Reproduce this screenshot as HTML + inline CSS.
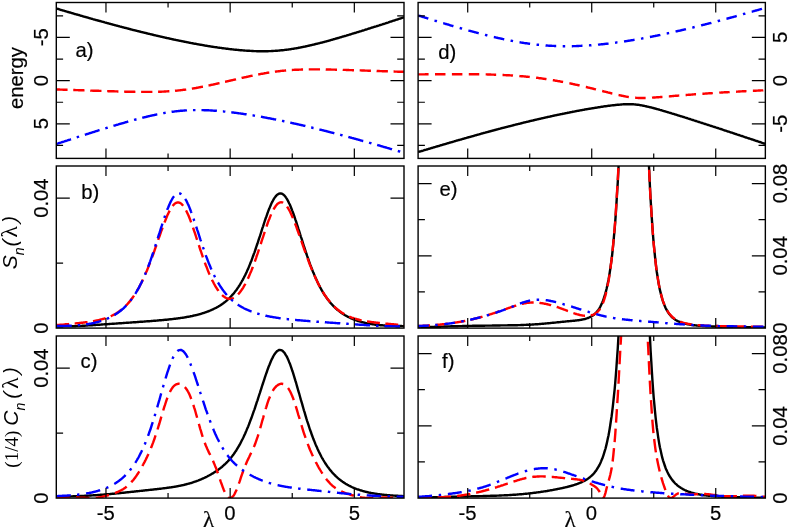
<!DOCTYPE html>
<html><head><meta charset="utf-8"><title>fig</title>
<style>html,body{margin:0;padding:0;background:#fff;}svg{display:block}</style></head>
<body><svg width="789" height="529" viewBox="0 0 789 529">
<rect width="789" height="529" fill="#fff"/>
<clipPath id="cpa"><rect x="56.3" y="2.5" width="347.7" height="155.9"/></clipPath>
<g clip-path="url(#cpa)" fill="none" stroke-width="2.4" stroke-linejoin="round">
<path d="M56.3,144.0 L56.9,143.8 L57.5,143.6 L58.2,143.4 L58.8,143.2 L59.4,143.0 L60.0,142.8 L60.6,142.6 L61.3,142.4 L61.9,142.2 L62.5,142.0 L63.1,141.8 L63.8,141.6 L64.4,141.4 L65.0,141.2 L65.6,141.0 L66.2,140.8 L66.9,140.6 L67.5,140.4 L68.1,140.2 L68.7,140.0 L69.3,139.8 L70.0,139.6 L70.6,139.4 L71.2,139.2 L71.8,138.9 L72.4,138.7 L73.1,138.5 L73.7,138.3 L74.3,138.1 L74.9,137.9 L75.5,137.7 L76.2,137.5 L76.8,137.3 L77.4,137.1 L78.0,136.9 L78.7,136.7 L79.3,136.5 L79.9,136.3 L80.5,136.1 L81.1,135.9 L81.8,135.7 L82.4,135.5 L83.0,135.3 L83.6,135.1 L84.2,134.9 L84.9,134.7 L85.5,134.6 L86.1,134.4 L86.7,134.2 L87.3,134.0 L88.0,133.8 L88.6,133.6 L89.2,133.4 L89.8,133.2 L90.4,133.0 L91.1,132.8 L91.7,132.6 L92.3,132.4 L92.9,132.2 L93.6,132.0 L94.2,131.8 L94.8,131.6 L95.4,131.4 L96.0,131.2 L96.7,131.0 L97.3,130.8 L97.9,130.6 L98.5,130.4 L99.1,130.2 L99.8,130.0 L100.4,129.9 L101.0,129.7 L101.6,129.5 L102.2,129.3 L102.9,129.1 L103.5,128.9 L104.1,128.7 L104.7,128.5 L105.4,128.3 L106.0,128.1 L106.6,127.9 L107.2,127.8 L107.8,127.6 L108.5,127.4 L109.1,127.2 L109.7,127.0 L110.3,126.8 L110.9,126.6 L111.6,126.4 L112.2,126.2 L112.8,126.1 L113.4,125.9 L114.0,125.7 L114.7,125.5 L115.3,125.3 L115.9,125.1 L116.5,124.9 L117.1,124.8 L117.8,124.6 L118.4,124.4 L119.0,124.2 L119.6,124.0 L120.3,123.9 L120.9,123.7 L121.5,123.5 L122.1,123.3 L122.7,123.1 L123.4,123.0 L124.0,122.8 L124.6,122.6 L125.2,122.4 L125.8,122.2 L126.5,122.1 L127.1,121.9 L127.7,121.7 L128.3,121.5 L128.9,121.4 L129.6,121.2 L130.2,121.0 L130.8,120.8 L131.4,120.7 L132.0,120.5 L132.7,120.3 L133.3,120.2 L133.9,120.0 L134.5,119.8 L135.2,119.7 L135.8,119.5 L136.4,119.3 L137.0,119.2 L137.6,119.0 L138.3,118.8 L138.9,118.7 L139.5,118.5 L140.1,118.4 L140.7,118.2 L141.4,118.0 L142.0,117.9 L142.6,117.7 L143.2,117.6 L143.8,117.4 L144.5,117.3 L145.1,117.1 L145.7,117.0 L146.3,116.8 L147.0,116.7 L147.6,116.5 L148.2,116.4 L148.8,116.2 L149.4,116.1 L150.1,115.9 L150.7,115.8 L151.3,115.6 L151.9,115.5 L152.5,115.4 L153.2,115.2 L153.8,115.1 L154.4,115.0 L155.0,114.8 L155.6,114.7 L156.3,114.6 L156.9,114.4 L157.5,114.3 L158.1,114.2 L158.7,114.1 L159.4,113.9 L160.0,113.8 L160.6,113.7 L161.2,113.6 L161.9,113.5 L162.5,113.3 L163.1,113.2 L163.7,113.1 L164.3,113.0 L165.0,112.9 L165.6,112.8 L166.2,112.7 L166.8,112.6 L167.4,112.5 L168.1,112.4 L168.7,112.3 L169.3,112.2 L169.9,112.1 L170.5,112.0 L171.2,111.9 L171.8,111.8 L172.4,111.7 L173.0,111.7 L173.6,111.6 L174.3,111.5 L174.9,111.4 L175.5,111.4 L176.1,111.3 L176.8,111.2 L177.4,111.1 L178.0,111.1 L178.6,111.0 L179.2,111.0 L179.9,110.9 L180.5,110.8 L181.1,110.8 L181.7,110.7 L182.3,110.7 L183.0,110.6 L183.6,110.6 L184.2,110.5 L184.8,110.5 L185.4,110.4 L186.1,110.4 L186.7,110.4 L187.3,110.3 L187.9,110.3 L188.6,110.3 L189.2,110.2 L189.8,110.2 L190.4,110.2 L191.0,110.2 L191.7,110.2 L192.3,110.1 L192.9,110.1 L193.5,110.1 L194.1,110.1 L194.8,110.1 L195.4,110.1 L196.0,110.1 L196.6,110.1 L197.2,110.1 L197.9,110.1 L198.5,110.1 L199.1,110.1 L199.7,110.1 L200.3,110.1 L201.0,110.1 L201.6,110.1 L202.2,110.1 L202.8,110.1 L203.5,110.1 L204.1,110.2 L204.7,110.2 L205.3,110.2 L205.9,110.2 L206.6,110.2 L207.2,110.3 L207.8,110.3 L208.4,110.3 L209.0,110.4 L209.7,110.4 L210.3,110.4 L210.9,110.5 L211.5,110.5 L212.1,110.5 L212.8,110.6 L213.4,110.6 L214.0,110.7 L214.6,110.7 L215.2,110.7 L215.9,110.8 L216.5,110.8 L217.1,110.9 L217.7,110.9 L218.4,111.0 L219.0,111.0 L219.6,111.1 L220.2,111.1 L220.8,111.2 L221.5,111.3 L222.1,111.3 L222.7,111.4 L223.3,111.4 L223.9,111.5 L224.6,111.6 L225.2,111.6 L225.8,111.7 L226.4,111.7 L227.0,111.8 L227.7,111.9 L228.3,111.9 L228.9,112.0 L229.5,112.1 L230.1,112.2 L230.8,112.2 L231.4,112.3 L232.0,112.4 L232.6,112.5 L233.3,112.5 L233.9,112.6 L234.5,112.7 L235.1,112.8 L235.7,112.9 L236.4,112.9 L237.0,113.0 L237.6,113.1 L238.2,113.2 L238.8,113.3 L239.5,113.4 L240.1,113.4 L240.7,113.5 L241.3,113.6 L241.9,113.7 L242.6,113.8 L243.2,113.9 L243.8,114.0 L244.4,114.1 L245.1,114.2 L245.7,114.2 L246.3,114.3 L246.9,114.4 L247.5,114.5 L248.2,114.6 L248.8,114.7 L249.4,114.8 L250.0,114.9 L250.6,115.0 L251.3,115.1 L251.9,115.2 L252.5,115.3 L253.1,115.4 L253.7,115.5 L254.4,115.6 L255.0,115.7 L255.6,115.8 L256.2,115.9 L256.8,116.1 L257.5,116.2 L258.1,116.3 L258.7,116.4 L259.3,116.5 L260.0,116.6 L260.6,116.7 L261.2,116.8 L261.8,116.9 L262.4,117.0 L263.1,117.2 L263.7,117.3 L264.3,117.4 L264.9,117.5 L265.5,117.6 L266.2,117.7 L266.8,117.8 L267.4,118.0 L268.0,118.1 L268.6,118.2 L269.3,118.3 L269.9,118.4 L270.5,118.5 L271.1,118.7 L271.7,118.8 L272.4,118.9 L273.0,119.0 L273.6,119.2 L274.2,119.3 L274.9,119.4 L275.5,119.5 L276.1,119.6 L276.7,119.8 L277.3,119.9 L278.0,120.0 L278.6,120.2 L279.2,120.3 L279.8,120.4 L280.4,120.5 L281.1,120.7 L281.7,120.8 L282.3,120.9 L282.9,121.0 L283.5,121.2 L284.2,121.3 L284.8,121.4 L285.4,121.6 L286.0,121.7 L286.7,121.8 L287.3,122.0 L287.9,122.1 L288.5,122.2 L289.1,122.4 L289.8,122.5 L290.4,122.6 L291.0,122.8 L291.6,122.9 L292.2,123.1 L292.9,123.2 L293.5,123.3 L294.1,123.5 L294.7,123.6 L295.3,123.7 L296.0,123.9 L296.6,124.0 L297.2,124.2 L297.8,124.3 L298.4,124.4 L299.1,124.6 L299.7,124.7 L300.3,124.9 L300.9,125.0 L301.6,125.2 L302.2,125.3 L302.8,125.4 L303.4,125.6 L304.0,125.7 L304.7,125.9 L305.3,126.0 L305.9,126.2 L306.5,126.3 L307.1,126.5 L307.8,126.6 L308.4,126.8 L309.0,126.9 L309.6,127.1 L310.2,127.2 L310.9,127.4 L311.5,127.5 L312.1,127.7 L312.7,127.8 L313.3,128.0 L314.0,128.1 L314.6,128.3 L315.2,128.4 L315.8,128.6 L316.5,128.7 L317.1,128.9 L317.7,129.0 L318.3,129.2 L318.9,129.3 L319.6,129.5 L320.2,129.6 L320.8,129.8 L321.4,129.9 L322.0,130.1 L322.7,130.2 L323.3,130.4 L323.9,130.6 L324.5,130.7 L325.1,130.9 L325.8,131.0 L326.4,131.2 L327.0,131.3 L327.6,131.5 L328.3,131.7 L328.9,131.8 L329.5,132.0 L330.1,132.1 L330.7,132.3 L331.4,132.5 L332.0,132.6 L332.6,132.8 L333.2,132.9 L333.8,133.1 L334.5,133.3 L335.1,133.4 L335.7,133.6 L336.3,133.7 L336.9,133.9 L337.6,134.1 L338.2,134.2 L338.8,134.4 L339.4,134.6 L340.0,134.7 L340.7,134.9 L341.3,135.1 L341.9,135.2 L342.5,135.4 L343.2,135.6 L343.8,135.7 L344.4,135.9 L345.0,136.0 L345.6,136.2 L346.3,136.4 L346.9,136.5 L347.5,136.7 L348.1,136.9 L348.7,137.1 L349.4,137.2 L350.0,137.4 L350.6,137.6 L351.2,137.7 L351.8,137.9 L352.5,138.1 L353.1,138.2 L353.7,138.4 L354.3,138.6 L354.9,138.7 L355.6,138.9 L356.2,139.1 L356.8,139.3 L357.4,139.4 L358.1,139.6 L358.7,139.8 L359.3,139.9 L359.9,140.1 L360.5,140.3 L361.2,140.5 L361.8,140.6 L362.4,140.8 L363.0,141.0 L363.6,141.1 L364.3,141.3 L364.9,141.5 L365.5,141.7 L366.1,141.8 L366.7,142.0 L367.4,142.2 L368.0,142.4 L368.6,142.5 L369.2,142.7 L369.9,142.9 L370.5,143.1 L371.1,143.2 L371.7,143.4 L372.3,143.6 L373.0,143.8 L373.6,143.9 L374.2,144.1 L374.8,144.3 L375.4,144.5 L376.1,144.7 L376.7,144.8 L377.3,145.0 L377.9,145.2 L378.5,145.4 L379.2,145.5 L379.8,145.7 L380.4,145.9 L381.0,146.1 L381.6,146.3 L382.3,146.4 L382.9,146.6 L383.5,146.8 L384.1,147.0 L384.8,147.2 L385.4,147.3 L386.0,147.5 L386.6,147.7 L387.2,147.9 L387.9,148.1 L388.5,148.2 L389.1,148.4 L389.7,148.6 L390.3,148.8 L391.0,149.0 L391.6,149.1 L392.2,149.3 L392.8,149.5 L393.4,149.7 L394.1,149.9 L394.7,150.1 L395.3,150.2 L395.9,150.4 L396.5,150.6 L397.2,150.8 L397.8,151.0 L398.4,151.2 L399.0,151.3 L399.7,151.5 L400.3,151.7 L400.9,151.9 L401.5,152.1 L402.1,152.3 L402.8,152.4 L403.4,152.6 L404.0,152.8" stroke="#0000ff" stroke-dasharray="15.5 6 2.5 6"/>
<path d="M56.3,89.4 L56.9,89.5 L57.5,89.5 L58.2,89.5 L58.8,89.5 L59.4,89.5 L60.0,89.6 L60.6,89.6 L61.3,89.6 L61.9,89.6 L62.5,89.6 L63.1,89.7 L63.8,89.7 L64.4,89.7 L65.0,89.7 L65.6,89.7 L66.2,89.8 L66.9,89.8 L67.5,89.8 L68.1,89.8 L68.7,89.8 L69.3,89.9 L70.0,89.9 L70.6,89.9 L71.2,89.9 L71.8,89.9 L72.4,90.0 L73.1,90.0 L73.7,90.0 L74.3,90.0 L74.9,90.0 L75.5,90.1 L76.2,90.1 L76.8,90.1 L77.4,90.1 L78.0,90.1 L78.7,90.2 L79.3,90.2 L79.9,90.2 L80.5,90.2 L81.1,90.3 L81.8,90.3 L82.4,90.3 L83.0,90.3 L83.6,90.3 L84.2,90.4 L84.9,90.4 L85.5,90.4 L86.1,90.4 L86.7,90.4 L87.3,90.5 L88.0,90.5 L88.6,90.5 L89.2,90.5 L89.8,90.5 L90.4,90.6 L91.1,90.6 L91.7,90.6 L92.3,90.6 L92.9,90.7 L93.6,90.7 L94.2,90.7 L94.8,90.7 L95.4,90.7 L96.0,90.8 L96.7,90.8 L97.3,90.8 L97.9,90.8 L98.5,90.8 L99.1,90.9 L99.8,90.9 L100.4,90.9 L101.0,90.9 L101.6,90.9 L102.2,91.0 L102.9,91.0 L103.5,91.0 L104.1,91.0 L104.7,91.0 L105.4,91.1 L106.0,91.1 L106.6,91.1 L107.2,91.1 L107.8,91.1 L108.5,91.2 L109.1,91.2 L109.7,91.2 L110.3,91.2 L110.9,91.2 L111.6,91.3 L112.2,91.3 L112.8,91.3 L113.4,91.3 L114.0,91.3 L114.7,91.4 L115.3,91.4 L115.9,91.4 L116.5,91.4 L117.1,91.4 L117.8,91.5 L118.4,91.5 L119.0,91.5 L119.6,91.5 L120.3,91.5 L120.9,91.5 L121.5,91.6 L122.1,91.6 L122.7,91.6 L123.4,91.6 L124.0,91.6 L124.6,91.6 L125.2,91.7 L125.8,91.7 L126.5,91.7 L127.1,91.7 L127.7,91.7 L128.3,91.7 L128.9,91.7 L129.6,91.8 L130.2,91.8 L130.8,91.8 L131.4,91.8 L132.0,91.8 L132.7,91.8 L133.3,91.8 L133.9,91.8 L134.5,91.8 L135.2,91.9 L135.8,91.9 L136.4,91.9 L137.0,91.9 L137.6,91.9 L138.3,91.9 L138.9,91.9 L139.5,91.9 L140.1,91.9 L140.7,91.9 L141.4,91.9 L142.0,91.9 L142.6,91.9 L143.2,91.9 L143.8,91.9 L144.5,91.9 L145.1,91.9 L145.7,91.9 L146.3,91.9 L147.0,91.9 L147.6,91.9 L148.2,91.9 L148.8,91.9 L149.4,91.9 L150.1,91.9 L150.7,91.9 L151.3,91.9 L151.9,91.9 L152.5,91.9 L153.2,91.9 L153.8,91.9 L154.4,91.9 L155.0,91.9 L155.6,91.8 L156.3,91.8 L156.9,91.8 L157.5,91.8 L158.1,91.8 L158.7,91.8 L159.4,91.7 L160.0,91.7 L160.6,91.7 L161.2,91.7 L161.9,91.6 L162.5,91.6 L163.1,91.6 L163.7,91.6 L164.3,91.5 L165.0,91.5 L165.6,91.5 L166.2,91.4 L166.8,91.4 L167.4,91.4 L168.1,91.3 L168.7,91.3 L169.3,91.2 L169.9,91.2 L170.5,91.1 L171.2,91.1 L171.8,91.1 L172.4,91.0 L173.0,91.0 L173.6,90.9 L174.3,90.8 L174.9,90.8 L175.5,90.7 L176.1,90.7 L176.8,90.6 L177.4,90.6 L178.0,90.5 L178.6,90.4 L179.2,90.4 L179.9,90.3 L180.5,90.2 L181.1,90.1 L181.7,90.1 L182.3,90.0 L183.0,89.9 L183.6,89.8 L184.2,89.8 L184.8,89.7 L185.4,89.6 L186.1,89.5 L186.7,89.4 L187.3,89.3 L187.9,89.3 L188.6,89.2 L189.2,89.1 L189.8,89.0 L190.4,88.9 L191.0,88.8 L191.7,88.7 L192.3,88.6 L192.9,88.5 L193.5,88.4 L194.1,88.3 L194.8,88.2 L195.4,88.1 L196.0,88.0 L196.6,87.8 L197.2,87.7 L197.9,87.6 L198.5,87.5 L199.1,87.4 L199.7,87.3 L200.3,87.2 L201.0,87.0 L201.6,86.9 L202.2,86.8 L202.8,86.7 L203.5,86.6 L204.1,86.4 L204.7,86.3 L205.3,86.2 L205.9,86.1 L206.6,85.9 L207.2,85.8 L207.8,85.7 L208.4,85.5 L209.0,85.4 L209.7,85.3 L210.3,85.2 L210.9,85.0 L211.5,84.9 L212.1,84.7 L212.8,84.6 L213.4,84.5 L214.0,84.3 L214.6,84.2 L215.2,84.1 L215.9,83.9 L216.5,83.8 L217.1,83.7 L217.7,83.5 L218.4,83.4 L219.0,83.2 L219.6,83.1 L220.2,82.9 L220.8,82.8 L221.5,82.7 L222.1,82.5 L222.7,82.4 L223.3,82.2 L223.9,82.1 L224.6,81.9 L225.2,81.8 L225.8,81.7 L226.4,81.5 L227.0,81.4 L227.7,81.2 L228.3,81.1 L228.9,80.9 L229.5,80.8 L230.1,80.7 L230.8,80.5 L231.4,80.4 L232.0,80.2 L232.6,80.1 L233.3,79.9 L233.9,79.8 L234.5,79.6 L235.1,79.5 L235.7,79.4 L236.4,79.2 L237.0,79.1 L237.6,78.9 L238.2,78.8 L238.8,78.6 L239.5,78.5 L240.1,78.4 L240.7,78.2 L241.3,78.1 L241.9,77.9 L242.6,77.8 L243.2,77.6 L243.8,77.5 L244.4,77.4 L245.1,77.2 L245.7,77.1 L246.3,77.0 L246.9,76.8 L247.5,76.7 L248.2,76.6 L248.8,76.4 L249.4,76.3 L250.0,76.1 L250.6,76.0 L251.3,75.9 L251.9,75.8 L252.5,75.6 L253.1,75.5 L253.7,75.4 L254.4,75.2 L255.0,75.1 L255.6,75.0 L256.2,74.9 L256.8,74.7 L257.5,74.6 L258.1,74.5 L258.7,74.4 L259.3,74.3 L260.0,74.1 L260.6,74.0 L261.2,73.9 L261.8,73.8 L262.4,73.7 L263.1,73.6 L263.7,73.5 L264.3,73.3 L264.9,73.2 L265.5,73.1 L266.2,73.0 L266.8,72.9 L267.4,72.8 L268.0,72.7 L268.6,72.6 L269.3,72.5 L269.9,72.4 L270.5,72.3 L271.1,72.2 L271.7,72.1 L272.4,72.0 L273.0,72.0 L273.6,71.9 L274.2,71.8 L274.9,71.7 L275.5,71.6 L276.1,71.5 L276.7,71.5 L277.3,71.4 L278.0,71.3 L278.6,71.2 L279.2,71.2 L279.8,71.1 L280.4,71.0 L281.1,70.9 L281.7,70.9 L282.3,70.8 L282.9,70.7 L283.5,70.7 L284.2,70.6 L284.8,70.6 L285.4,70.5 L286.0,70.5 L286.7,70.4 L287.3,70.3 L287.9,70.3 L288.5,70.2 L289.1,70.2 L289.8,70.2 L290.4,70.1 L291.0,70.1 L291.6,70.0 L292.2,70.0 L292.9,69.9 L293.5,69.9 L294.1,69.9 L294.7,69.8 L295.3,69.8 L296.0,69.8 L296.6,69.7 L297.2,69.7 L297.8,69.7 L298.4,69.7 L299.1,69.6 L299.7,69.6 L300.3,69.6 L300.9,69.6 L301.6,69.5 L302.2,69.5 L302.8,69.5 L303.4,69.5 L304.0,69.5 L304.7,69.5 L305.3,69.4 L305.9,69.4 L306.5,69.4 L307.1,69.4 L307.8,69.4 L308.4,69.4 L309.0,69.4 L309.6,69.4 L310.2,69.4 L310.9,69.4 L311.5,69.4 L312.1,69.4 L312.7,69.4 L313.3,69.4 L314.0,69.4 L314.6,69.4 L315.2,69.4 L315.8,69.4 L316.5,69.4 L317.1,69.4 L317.7,69.4 L318.3,69.4 L318.9,69.4 L319.6,69.4 L320.2,69.4 L320.8,69.4 L321.4,69.4 L322.0,69.4 L322.7,69.4 L323.3,69.4 L323.9,69.4 L324.5,69.4 L325.1,69.4 L325.8,69.5 L326.4,69.5 L327.0,69.5 L327.6,69.5 L328.3,69.5 L328.9,69.5 L329.5,69.5 L330.1,69.5 L330.7,69.5 L331.4,69.6 L332.0,69.6 L332.6,69.6 L333.2,69.6 L333.8,69.6 L334.5,69.6 L335.1,69.6 L335.7,69.7 L336.3,69.7 L336.9,69.7 L337.6,69.7 L338.2,69.7 L338.8,69.7 L339.4,69.8 L340.0,69.8 L340.7,69.8 L341.3,69.8 L341.9,69.8 L342.5,69.8 L343.2,69.9 L343.8,69.9 L344.4,69.9 L345.0,69.9 L345.6,69.9 L346.3,70.0 L346.9,70.0 L347.5,70.0 L348.1,70.0 L348.7,70.0 L349.4,70.1 L350.0,70.1 L350.6,70.1 L351.2,70.1 L351.8,70.1 L352.5,70.2 L353.1,70.2 L353.7,70.2 L354.3,70.2 L354.9,70.2 L355.6,70.3 L356.2,70.3 L356.8,70.3 L357.4,70.3 L358.1,70.3 L358.7,70.4 L359.3,70.4 L359.9,70.4 L360.5,70.4 L361.2,70.4 L361.8,70.5 L362.4,70.5 L363.0,70.5 L363.6,70.5 L364.3,70.5 L364.9,70.6 L365.5,70.6 L366.1,70.6 L366.7,70.6 L367.4,70.6 L368.0,70.7 L368.6,70.7 L369.2,70.7 L369.9,70.7 L370.5,70.8 L371.1,70.8 L371.7,70.8 L372.3,70.8 L373.0,70.8 L373.6,70.9 L374.2,70.9 L374.8,70.9 L375.4,70.9 L376.1,70.9 L376.7,71.0 L377.3,71.0 L377.9,71.0 L378.5,71.0 L379.2,71.0 L379.8,71.1 L380.4,71.1 L381.0,71.1 L381.6,71.1 L382.3,71.2 L382.9,71.2 L383.5,71.2 L384.1,71.2 L384.8,71.2 L385.4,71.3 L386.0,71.3 L386.6,71.3 L387.2,71.3 L387.9,71.3 L388.5,71.4 L389.1,71.4 L389.7,71.4 L390.3,71.4 L391.0,71.4 L391.6,71.5 L392.2,71.5 L392.8,71.5 L393.4,71.5 L394.1,71.5 L394.7,71.6 L395.3,71.6 L395.9,71.6 L396.5,71.6 L397.2,71.6 L397.8,71.7 L398.4,71.7 L399.0,71.7 L399.7,71.7 L400.3,71.7 L400.9,71.8 L401.5,71.8 L402.1,71.8 L402.8,71.8 L403.4,71.8 L404.0,71.9" stroke="#ff0000" stroke-dasharray="11.3 5.7"/>
<path d="M56.3,8.5 L56.9,8.7 L57.5,8.9 L58.2,9.0 L58.8,9.2 L59.4,9.4 L60.0,9.6 L60.6,9.8 L61.3,10.0 L61.9,10.1 L62.5,10.3 L63.1,10.5 L63.8,10.7 L64.4,10.9 L65.0,11.1 L65.6,11.2 L66.2,11.4 L66.9,11.6 L67.5,11.8 L68.1,12.0 L68.7,12.2 L69.3,12.3 L70.0,12.5 L70.6,12.7 L71.2,12.9 L71.8,13.1 L72.4,13.2 L73.1,13.4 L73.7,13.6 L74.3,13.8 L74.9,14.0 L75.5,14.1 L76.2,14.3 L76.8,14.5 L77.4,14.7 L78.0,14.9 L78.7,15.0 L79.3,15.2 L79.9,15.4 L80.5,15.6 L81.1,15.8 L81.8,15.9 L82.4,16.1 L83.0,16.3 L83.6,16.5 L84.2,16.6 L84.9,16.8 L85.5,17.0 L86.1,17.2 L86.7,17.4 L87.3,17.5 L88.0,17.7 L88.6,17.9 L89.2,18.1 L89.8,18.2 L90.4,18.4 L91.1,18.6 L91.7,18.8 L92.3,18.9 L92.9,19.1 L93.6,19.3 L94.2,19.5 L94.8,19.6 L95.4,19.8 L96.0,20.0 L96.7,20.2 L97.3,20.3 L97.9,20.5 L98.5,20.7 L99.1,20.8 L99.8,21.0 L100.4,21.2 L101.0,21.4 L101.6,21.5 L102.2,21.7 L102.9,21.9 L103.5,22.0 L104.1,22.2 L104.7,22.4 L105.4,22.6 L106.0,22.7 L106.6,22.9 L107.2,23.1 L107.8,23.2 L108.5,23.4 L109.1,23.6 L109.7,23.7 L110.3,23.9 L110.9,24.1 L111.6,24.2 L112.2,24.4 L112.8,24.6 L113.4,24.8 L114.0,24.9 L114.7,25.1 L115.3,25.3 L115.9,25.4 L116.5,25.6 L117.1,25.7 L117.8,25.9 L118.4,26.1 L119.0,26.2 L119.6,26.4 L120.3,26.6 L120.9,26.7 L121.5,26.9 L122.1,27.1 L122.7,27.2 L123.4,27.4 L124.0,27.6 L124.6,27.7 L125.2,27.9 L125.8,28.0 L126.5,28.2 L127.1,28.4 L127.7,28.5 L128.3,28.7 L128.9,28.8 L129.6,29.0 L130.2,29.2 L130.8,29.3 L131.4,29.5 L132.0,29.6 L132.7,29.8 L133.3,30.0 L133.9,30.1 L134.5,30.3 L135.2,30.4 L135.8,30.6 L136.4,30.7 L137.0,30.9 L137.6,31.1 L138.3,31.2 L138.9,31.4 L139.5,31.5 L140.1,31.7 L140.7,31.8 L141.4,32.0 L142.0,32.1 L142.6,32.3 L143.2,32.4 L143.8,32.6 L144.5,32.7 L145.1,32.9 L145.7,33.0 L146.3,33.2 L147.0,33.3 L147.6,33.5 L148.2,33.6 L148.8,33.8 L149.4,33.9 L150.1,34.1 L150.7,34.2 L151.3,34.4 L151.9,34.5 L152.5,34.7 L153.2,34.8 L153.8,35.0 L154.4,35.1 L155.0,35.3 L155.6,35.4 L156.3,35.6 L156.9,35.7 L157.5,35.9 L158.1,36.0 L158.7,36.1 L159.4,36.3 L160.0,36.4 L160.6,36.6 L161.2,36.7 L161.9,36.9 L162.5,37.0 L163.1,37.1 L163.7,37.3 L164.3,37.4 L165.0,37.6 L165.6,37.7 L166.2,37.8 L166.8,38.0 L167.4,38.1 L168.1,38.2 L168.7,38.4 L169.3,38.5 L169.9,38.7 L170.5,38.8 L171.2,38.9 L171.8,39.1 L172.4,39.2 L173.0,39.3 L173.6,39.5 L174.3,39.6 L174.9,39.7 L175.5,39.9 L176.1,40.0 L176.8,40.1 L177.4,40.3 L178.0,40.4 L178.6,40.5 L179.2,40.6 L179.9,40.8 L180.5,40.9 L181.1,41.0 L181.7,41.1 L182.3,41.3 L183.0,41.4 L183.6,41.5 L184.2,41.7 L184.8,41.8 L185.4,41.9 L186.1,42.0 L186.7,42.1 L187.3,42.3 L187.9,42.4 L188.6,42.5 L189.2,42.6 L189.8,42.8 L190.4,42.9 L191.0,43.0 L191.7,43.1 L192.3,43.2 L192.9,43.3 L193.5,43.5 L194.1,43.6 L194.8,43.7 L195.4,43.8 L196.0,43.9 L196.6,44.0 L197.2,44.1 L197.9,44.3 L198.5,44.4 L199.1,44.5 L199.7,44.6 L200.3,44.7 L201.0,44.8 L201.6,44.9 L202.2,45.0 L202.8,45.1 L203.5,45.2 L204.1,45.4 L204.7,45.5 L205.3,45.6 L205.9,45.7 L206.6,45.8 L207.2,45.9 L207.8,46.0 L208.4,46.1 L209.0,46.2 L209.7,46.3 L210.3,46.4 L210.9,46.5 L211.5,46.6 L212.1,46.7 L212.8,46.8 L213.4,46.9 L214.0,47.0 L214.6,47.1 L215.2,47.1 L215.9,47.2 L216.5,47.3 L217.1,47.4 L217.7,47.5 L218.4,47.6 L219.0,47.7 L219.6,47.8 L220.2,47.9 L220.8,47.9 L221.5,48.0 L222.1,48.1 L222.7,48.2 L223.3,48.3 L223.9,48.4 L224.6,48.4 L225.2,48.5 L225.8,48.6 L226.4,48.7 L227.0,48.8 L227.7,48.8 L228.3,48.9 L228.9,49.0 L229.5,49.1 L230.1,49.1 L230.8,49.2 L231.4,49.3 L232.0,49.4 L232.6,49.4 L233.3,49.5 L233.9,49.6 L234.5,49.6 L235.1,49.7 L235.7,49.7 L236.4,49.8 L237.0,49.9 L237.6,49.9 L238.2,50.0 L238.8,50.0 L239.5,50.1 L240.1,50.2 L240.7,50.2 L241.3,50.3 L241.9,50.3 L242.6,50.4 L243.2,50.4 L243.8,50.5 L244.4,50.5 L245.1,50.6 L245.7,50.6 L246.3,50.6 L246.9,50.7 L247.5,50.7 L248.2,50.8 L248.8,50.8 L249.4,50.8 L250.0,50.9 L250.6,50.9 L251.3,50.9 L251.9,51.0 L252.5,51.0 L253.1,51.0 L253.7,51.1 L254.4,51.1 L255.0,51.1 L255.6,51.1 L256.2,51.1 L256.8,51.2 L257.5,51.2 L258.1,51.2 L258.7,51.2 L259.3,51.2 L260.0,51.2 L260.6,51.2 L261.2,51.2 L261.8,51.2 L262.4,51.2 L263.1,51.2 L263.7,51.2 L264.3,51.2 L264.9,51.2 L265.5,51.2 L266.2,51.2 L266.8,51.2 L267.4,51.2 L268.0,51.2 L268.6,51.1 L269.3,51.1 L269.9,51.1 L270.5,51.1 L271.1,51.1 L271.7,51.0 L272.4,51.0 L273.0,51.0 L273.6,50.9 L274.2,50.9 L274.9,50.9 L275.5,50.8 L276.1,50.8 L276.7,50.7 L277.3,50.7 L278.0,50.6 L278.6,50.6 L279.2,50.5 L279.8,50.5 L280.4,50.4 L281.1,50.3 L281.7,50.3 L282.3,50.2 L282.9,50.2 L283.5,50.1 L284.2,50.0 L284.8,49.9 L285.4,49.9 L286.0,49.8 L286.7,49.7 L287.3,49.6 L287.9,49.6 L288.5,49.5 L289.1,49.4 L289.8,49.3 L290.4,49.2 L291.0,49.1 L291.6,49.0 L292.2,48.9 L292.9,48.8 L293.5,48.7 L294.1,48.6 L294.7,48.5 L295.3,48.4 L296.0,48.3 L296.6,48.2 L297.2,48.1 L297.8,48.0 L298.4,47.8 L299.1,47.7 L299.7,47.6 L300.3,47.5 L300.9,47.4 L301.6,47.2 L302.2,47.1 L302.8,47.0 L303.4,46.9 L304.0,46.7 L304.7,46.6 L305.3,46.5 L305.9,46.3 L306.5,46.2 L307.1,46.1 L307.8,45.9 L308.4,45.8 L309.0,45.7 L309.6,45.5 L310.2,45.4 L310.9,45.2 L311.5,45.1 L312.1,44.9 L312.7,44.8 L313.3,44.6 L314.0,44.5 L314.6,44.3 L315.2,44.2 L315.8,44.0 L316.5,43.9 L317.1,43.7 L317.7,43.6 L318.3,43.4 L318.9,43.3 L319.6,43.1 L320.2,42.9 L320.8,42.8 L321.4,42.6 L322.0,42.5 L322.7,42.3 L323.3,42.1 L323.9,42.0 L324.5,41.8 L325.1,41.6 L325.8,41.5 L326.4,41.3 L327.0,41.1 L327.6,41.0 L328.3,40.8 L328.9,40.6 L329.5,40.5 L330.1,40.3 L330.7,40.1 L331.4,39.9 L332.0,39.8 L332.6,39.6 L333.2,39.4 L333.8,39.2 L334.5,39.1 L335.1,38.9 L335.7,38.7 L336.3,38.5 L336.9,38.3 L337.6,38.2 L338.2,38.0 L338.8,37.8 L339.4,37.6 L340.0,37.4 L340.7,37.3 L341.3,37.1 L341.9,36.9 L342.5,36.7 L343.2,36.5 L343.8,36.4 L344.4,36.2 L345.0,36.0 L345.6,35.8 L346.3,35.6 L346.9,35.4 L347.5,35.2 L348.1,35.1 L348.7,34.9 L349.4,34.7 L350.0,34.5 L350.6,34.3 L351.2,34.1 L351.8,33.9 L352.5,33.7 L353.1,33.5 L353.7,33.4 L354.3,33.2 L354.9,33.0 L355.6,32.8 L356.2,32.6 L356.8,32.4 L357.4,32.2 L358.1,32.0 L358.7,31.8 L359.3,31.6 L359.9,31.4 L360.5,31.3 L361.2,31.1 L361.8,30.9 L362.4,30.7 L363.0,30.5 L363.6,30.3 L364.3,30.1 L364.9,29.9 L365.5,29.7 L366.1,29.5 L366.7,29.3 L367.4,29.1 L368.0,28.9 L368.6,28.7 L369.2,28.5 L369.9,28.3 L370.5,28.1 L371.1,27.9 L371.7,27.7 L372.3,27.5 L373.0,27.3 L373.6,27.1 L374.2,26.9 L374.8,26.7 L375.4,26.6 L376.1,26.4 L376.7,26.2 L377.3,26.0 L377.9,25.8 L378.5,25.6 L379.2,25.4 L379.8,25.2 L380.4,25.0 L381.0,24.8 L381.6,24.6 L382.3,24.4 L382.9,24.2 L383.5,24.0 L384.1,23.8 L384.8,23.6 L385.4,23.4 L386.0,23.2 L386.6,23.0 L387.2,22.8 L387.9,22.6 L388.5,22.4 L389.1,22.1 L389.7,21.9 L390.3,21.7 L391.0,21.5 L391.6,21.3 L392.2,21.1 L392.8,20.9 L393.4,20.7 L394.1,20.5 L394.7,20.3 L395.3,20.1 L395.9,19.9 L396.5,19.7 L397.2,19.5 L397.8,19.3 L398.4,19.1 L399.0,18.9 L399.7,18.7 L400.3,18.5 L400.9,18.3 L401.5,18.1 L402.1,17.9 L402.8,17.7 L403.4,17.5 L404.0,17.3" stroke="#000000"/>
</g>
<path d="M105.97,2.5v10 M105.97,158.4v-10 M230.15,2.5v10 M230.15,158.4v-10 M354.33,2.5v10 M354.33,158.4v-10 M168.06,2.5v5 M168.06,158.4v-5 M292.24,2.5v5 M292.24,158.4v-5 M56.3,37.45h13.5 M404.0,37.45h-13.5 M56.3,80.65h13.5 M404.0,80.65h-13.5 M56.3,123.85h13.5 M404.0,123.85h-13.5 M56.3,15.85h6.8 M404.0,15.85h-6.8 M56.3,59.05h6.8 M404.0,59.05h-6.8 M56.3,102.25h6.8 M404.0,102.25h-6.8 M56.3,145.45h6.8 M404.0,145.45h-6.8" stroke="#000" stroke-width="1.2" fill="none"/>
<rect x="56.3" y="2.5" width="347.7" height="155.9" fill="none" stroke="#000" stroke-width="1.4"/>
<clipPath id="cpd"><rect x="418.1" y="2.5" width="347.25" height="155.9"/></clipPath>
<g clip-path="url(#cpd)" fill="none" stroke-width="2.4" stroke-linejoin="round">
<path d="M418.1,15.4 L418.7,15.6 L419.3,15.8 L420.0,16.0 L420.6,16.2 L421.2,16.4 L421.8,16.6 L422.4,16.8 L423.1,17.0 L423.7,17.2 L424.3,17.4 L424.9,17.6 L425.5,17.7 L426.2,17.9 L426.8,18.1 L427.4,18.3 L428.0,18.5 L428.6,18.7 L429.3,18.9 L429.9,19.1 L430.5,19.3 L431.1,19.5 L431.7,19.7 L432.4,19.9 L433.0,20.0 L433.6,20.2 L434.2,20.4 L434.8,20.6 L435.5,20.8 L436.1,21.0 L436.7,21.2 L437.3,21.4 L437.9,21.6 L438.6,21.8 L439.2,21.9 L439.8,22.1 L440.4,22.3 L441.0,22.5 L441.7,22.7 L442.3,22.9 L442.9,23.1 L443.5,23.2 L444.1,23.4 L444.8,23.6 L445.4,23.8 L446.0,24.0 L446.6,24.2 L447.2,24.4 L447.9,24.5 L448.5,24.7 L449.1,24.9 L449.7,25.1 L450.3,25.3 L451.0,25.5 L451.6,25.6 L452.2,25.8 L452.8,26.0 L453.4,26.2 L454.1,26.4 L454.7,26.5 L455.3,26.7 L455.9,26.9 L456.5,27.1 L457.2,27.3 L457.8,27.4 L458.4,27.6 L459.0,27.8 L459.6,28.0 L460.3,28.2 L460.9,28.3 L461.5,28.5 L462.1,28.7 L462.7,28.9 L463.4,29.0 L464.0,29.2 L464.6,29.4 L465.2,29.6 L465.8,29.7 L466.5,29.9 L467.1,30.1 L467.7,30.3 L468.3,30.4 L468.9,30.6 L469.6,30.8 L470.2,30.9 L470.8,31.1 L471.4,31.3 L472.0,31.4 L472.7,31.6 L473.3,31.8 L473.9,31.9 L474.5,32.1 L475.1,32.3 L475.8,32.4 L476.4,32.6 L477.0,32.8 L477.6,32.9 L478.2,33.1 L478.9,33.3 L479.5,33.4 L480.1,33.6 L480.7,33.7 L481.3,33.9 L482.0,34.1 L482.6,34.2 L483.2,34.4 L483.8,34.5 L484.4,34.7 L485.1,34.9 L485.7,35.0 L486.3,35.2 L486.9,35.3 L487.6,35.5 L488.2,35.6 L488.8,35.8 L489.4,35.9 L490.0,36.1 L490.7,36.2 L491.3,36.4 L491.9,36.5 L492.5,36.7 L493.1,36.8 L493.8,37.0 L494.4,37.1 L495.0,37.3 L495.6,37.4 L496.2,37.6 L496.9,37.7 L497.5,37.8 L498.1,38.0 L498.7,38.1 L499.3,38.3 L500.0,38.4 L500.6,38.5 L501.2,38.7 L501.8,38.8 L502.4,38.9 L503.1,39.1 L503.7,39.2 L504.3,39.3 L504.9,39.5 L505.5,39.6 L506.2,39.7 L506.8,39.8 L507.4,40.0 L508.0,40.1 L508.6,40.2 L509.3,40.3 L509.9,40.5 L510.5,40.6 L511.1,40.7 L511.7,40.8 L512.4,40.9 L513.0,41.1 L513.6,41.2 L514.2,41.3 L514.8,41.4 L515.5,41.5 L516.1,41.6 L516.7,41.7 L517.3,41.9 L517.9,42.0 L518.6,42.1 L519.2,42.2 L519.8,42.3 L520.4,42.4 L521.0,42.5 L521.7,42.6 L522.3,42.7 L522.9,42.8 L523.5,42.9 L524.1,43.0 L524.8,43.1 L525.4,43.2 L526.0,43.3 L526.6,43.3 L527.2,43.4 L527.9,43.5 L528.5,43.6 L529.1,43.7 L529.7,43.8 L530.3,43.9 L531.0,43.9 L531.6,44.0 L532.2,44.1 L532.8,44.2 L533.4,44.2 L534.1,44.3 L534.7,44.4 L535.3,44.5 L535.9,44.5 L536.5,44.6 L537.2,44.7 L537.8,44.7 L538.4,44.8 L539.0,44.9 L539.6,44.9 L540.3,45.0 L540.9,45.0 L541.5,45.1 L542.1,45.2 L542.7,45.2 L543.4,45.3 L544.0,45.3 L544.6,45.4 L545.2,45.4 L545.8,45.5 L546.5,45.5 L547.1,45.5 L547.7,45.6 L548.3,45.6 L548.9,45.7 L549.6,45.7 L550.2,45.7 L550.8,45.8 L551.4,45.8 L552.0,45.9 L552.7,45.9 L553.3,45.9 L553.9,45.9 L554.5,46.0 L555.1,46.0 L555.8,46.0 L556.4,46.0 L557.0,46.1 L557.6,46.1 L558.2,46.1 L558.9,46.1 L559.5,46.1 L560.1,46.2 L560.7,46.2 L561.3,46.2 L562.0,46.2 L562.6,46.2 L563.2,46.2 L563.8,46.2 L564.4,46.2 L565.1,46.2 L565.7,46.2 L566.3,46.2 L566.9,46.2 L567.5,46.2 L568.2,46.2 L568.8,46.2 L569.4,46.2 L570.0,46.2 L570.6,46.2 L571.3,46.2 L571.9,46.2 L572.5,46.2 L573.1,46.1 L573.7,46.1 L574.4,46.1 L575.0,46.1 L575.6,46.1 L576.2,46.1 L576.8,46.0 L577.5,46.0 L578.1,46.0 L578.7,46.0 L579.3,45.9 L579.9,45.9 L580.6,45.9 L581.2,45.9 L581.8,45.8 L582.4,45.8 L583.0,45.8 L583.7,45.7 L584.3,45.7 L584.9,45.7 L585.5,45.6 L586.1,45.6 L586.8,45.6 L587.4,45.5 L588.0,45.5 L588.6,45.4 L589.2,45.4 L589.9,45.3 L590.5,45.3 L591.1,45.3 L591.7,45.2 L592.3,45.2 L593.0,45.1 L593.6,45.1 L594.2,45.0 L594.8,45.0 L595.4,44.9 L596.1,44.8 L596.7,44.8 L597.3,44.7 L597.9,44.7 L598.5,44.6 L599.2,44.6 L599.8,44.5 L600.4,44.4 L601.0,44.4 L601.6,44.3 L602.3,44.2 L602.9,44.2 L603.5,44.1 L604.1,44.0 L604.7,44.0 L605.4,43.9 L606.0,43.8 L606.6,43.8 L607.2,43.7 L607.8,43.6 L608.5,43.6 L609.1,43.5 L609.7,43.4 L610.3,43.3 L610.9,43.3 L611.6,43.2 L612.2,43.1 L612.8,43.0 L613.4,42.9 L614.0,42.9 L614.7,42.8 L615.3,42.7 L615.9,42.6 L616.5,42.5 L617.1,42.4 L617.8,42.4 L618.4,42.3 L619.0,42.2 L619.6,42.1 L620.2,42.0 L620.9,41.9 L621.5,41.8 L622.1,41.7 L622.7,41.6 L623.3,41.6 L624.0,41.5 L624.6,41.4 L625.2,41.3 L625.8,41.2 L626.5,41.1 L627.1,41.0 L627.7,40.9 L628.3,40.8 L628.9,40.7 L629.6,40.6 L630.2,40.5 L630.8,40.4 L631.4,40.3 L632.0,40.2 L632.7,40.1 L633.3,40.0 L633.9,39.9 L634.5,39.8 L635.1,39.7 L635.8,39.6 L636.4,39.5 L637.0,39.4 L637.6,39.2 L638.2,39.1 L638.9,39.0 L639.5,38.9 L640.1,38.8 L640.7,38.7 L641.3,38.6 L642.0,38.5 L642.6,38.4 L643.2,38.2 L643.8,38.1 L644.4,38.0 L645.1,37.9 L645.7,37.8 L646.3,37.7 L646.9,37.5 L647.5,37.4 L648.2,37.3 L648.8,37.2 L649.4,37.1 L650.0,37.0 L650.6,36.8 L651.3,36.7 L651.9,36.6 L652.5,36.5 L653.1,36.3 L653.7,36.2 L654.4,36.1 L655.0,36.0 L655.6,35.8 L656.2,35.7 L656.8,35.6 L657.5,35.5 L658.1,35.3 L658.7,35.2 L659.3,35.1 L659.9,35.0 L660.6,34.8 L661.2,34.7 L661.8,34.6 L662.4,34.4 L663.0,34.3 L663.7,34.2 L664.3,34.0 L664.9,33.9 L665.5,33.8 L666.1,33.6 L666.8,33.5 L667.4,33.4 L668.0,33.2 L668.6,33.1 L669.2,33.0 L669.9,32.8 L670.5,32.7 L671.1,32.6 L671.7,32.4 L672.3,32.3 L673.0,32.1 L673.6,32.0 L674.2,31.9 L674.8,31.7 L675.4,31.6 L676.1,31.4 L676.7,31.3 L677.3,31.2 L677.9,31.0 L678.5,30.9 L679.2,30.7 L679.8,30.6 L680.4,30.5 L681.0,30.3 L681.6,30.2 L682.3,30.0 L682.9,29.9 L683.5,29.7 L684.1,29.6 L684.7,29.4 L685.4,29.3 L686.0,29.1 L686.6,29.0 L687.2,28.8 L687.8,28.7 L688.5,28.5 L689.1,28.4 L689.7,28.2 L690.3,28.1 L690.9,27.9 L691.6,27.8 L692.2,27.6 L692.8,27.5 L693.4,27.3 L694.0,27.2 L694.7,27.0 L695.3,26.9 L695.9,26.7 L696.5,26.6 L697.1,26.4 L697.8,26.3 L698.4,26.1 L699.0,26.0 L699.6,25.8 L700.2,25.7 L700.9,25.5 L701.5,25.3 L702.1,25.2 L702.7,25.0 L703.3,24.9 L704.0,24.7 L704.6,24.6 L705.2,24.4 L705.8,24.2 L706.4,24.1 L707.1,23.9 L707.7,23.8 L708.3,23.6 L708.9,23.4 L709.5,23.3 L710.2,23.1 L710.8,23.0 L711.4,22.8 L712.0,22.6 L712.6,22.5 L713.3,22.3 L713.9,22.1 L714.5,22.0 L715.1,21.8 L715.7,21.7 L716.4,21.5 L717.0,21.3 L717.6,21.2 L718.2,21.0 L718.8,20.8 L719.5,20.7 L720.1,20.5 L720.7,20.3 L721.3,20.2 L721.9,20.0 L722.6,19.8 L723.2,19.7 L723.8,19.5 L724.4,19.3 L725.0,19.2 L725.7,19.0 L726.3,18.8 L726.9,18.7 L727.5,18.5 L728.1,18.3 L728.8,18.2 L729.4,18.0 L730.0,17.8 L730.6,17.7 L731.2,17.5 L731.9,17.3 L732.5,17.1 L733.1,17.0 L733.7,16.8 L734.3,16.6 L735.0,16.5 L735.6,16.3 L736.2,16.1 L736.8,15.9 L737.4,15.8 L738.1,15.6 L738.7,15.4 L739.3,15.3 L739.9,15.1 L740.5,14.9 L741.2,14.7 L741.8,14.6 L742.4,14.4 L743.0,14.2 L743.6,14.0 L744.3,13.9 L744.9,13.7 L745.5,13.5 L746.1,13.3 L746.7,13.2 L747.4,13.0 L748.0,12.8 L748.6,12.6 L749.2,12.5 L749.8,12.3 L750.5,12.1 L751.1,11.9 L751.7,11.7 L752.3,11.6 L752.9,11.4 L753.6,11.2 L754.2,11.0 L754.8,10.9 L755.4,10.7 L756.0,10.5 L756.7,10.3 L757.3,10.1 L757.9,10.0 L758.5,9.8 L759.1,9.6 L759.8,9.4 L760.4,9.2 L761.0,9.1 L761.6,8.9 L762.2,8.7 L762.9,8.5 L763.5,8.3 L764.1,8.2 L764.7,8.0 L765.4,7.8" stroke="#0000ff" stroke-dasharray="10.7 6.5 2.5 6.6"/>
<path d="M418.1,74.4 L418.7,74.4 L419.3,74.4 L420.0,74.4 L420.6,74.4 L421.2,74.4 L421.8,74.4 L422.4,74.4 L423.1,74.4 L423.7,74.4 L424.3,74.4 L424.9,74.4 L425.5,74.3 L426.2,74.3 L426.8,74.3 L427.4,74.3 L428.0,74.3 L428.6,74.3 L429.3,74.3 L429.9,74.3 L430.5,74.3 L431.1,74.3 L431.7,74.3 L432.4,74.3 L433.0,74.3 L433.6,74.3 L434.2,74.3 L434.8,74.3 L435.5,74.3 L436.1,74.2 L436.7,74.2 L437.3,74.2 L437.9,74.2 L438.6,74.2 L439.2,74.2 L439.8,74.2 L440.4,74.2 L441.0,74.2 L441.7,74.2 L442.3,74.2 L442.9,74.2 L443.5,74.2 L444.1,74.2 L444.8,74.2 L445.4,74.2 L446.0,74.2 L446.6,74.2 L447.2,74.2 L447.9,74.2 L448.5,74.2 L449.1,74.2 L449.7,74.2 L450.3,74.2 L451.0,74.2 L451.6,74.2 L452.2,74.2 L452.8,74.2 L453.4,74.2 L454.1,74.2 L454.7,74.2 L455.3,74.2 L455.9,74.2 L456.5,74.2 L457.2,74.2 L457.8,74.2 L458.4,74.2 L459.0,74.2 L459.6,74.2 L460.3,74.2 L460.9,74.2 L461.5,74.2 L462.1,74.2 L462.7,74.2 L463.4,74.2 L464.0,74.2 L464.6,74.2 L465.2,74.2 L465.8,74.2 L466.5,74.2 L467.1,74.2 L467.7,74.2 L468.3,74.2 L468.9,74.2 L469.6,74.2 L470.2,74.2 L470.8,74.2 L471.4,74.2 L472.0,74.2 L472.7,74.2 L473.3,74.2 L473.9,74.2 L474.5,74.2 L475.1,74.2 L475.8,74.2 L476.4,74.3 L477.0,74.3 L477.6,74.3 L478.2,74.3 L478.9,74.3 L479.5,74.3 L480.1,74.3 L480.7,74.3 L481.3,74.3 L482.0,74.3 L482.6,74.4 L483.2,74.4 L483.8,74.4 L484.4,74.4 L485.1,74.4 L485.7,74.4 L486.3,74.4 L486.9,74.4 L487.6,74.5 L488.2,74.5 L488.8,74.5 L489.4,74.5 L490.0,74.5 L490.7,74.5 L491.3,74.6 L491.9,74.6 L492.5,74.6 L493.1,74.6 L493.8,74.6 L494.4,74.7 L495.0,74.7 L495.6,74.7 L496.2,74.7 L496.9,74.7 L497.5,74.8 L498.1,74.8 L498.7,74.8 L499.3,74.8 L500.0,74.9 L500.6,74.9 L501.2,74.9 L501.8,74.9 L502.4,75.0 L503.1,75.0 L503.7,75.0 L504.3,75.1 L504.9,75.1 L505.5,75.1 L506.2,75.2 L506.8,75.2 L507.4,75.2 L508.0,75.3 L508.6,75.3 L509.3,75.3 L509.9,75.4 L510.5,75.4 L511.1,75.4 L511.7,75.5 L512.4,75.5 L513.0,75.6 L513.6,75.6 L514.2,75.6 L514.8,75.7 L515.5,75.7 L516.1,75.8 L516.7,75.8 L517.3,75.9 L517.9,75.9 L518.6,76.0 L519.2,76.0 L519.8,76.1 L520.4,76.1 L521.0,76.2 L521.7,76.2 L522.3,76.3 L522.9,76.3 L523.5,76.4 L524.1,76.4 L524.8,76.5 L525.4,76.5 L526.0,76.6 L526.6,76.7 L527.2,76.7 L527.9,76.8 L528.5,76.9 L529.1,76.9 L529.7,77.0 L530.3,77.1 L531.0,77.1 L531.6,77.2 L532.2,77.3 L532.8,77.3 L533.4,77.4 L534.1,77.5 L534.7,77.5 L535.3,77.6 L535.9,77.7 L536.5,77.8 L537.2,77.8 L537.8,77.9 L538.4,78.0 L539.0,78.1 L539.6,78.2 L540.3,78.3 L540.9,78.3 L541.5,78.4 L542.1,78.5 L542.7,78.6 L543.4,78.7 L544.0,78.8 L544.6,78.9 L545.2,79.0 L545.8,79.0 L546.5,79.1 L547.1,79.2 L547.7,79.3 L548.3,79.4 L548.9,79.5 L549.6,79.6 L550.2,79.7 L550.8,79.8 L551.4,79.9 L552.0,80.0 L552.7,80.1 L553.3,80.2 L553.9,80.3 L554.5,80.4 L555.1,80.6 L555.8,80.7 L556.4,80.8 L557.0,80.9 L557.6,81.0 L558.2,81.1 L558.9,81.2 L559.5,81.3 L560.1,81.4 L560.7,81.6 L561.3,81.7 L562.0,81.8 L562.6,81.9 L563.2,82.0 L563.8,82.2 L564.4,82.3 L565.1,82.4 L565.7,82.5 L566.3,82.7 L566.9,82.8 L567.5,82.9 L568.2,83.0 L568.8,83.2 L569.4,83.3 L570.0,83.4 L570.6,83.5 L571.3,83.7 L571.9,83.8 L572.5,83.9 L573.1,84.1 L573.7,84.2 L574.4,84.3 L575.0,84.5 L575.6,84.6 L576.2,84.8 L576.8,84.9 L577.5,85.0 L578.1,85.2 L578.7,85.3 L579.3,85.4 L579.9,85.6 L580.6,85.7 L581.2,85.9 L581.8,86.0 L582.4,86.2 L583.0,86.3 L583.7,86.4 L584.3,86.6 L584.9,86.7 L585.5,86.9 L586.1,87.0 L586.8,87.2 L587.4,87.3 L588.0,87.5 L588.6,87.6 L589.2,87.8 L589.9,87.9 L590.5,88.1 L591.1,88.2 L591.7,88.4 L592.3,88.5 L593.0,88.7 L593.6,88.8 L594.2,89.0 L594.8,89.1 L595.4,89.3 L596.1,89.5 L596.7,89.6 L597.3,89.8 L597.9,89.9 L598.5,90.1 L599.2,90.2 L599.8,90.4 L600.4,90.5 L601.0,90.7 L601.6,90.8 L602.3,91.0 L602.9,91.2 L603.5,91.3 L604.1,91.5 L604.7,91.6 L605.4,91.8 L606.0,91.9 L606.6,92.1 L607.2,92.2 L607.8,92.4 L608.5,92.6 L609.1,92.7 L609.7,92.9 L610.3,93.0 L610.9,93.2 L611.6,93.3 L612.2,93.5 L612.8,93.6 L613.4,93.8 L614.0,93.9 L614.7,94.1 L615.3,94.2 L615.9,94.4 L616.5,94.5 L617.1,94.7 L617.8,94.8 L618.4,95.0 L619.0,95.1 L619.6,95.2 L620.2,95.4 L620.9,95.5 L621.5,95.7 L622.1,95.8 L622.7,95.9 L623.3,96.0 L624.0,96.2 L624.6,96.3 L625.2,96.4 L625.8,96.5 L626.5,96.6 L627.1,96.8 L627.7,96.9 L628.3,97.0 L628.9,97.1 L629.6,97.2 L630.2,97.2 L630.8,97.3 L631.4,97.4 L632.0,97.5 L632.7,97.6 L633.3,97.6 L633.9,97.7 L634.5,97.7 L635.1,97.8 L635.8,97.8 L636.4,97.9 L637.0,97.9 L637.6,97.9 L638.2,98.0 L638.9,98.0 L639.5,98.0 L640.1,98.0 L640.7,98.0 L641.3,98.0 L642.0,98.0 L642.6,98.0 L643.2,98.0 L643.8,98.0 L644.4,98.0 L645.1,98.0 L645.7,98.0 L646.3,97.9 L646.9,97.9 L647.5,97.9 L648.2,97.9 L648.8,97.8 L649.4,97.8 L650.0,97.8 L650.6,97.7 L651.3,97.7 L651.9,97.7 L652.5,97.6 L653.1,97.6 L653.7,97.5 L654.4,97.5 L655.0,97.5 L655.6,97.4 L656.2,97.4 L656.8,97.3 L657.5,97.3 L658.1,97.2 L658.7,97.2 L659.3,97.1 L659.9,97.1 L660.6,97.0 L661.2,97.0 L661.8,97.0 L662.4,96.9 L663.0,96.9 L663.7,96.8 L664.3,96.8 L664.9,96.7 L665.5,96.7 L666.1,96.6 L666.8,96.6 L667.4,96.5 L668.0,96.5 L668.6,96.4 L669.2,96.4 L669.9,96.3 L670.5,96.2 L671.1,96.2 L671.7,96.1 L672.3,96.1 L673.0,96.0 L673.6,96.0 L674.2,95.9 L674.8,95.9 L675.4,95.8 L676.1,95.8 L676.7,95.7 L677.3,95.7 L677.9,95.6 L678.5,95.6 L679.2,95.5 L679.8,95.5 L680.4,95.4 L681.0,95.4 L681.6,95.3 L682.3,95.3 L682.9,95.2 L683.5,95.2 L684.1,95.1 L684.7,95.1 L685.4,95.0 L686.0,95.0 L686.6,95.0 L687.2,94.9 L687.8,94.9 L688.5,94.8 L689.1,94.8 L689.7,94.7 L690.3,94.7 L690.9,94.6 L691.6,94.6 L692.2,94.5 L692.8,94.5 L693.4,94.4 L694.0,94.4 L694.7,94.3 L695.3,94.3 L695.9,94.2 L696.5,94.2 L697.1,94.2 L697.8,94.1 L698.4,94.1 L699.0,94.0 L699.6,94.0 L700.2,93.9 L700.9,93.9 L701.5,93.8 L702.1,93.8 L702.7,93.8 L703.3,93.7 L704.0,93.7 L704.6,93.6 L705.2,93.6 L705.8,93.5 L706.4,93.5 L707.1,93.5 L707.7,93.4 L708.3,93.4 L708.9,93.3 L709.5,93.3 L710.2,93.2 L710.8,93.2 L711.4,93.2 L712.0,93.1 L712.6,93.1 L713.3,93.0 L713.9,93.0 L714.5,93.0 L715.1,92.9 L715.7,92.9 L716.4,92.8 L717.0,92.8 L717.6,92.8 L718.2,92.7 L718.8,92.7 L719.5,92.6 L720.1,92.6 L720.7,92.6 L721.3,92.5 L721.9,92.5 L722.6,92.5 L723.2,92.4 L723.8,92.4 L724.4,92.3 L725.0,92.3 L725.7,92.3 L726.3,92.2 L726.9,92.2 L727.5,92.2 L728.1,92.1 L728.8,92.1 L729.4,92.1 L730.0,92.0 L730.6,92.0 L731.2,91.9 L731.9,91.9 L732.5,91.9 L733.1,91.8 L733.7,91.8 L734.3,91.8 L735.0,91.7 L735.6,91.7 L736.2,91.7 L736.8,91.6 L737.4,91.6 L738.1,91.6 L738.7,91.5 L739.3,91.5 L739.9,91.5 L740.5,91.4 L741.2,91.4 L741.8,91.4 L742.4,91.3 L743.0,91.3 L743.6,91.3 L744.3,91.2 L744.9,91.2 L745.5,91.2 L746.1,91.1 L746.7,91.1 L747.4,91.1 L748.0,91.1 L748.6,91.0 L749.2,91.0 L749.8,91.0 L750.5,90.9 L751.1,90.9 L751.7,90.9 L752.3,90.8 L752.9,90.8 L753.6,90.8 L754.2,90.8 L754.8,90.7 L755.4,90.7 L756.0,90.7 L756.7,90.6 L757.3,90.6 L757.9,90.6 L758.5,90.5 L759.1,90.5 L759.8,90.5 L760.4,90.5 L761.0,90.4 L761.6,90.4 L762.2,90.4 L762.9,90.4 L763.5,90.3 L764.1,90.3 L764.7,90.3 L765.4,90.2" stroke="#ff0000" stroke-dasharray="10.5 6.4"/>
<path d="M418.1,152.1 L418.7,151.9 L419.3,151.7 L420.0,151.5 L420.6,151.4 L421.2,151.2 L421.8,151.0 L422.4,150.8 L423.1,150.6 L423.7,150.4 L424.3,150.2 L424.9,150.0 L425.5,149.9 L426.2,149.7 L426.8,149.5 L427.4,149.3 L428.0,149.1 L428.6,148.9 L429.3,148.7 L429.9,148.6 L430.5,148.4 L431.1,148.2 L431.7,148.0 L432.4,147.8 L433.0,147.6 L433.6,147.4 L434.2,147.3 L434.8,147.1 L435.5,146.9 L436.1,146.7 L436.7,146.5 L437.3,146.3 L437.9,146.2 L438.6,146.0 L439.2,145.8 L439.8,145.6 L440.4,145.4 L441.0,145.2 L441.7,145.1 L442.3,144.9 L442.9,144.7 L443.5,144.5 L444.1,144.3 L444.8,144.1 L445.4,144.0 L446.0,143.8 L446.6,143.6 L447.2,143.4 L447.9,143.2 L448.5,143.1 L449.1,142.9 L449.7,142.7 L450.3,142.5 L451.0,142.3 L451.6,142.1 L452.2,142.0 L452.8,141.8 L453.4,141.6 L454.1,141.4 L454.7,141.2 L455.3,141.1 L455.9,140.9 L456.5,140.7 L457.2,140.5 L457.8,140.4 L458.4,140.2 L459.0,140.0 L459.6,139.8 L460.3,139.6 L460.9,139.5 L461.5,139.3 L462.1,139.1 L462.7,138.9 L463.4,138.8 L464.0,138.6 L464.6,138.4 L465.2,138.2 L465.8,138.1 L466.5,137.9 L467.1,137.7 L467.7,137.5 L468.3,137.3 L468.9,137.2 L469.6,137.0 L470.2,136.8 L470.8,136.6 L471.4,136.5 L472.0,136.3 L472.7,136.1 L473.3,136.0 L473.9,135.8 L474.5,135.6 L475.1,135.4 L475.8,135.3 L476.4,135.1 L477.0,134.9 L477.6,134.7 L478.2,134.6 L478.9,134.4 L479.5,134.2 L480.1,134.1 L480.7,133.9 L481.3,133.7 L482.0,133.5 L482.6,133.4 L483.2,133.2 L483.8,133.0 L484.4,132.9 L485.1,132.7 L485.7,132.5 L486.3,132.4 L486.9,132.2 L487.6,132.0 L488.2,131.8 L488.8,131.7 L489.4,131.5 L490.0,131.3 L490.7,131.2 L491.3,131.0 L491.9,130.8 L492.5,130.7 L493.1,130.5 L493.8,130.3 L494.4,130.2 L495.0,130.0 L495.6,129.8 L496.2,129.7 L496.9,129.5 L497.5,129.4 L498.1,129.2 L498.7,129.0 L499.3,128.9 L500.0,128.7 L500.6,128.5 L501.2,128.4 L501.8,128.2 L502.4,128.0 L503.1,127.9 L503.7,127.7 L504.3,127.6 L504.9,127.4 L505.5,127.2 L506.2,127.1 L506.8,126.9 L507.4,126.8 L508.0,126.6 L508.6,126.4 L509.3,126.3 L509.9,126.1 L510.5,126.0 L511.1,125.8 L511.7,125.6 L512.4,125.5 L513.0,125.3 L513.6,125.2 L514.2,125.0 L514.8,124.9 L515.5,124.7 L516.1,124.5 L516.7,124.4 L517.3,124.2 L517.9,124.1 L518.6,123.9 L519.2,123.8 L519.8,123.6 L520.4,123.5 L521.0,123.3 L521.7,123.2 L522.3,123.0 L522.9,122.9 L523.5,122.7 L524.1,122.5 L524.8,122.4 L525.4,122.2 L526.0,122.1 L526.6,121.9 L527.2,121.8 L527.9,121.6 L528.5,121.5 L529.1,121.3 L529.7,121.2 L530.3,121.0 L531.0,120.9 L531.6,120.7 L532.2,120.6 L532.8,120.5 L533.4,120.3 L534.1,120.2 L534.7,120.0 L535.3,119.9 L535.9,119.7 L536.5,119.6 L537.2,119.4 L537.8,119.3 L538.4,119.1 L539.0,119.0 L539.6,118.9 L540.3,118.7 L540.9,118.6 L541.5,118.4 L542.1,118.3 L542.7,118.1 L543.4,118.0 L544.0,117.9 L544.6,117.7 L545.2,117.6 L545.8,117.4 L546.5,117.3 L547.1,117.2 L547.7,117.0 L548.3,116.9 L548.9,116.8 L549.6,116.6 L550.2,116.5 L550.8,116.3 L551.4,116.2 L552.0,116.1 L552.7,115.9 L553.3,115.8 L553.9,115.7 L554.5,115.5 L555.1,115.4 L555.8,115.3 L556.4,115.1 L557.0,115.0 L557.6,114.9 L558.2,114.7 L558.9,114.6 L559.5,114.5 L560.1,114.4 L560.7,114.2 L561.3,114.1 L562.0,114.0 L562.6,113.8 L563.2,113.7 L563.8,113.6 L564.4,113.5 L565.1,113.3 L565.7,113.2 L566.3,113.1 L566.9,113.0 L567.5,112.8 L568.2,112.7 L568.8,112.6 L569.4,112.5 L570.0,112.3 L570.6,112.2 L571.3,112.1 L571.9,112.0 L572.5,111.8 L573.1,111.7 L573.7,111.6 L574.4,111.5 L575.0,111.4 L575.6,111.3 L576.2,111.1 L576.8,111.0 L577.5,110.9 L578.1,110.8 L578.7,110.7 L579.3,110.6 L579.9,110.4 L580.6,110.3 L581.2,110.2 L581.8,110.1 L582.4,110.0 L583.0,109.9 L583.7,109.8 L584.3,109.7 L584.9,109.5 L585.5,109.4 L586.1,109.3 L586.8,109.2 L587.4,109.1 L588.0,109.0 L588.6,108.9 L589.2,108.8 L589.9,108.7 L590.5,108.6 L591.1,108.5 L591.7,108.4 L592.3,108.3 L593.0,108.2 L593.6,108.1 L594.2,108.0 L594.8,107.9 L595.4,107.8 L596.1,107.7 L596.7,107.6 L597.3,107.5 L597.9,107.4 L598.5,107.3 L599.2,107.2 L599.8,107.1 L600.4,107.0 L601.0,106.9 L601.6,106.8 L602.3,106.7 L602.9,106.6 L603.5,106.5 L604.1,106.4 L604.7,106.3 L605.4,106.3 L606.0,106.2 L606.6,106.1 L607.2,106.0 L607.8,105.9 L608.5,105.8 L609.1,105.8 L609.7,105.7 L610.3,105.6 L610.9,105.5 L611.6,105.4 L612.2,105.4 L612.8,105.3 L613.4,105.2 L614.0,105.2 L614.7,105.1 L615.3,105.0 L615.9,105.0 L616.5,104.9 L617.1,104.8 L617.8,104.8 L618.4,104.7 L619.0,104.7 L619.6,104.6 L620.2,104.6 L620.9,104.5 L621.5,104.5 L622.1,104.4 L622.7,104.4 L623.3,104.3 L624.0,104.3 L624.6,104.3 L625.2,104.3 L625.8,104.2 L626.5,104.2 L627.1,104.2 L627.7,104.2 L628.3,104.2 L628.9,104.2 L629.6,104.2 L630.2,104.2 L630.8,104.2 L631.4,104.2 L632.0,104.3 L632.7,104.3 L633.3,104.3 L633.9,104.4 L634.5,104.4 L635.1,104.5 L635.8,104.5 L636.4,104.6 L637.0,104.7 L637.6,104.8 L638.2,104.8 L638.9,104.9 L639.5,105.0 L640.1,105.1 L640.7,105.2 L641.3,105.3 L642.0,105.4 L642.6,105.6 L643.2,105.7 L643.8,105.8 L644.4,105.9 L645.1,106.1 L645.7,106.2 L646.3,106.3 L646.9,106.5 L647.5,106.6 L648.2,106.8 L648.8,106.9 L649.4,107.1 L650.0,107.2 L650.6,107.4 L651.3,107.5 L651.9,107.7 L652.5,107.9 L653.1,108.0 L653.7,108.2 L654.4,108.3 L655.0,108.5 L655.6,108.7 L656.2,108.8 L656.8,109.0 L657.5,109.2 L658.1,109.4 L658.7,109.5 L659.3,109.7 L659.9,109.9 L660.6,110.1 L661.2,110.2 L661.8,110.4 L662.4,110.6 L663.0,110.8 L663.7,111.0 L664.3,111.1 L664.9,111.3 L665.5,111.5 L666.1,111.7 L666.8,111.9 L667.4,112.1 L668.0,112.3 L668.6,112.4 L669.2,112.6 L669.9,112.8 L670.5,113.0 L671.1,113.2 L671.7,113.4 L672.3,113.6 L673.0,113.8 L673.6,113.9 L674.2,114.1 L674.8,114.3 L675.4,114.5 L676.1,114.7 L676.7,114.9 L677.3,115.1 L677.9,115.3 L678.5,115.5 L679.2,115.7 L679.8,115.9 L680.4,116.1 L681.0,116.3 L681.6,116.4 L682.3,116.6 L682.9,116.8 L683.5,117.0 L684.1,117.2 L684.7,117.4 L685.4,117.6 L686.0,117.8 L686.6,118.0 L687.2,118.2 L687.8,118.4 L688.5,118.6 L689.1,118.8 L689.7,119.0 L690.3,119.2 L690.9,119.4 L691.6,119.6 L692.2,119.8 L692.8,120.0 L693.4,120.2 L694.0,120.4 L694.7,120.6 L695.3,120.8 L695.9,121.0 L696.5,121.2 L697.1,121.4 L697.8,121.6 L698.4,121.8 L699.0,122.0 L699.6,122.2 L700.2,122.4 L700.9,122.6 L701.5,122.8 L702.1,123.0 L702.7,123.2 L703.3,123.4 L704.0,123.6 L704.6,123.8 L705.2,124.0 L705.8,124.2 L706.4,124.4 L707.1,124.6 L707.7,124.8 L708.3,125.0 L708.9,125.2 L709.5,125.4 L710.2,125.6 L710.8,125.8 L711.4,126.0 L712.0,126.2 L712.6,126.4 L713.3,126.6 L713.9,126.8 L714.5,127.0 L715.1,127.2 L715.7,127.4 L716.4,127.6 L717.0,127.8 L717.6,128.0 L718.2,128.2 L718.8,128.4 L719.5,128.6 L720.1,128.8 L720.7,129.0 L721.3,129.2 L721.9,129.4 L722.6,129.7 L723.2,129.9 L723.8,130.1 L724.4,130.3 L725.0,130.5 L725.7,130.7 L726.3,130.9 L726.9,131.1 L727.5,131.3 L728.1,131.5 L728.8,131.7 L729.4,131.9 L730.0,132.1 L730.6,132.3 L731.2,132.5 L731.9,132.7 L732.5,132.9 L733.1,133.1 L733.7,133.3 L734.3,133.5 L735.0,133.8 L735.6,134.0 L736.2,134.2 L736.8,134.4 L737.4,134.6 L738.1,134.8 L738.7,135.0 L739.3,135.2 L739.9,135.4 L740.5,135.6 L741.2,135.8 L741.8,136.0 L742.4,136.2 L743.0,136.4 L743.6,136.6 L744.3,136.8 L744.9,137.1 L745.5,137.3 L746.1,137.5 L746.7,137.7 L747.4,137.9 L748.0,138.1 L748.6,138.3 L749.2,138.5 L749.8,138.7 L750.5,138.9 L751.1,139.1 L751.7,139.3 L752.3,139.5 L752.9,139.7 L753.6,140.0 L754.2,140.2 L754.8,140.4 L755.4,140.6 L756.0,140.8 L756.7,141.0 L757.3,141.2 L757.9,141.4 L758.5,141.6 L759.1,141.8 L759.8,142.0 L760.4,142.2 L761.0,142.4 L761.6,142.7 L762.2,142.9 L762.9,143.1 L763.5,143.3 L764.1,143.5 L764.7,143.7 L765.4,143.9" stroke="#000000"/>
</g>
<path d="M467.71,2.5v10 M467.71,158.4v-10 M591.73,2.5v10 M591.73,158.4v-10 M715.74,2.5v10 M715.74,158.4v-10 M529.72,2.5v5 M529.72,158.4v-5 M653.73,2.5v5 M653.73,158.4v-5 M418.1,123.85h13.5 M765.35,123.85h-13.5 M418.1,80.65h13.5 M765.35,80.65h-13.5 M418.1,37.45h13.5 M765.35,37.45h-13.5 M418.1,145.45h6.8 M765.35,145.45h-6.8 M418.1,102.25h6.8 M765.35,102.25h-6.8 M418.1,59.05h6.8 M765.35,59.05h-6.8 M418.1,15.85h6.8 M765.35,15.85h-6.8" stroke="#000" stroke-width="1.2" fill="none"/>
<rect x="418.1" y="2.5" width="347.25" height="155.9" fill="none" stroke="#000" stroke-width="1.4"/>
<clipPath id="cpb"><rect x="56.3" y="166.0" width="347.7" height="162.10000000000002"/></clipPath>
<g clip-path="url(#cpb)" fill="none" stroke-width="2.4" stroke-linejoin="round">
<path d="M56.3,326.6 L56.9,326.6 L57.5,326.6 L58.2,326.5 L58.8,326.5 L59.4,326.5 L60.0,326.5 L60.6,326.5 L61.3,326.5 L61.9,326.5 L62.5,326.5 L63.1,326.4 L63.8,326.4 L64.4,326.4 L65.0,326.4 L65.6,326.4 L66.2,326.4 L66.9,326.4 L67.5,326.4 L68.1,326.3 L68.7,326.3 L69.3,326.3 L70.0,326.3 L70.6,326.3 L71.2,326.3 L71.8,326.2 L72.4,326.2 L73.1,326.2 L73.7,326.2 L74.3,326.2 L74.9,326.2 L75.5,326.2 L76.2,326.1 L76.8,326.1 L77.4,326.1 L78.0,326.1 L78.7,326.1 L79.3,326.0 L79.9,326.0 L80.5,325.9 L81.1,325.9 L81.8,325.9 L82.4,325.8 L83.0,325.8 L83.6,325.7 L84.2,325.7 L84.9,325.7 L85.5,325.6 L86.1,325.6 L86.7,325.5 L87.3,325.5 L88.0,325.4 L88.6,325.4 L89.2,325.4 L89.8,325.3 L90.4,325.3 L91.1,325.2 L91.7,325.2 L92.3,325.2 L92.9,325.1 L93.6,325.1 L94.2,325.0 L94.8,325.0 L95.4,325.0 L96.0,324.9 L96.7,324.9 L97.3,324.8 L97.9,324.8 L98.5,324.7 L99.1,324.7 L99.8,324.7 L100.4,324.6 L101.0,324.6 L101.6,324.5 L102.2,324.5 L102.9,324.4 L103.5,324.4 L104.1,324.4 L104.7,324.3 L105.4,324.3 L106.0,324.2 L106.6,324.2 L107.2,324.2 L107.8,324.1 L108.5,324.1 L109.1,324.0 L109.7,324.0 L110.3,323.9 L110.9,323.9 L111.6,323.9 L112.2,323.8 L112.8,323.8 L113.4,323.7 L114.0,323.7 L114.7,323.6 L115.3,323.6 L115.9,323.6 L116.5,323.5 L117.1,323.5 L117.8,323.4 L118.4,323.4 L119.0,323.3 L119.6,323.3 L120.3,323.3 L120.9,323.2 L121.5,323.2 L122.1,323.1 L122.7,323.1 L123.4,323.0 L124.0,323.0 L124.6,322.9 L125.2,322.9 L125.8,322.9 L126.5,322.8 L127.1,322.8 L127.7,322.7 L128.3,322.7 L128.9,322.6 L129.6,322.6 L130.2,322.6 L130.8,322.5 L131.4,322.5 L132.0,322.4 L132.7,322.4 L133.3,322.3 L133.9,322.3 L134.5,322.3 L135.2,322.2 L135.8,322.2 L136.4,322.1 L137.0,322.1 L137.6,322.0 L138.3,322.0 L138.9,321.9 L139.5,321.9 L140.1,321.8 L140.7,321.8 L141.4,321.8 L142.0,321.7 L142.6,321.7 L143.2,321.6 L143.8,321.6 L144.5,321.5 L145.1,321.5 L145.7,321.4 L146.3,321.4 L147.0,321.3 L147.6,321.3 L148.2,321.3 L148.8,321.2 L149.4,321.2 L150.1,321.1 L150.7,321.1 L151.3,321.0 L151.9,321.0 L152.5,320.9 L153.2,320.9 L153.8,320.8 L154.4,320.8 L155.0,320.7 L155.6,320.7 L156.3,320.6 L156.9,320.6 L157.5,320.5 L158.1,320.5 L158.7,320.4 L159.4,320.3 L160.0,320.3 L160.6,320.2 L161.2,320.2 L161.9,320.1 L162.5,320.1 L163.1,320.0 L163.7,320.0 L164.3,319.9 L165.0,319.8 L165.6,319.8 L166.2,319.7 L166.8,319.7 L167.4,319.6 L168.1,319.5 L168.7,319.5 L169.3,319.4 L169.9,319.3 L170.5,319.3 L171.2,319.2 L171.8,319.1 L172.4,319.1 L173.0,319.0 L173.6,318.9 L174.3,318.8 L174.9,318.8 L175.5,318.7 L176.1,318.6 L176.8,318.5 L177.4,318.5 L178.0,318.4 L178.6,318.3 L179.2,318.2 L179.9,318.1 L180.5,318.0 L181.1,317.9 L181.7,317.9 L182.3,317.8 L183.0,317.7 L183.6,317.6 L184.2,317.5 L184.8,317.4 L185.4,317.3 L186.1,317.2 L186.7,317.0 L187.3,316.9 L187.9,316.8 L188.6,316.7 L189.2,316.6 L189.8,316.5 L190.4,316.3 L191.0,316.2 L191.7,316.1 L192.3,316.0 L192.9,315.8 L193.5,315.7 L194.1,315.5 L194.8,315.4 L195.4,315.3 L196.0,315.1 L196.6,315.0 L197.2,314.8 L197.9,314.6 L198.5,314.5 L199.1,314.3 L199.7,314.1 L200.3,314.0 L201.0,313.8 L201.6,313.6 L202.2,313.4 L202.8,313.2 L203.5,313.0 L204.1,312.8 L204.7,312.6 L205.3,312.4 L205.9,312.2 L206.6,312.0 L207.2,311.7 L207.8,311.5 L208.4,311.3 L209.0,311.0 L209.7,310.8 L210.3,310.5 L210.9,310.2 L211.5,310.0 L212.1,309.7 L212.8,309.4 L213.4,309.1 L214.0,308.8 L214.6,308.5 L215.2,308.2 L215.9,307.9 L216.5,307.6 L217.1,307.2 L217.7,306.9 L218.4,306.5 L219.0,306.1 L219.6,305.8 L220.2,305.4 L220.8,305.0 L221.5,304.6 L222.1,304.1 L222.7,303.7 L223.3,303.3 L223.9,302.8 L224.6,302.3 L225.2,301.8 L225.8,301.3 L226.4,300.8 L227.0,300.3 L227.7,299.7 L228.3,299.1 L228.9,298.6 L229.5,298.0 L230.1,297.3 L230.8,296.7 L231.4,296.0 L232.0,295.3 L232.6,294.6 L233.3,293.9 L233.9,293.2 L234.5,292.4 L235.1,291.6 L235.7,290.8 L236.4,290.0 L237.0,289.1 L237.6,288.2 L238.2,287.3 L238.8,286.3 L239.5,285.4 L240.1,284.4 L240.7,283.3 L241.3,282.3 L241.9,281.2 L242.6,280.1 L243.2,278.9 L243.8,277.8 L244.4,276.5 L245.1,275.3 L245.7,274.0 L246.3,272.7 L246.9,271.4 L247.5,270.0 L248.2,268.6 L248.8,267.1 L249.4,265.6 L250.0,264.1 L250.6,262.5 L251.3,261.0 L251.9,259.3 L252.5,257.7 L253.1,256.0 L253.7,254.3 L254.4,252.6 L255.0,250.8 L255.6,249.0 L256.2,247.2 L256.8,245.3 L257.5,243.5 L258.1,241.6 L258.7,239.7 L259.3,237.8 L260.0,235.9 L260.6,234.0 L261.2,232.1 L261.8,230.1 L262.4,228.2 L263.1,226.3 L263.7,224.4 L264.3,222.5 L264.9,220.7 L265.5,218.8 L266.2,217.0 L266.8,215.3 L267.4,213.5 L268.0,211.9 L268.6,210.2 L269.3,208.6 L269.9,207.1 L270.5,205.7 L271.1,204.3 L271.7,202.9 L272.4,201.7 L273.0,200.5 L273.6,199.4 L274.2,198.4 L274.9,197.4 L275.5,196.6 L276.1,195.9 L276.7,195.2 L277.3,194.7 L278.0,194.2 L278.6,193.9 L279.2,193.6 L279.8,193.5 L280.4,193.4 L281.1,193.5 L281.7,193.6 L282.3,193.9 L282.9,194.3 L283.5,194.7 L284.2,195.3 L284.8,196.0 L285.4,196.7 L286.0,197.6 L286.7,198.6 L287.3,199.6 L287.9,200.7 L288.5,201.9 L289.1,203.2 L289.8,204.5 L290.4,206.0 L291.0,207.5 L291.6,209.0 L292.2,210.6 L292.9,212.3 L293.5,214.0 L294.1,215.7 L294.7,217.5 L295.3,219.4 L296.0,221.2 L296.6,223.1 L297.2,225.0 L297.8,226.9 L298.4,228.9 L299.1,230.8 L299.7,232.8 L300.3,234.8 L300.9,236.8 L301.6,238.7 L302.2,240.7 L302.8,242.6 L303.4,244.6 L304.0,246.5 L304.7,248.4 L305.3,250.3 L305.9,252.2 L306.5,254.0 L307.1,255.9 L307.8,257.7 L308.4,259.5 L309.0,261.2 L309.6,262.9 L310.2,264.6 L310.9,266.3 L311.5,267.9 L312.1,269.5 L312.7,271.1 L313.3,272.6 L314.0,274.1 L314.6,275.6 L315.2,277.0 L315.8,278.4 L316.5,279.8 L317.1,281.1 L317.7,282.5 L318.3,283.7 L318.9,285.0 L319.6,286.2 L320.2,287.4 L320.8,288.5 L321.4,289.6 L322.0,290.7 L322.7,291.8 L323.3,292.8 L323.9,293.8 L324.5,294.8 L325.1,295.7 L325.8,296.6 L326.4,297.5 L327.0,298.4 L327.6,299.2 L328.3,300.1 L328.9,300.9 L329.5,301.6 L330.1,302.4 L330.7,303.1 L331.4,303.8 L332.0,304.5 L332.6,305.2 L333.2,305.8 L333.8,306.5 L334.5,307.1 L335.1,307.7 L335.7,308.3 L336.3,308.8 L336.9,309.4 L337.6,309.9 L338.2,310.4 L338.8,310.9 L339.4,311.4 L340.0,311.9 L340.7,312.3 L341.3,312.8 L341.9,313.2 L342.5,313.6 L343.2,314.0 L343.8,314.4 L344.4,314.8 L345.0,315.2 L345.6,315.5 L346.3,315.9 L346.9,316.2 L347.5,316.6 L348.1,316.9 L348.7,317.2 L349.4,317.5 L350.0,317.8 L350.6,318.1 L351.2,318.4 L351.8,318.6 L352.5,318.9 L353.1,319.2 L353.7,319.4 L354.3,319.6 L354.9,319.9 L355.6,320.1 L356.2,320.3 L356.8,320.5 L357.4,320.8 L358.1,321.0 L358.7,321.2 L359.3,321.4 L359.9,321.5 L360.5,321.7 L361.2,321.9 L361.8,322.1 L362.4,322.2 L363.0,322.4 L363.6,322.5 L364.3,322.7 L364.9,322.8 L365.5,323.0 L366.1,323.1 L366.7,323.2 L367.4,323.4 L368.0,323.5 L368.6,323.6 L369.2,323.7 L369.9,323.8 L370.5,323.9 L371.1,324.0 L371.7,324.1 L372.3,324.2 L373.0,324.3 L373.6,324.4 L374.2,324.5 L374.8,324.6 L375.4,324.7 L376.1,324.7 L376.7,324.8 L377.3,324.9 L377.9,324.9 L378.5,325.0 L379.2,325.1 L379.8,325.1 L380.4,325.2 L381.0,325.2 L381.6,325.3 L382.3,325.3 L382.9,325.4 L383.5,325.4 L384.1,325.5 L384.8,325.5 L385.4,325.6 L386.0,325.6 L386.6,325.6 L387.2,325.7 L387.9,325.7 L388.5,325.7 L389.1,325.7 L389.7,325.8 L390.3,325.8 L391.0,325.8 L391.6,325.8 L392.2,325.9 L392.8,325.9 L393.4,325.9 L394.1,325.9 L394.7,325.9 L395.3,326.0 L395.9,326.0 L396.5,326.0 L397.2,326.0 L397.8,326.0 L398.4,326.0 L399.0,326.0 L399.7,326.0 L400.3,326.0 L400.9,326.0 L401.5,326.0 L402.1,326.1 L402.8,326.1 L403.4,326.1 L404.0,326.2" stroke="#000000"/>
<path d="M56.3,325.1 L56.9,325.1 L57.5,325.0 L58.2,325.0 L58.8,324.9 L59.4,324.9 L60.0,324.8 L60.6,324.8 L61.3,324.7 L61.9,324.7 L62.5,324.6 L63.1,324.6 L63.8,324.5 L64.4,324.4 L65.0,324.4 L65.6,324.3 L66.2,324.3 L66.9,324.2 L67.5,324.2 L68.1,324.1 L68.7,324.1 L69.3,324.0 L70.0,323.9 L70.6,323.9 L71.2,323.8 L71.8,323.8 L72.4,323.7 L73.1,323.7 L73.7,323.6 L74.3,323.5 L74.9,323.5 L75.5,323.4 L76.2,323.4 L76.8,323.3 L77.4,323.2 L78.0,323.2 L78.7,323.1 L79.3,323.0 L79.9,323.0 L80.5,322.9 L81.1,322.8 L81.8,322.8 L82.4,322.7 L83.0,322.6 L83.6,322.5 L84.2,322.5 L84.9,322.4 L85.5,322.3 L86.1,322.2 L86.7,322.2 L87.3,322.1 L88.0,322.0 L88.6,321.9 L89.2,321.8 L89.8,321.7 L90.4,321.6 L91.1,321.5 L91.7,321.4 L92.3,321.3 L92.9,321.2 L93.6,321.1 L94.2,321.0 L94.8,320.9 L95.4,320.8 L96.0,320.7 L96.7,320.5 L97.3,320.4 L97.9,320.3 L98.5,320.1 L99.1,320.0 L99.8,319.8 L100.4,319.7 L101.0,319.5 L101.6,319.4 L102.2,319.2 L102.9,319.0 L103.5,318.9 L104.1,318.7 L104.7,318.5 L105.4,318.3 L106.0,318.1 L106.6,317.9 L107.2,317.6 L107.8,317.4 L108.5,317.2 L109.1,316.9 L109.7,316.7 L110.3,316.4 L110.9,316.1 L111.6,315.8 L112.2,315.5 L112.8,315.2 L113.4,314.9 L114.0,314.6 L114.7,314.3 L115.3,313.9 L115.9,313.5 L116.5,313.2 L117.1,312.8 L117.8,312.4 L118.4,312.0 L119.0,311.5 L119.6,311.1 L120.3,310.6 L120.9,310.1 L121.5,309.6 L122.1,309.1 L122.7,308.6 L123.4,308.1 L124.0,307.5 L124.6,306.9 L125.2,306.3 L125.8,305.7 L126.5,305.1 L127.1,304.4 L127.7,303.8 L128.3,303.1 L128.9,302.4 L129.6,301.6 L130.2,300.9 L130.8,300.1 L131.4,299.3 L132.0,298.4 L132.7,297.6 L133.3,296.7 L133.9,295.8 L134.5,294.9 L135.2,293.9 L135.8,292.9 L136.4,291.9 L137.0,290.9 L137.6,289.8 L138.3,288.7 L138.9,287.6 L139.5,286.5 L140.1,285.3 L140.7,284.1 L141.4,282.8 L142.0,281.6 L142.6,280.3 L143.2,279.0 L143.8,277.6 L144.5,276.2 L145.1,274.8 L145.7,273.4 L146.3,271.9 L147.0,270.5 L147.6,268.9 L148.2,267.4 L148.8,265.8 L149.4,264.3 L150.1,262.6 L150.7,261.0 L151.3,259.4 L151.9,257.7 L152.5,256.0 L153.2,254.3 L153.8,252.5 L154.4,250.8 L155.0,249.0 L155.6,247.3 L156.3,245.5 L156.9,243.7 L157.5,241.9 L158.1,240.1 L158.7,238.3 L159.4,236.5 L160.0,234.8 L160.6,233.0 L161.2,231.2 L161.9,229.5 L162.5,227.8 L163.1,226.1 L163.7,224.4 L164.3,222.8 L165.0,221.2 L165.6,219.7 L166.2,218.2 L166.8,216.7 L167.4,215.3 L168.1,213.9 L168.7,212.6 L169.3,211.4 L169.9,210.2 L170.5,209.1 L171.2,208.1 L171.8,207.1 L172.4,206.3 L173.0,205.5 L173.6,204.8 L174.3,204.1 L174.9,203.6 L175.5,203.2 L176.1,202.9 L176.8,202.6 L177.4,202.5 L178.0,202.4 L178.6,202.5 L179.2,202.6 L179.9,202.9 L180.5,203.2 L181.1,203.7 L181.7,204.2 L182.3,204.8 L183.0,205.5 L183.6,206.4 L184.2,207.3 L184.8,208.2 L185.4,209.3 L186.1,210.5 L186.7,211.7 L187.3,213.0 L187.9,214.3 L188.6,215.8 L189.2,217.3 L189.8,218.8 L190.4,220.4 L191.0,222.0 L191.7,223.7 L192.3,225.5 L192.9,227.2 L193.5,229.0 L194.1,230.9 L194.8,232.7 L195.4,234.6 L196.0,236.5 L196.6,238.3 L197.2,240.2 L197.9,242.1 L198.5,244.0 L199.1,245.9 L199.7,247.8 L200.3,249.7 L201.0,251.5 L201.6,253.4 L202.2,255.2 L202.8,257.0 L203.5,258.7 L204.1,260.5 L204.7,262.2 L205.3,263.9 L205.9,265.5 L206.6,267.1 L207.2,268.7 L207.8,270.3 L208.4,271.8 L209.0,273.3 L209.7,274.7 L210.3,276.1 L210.9,277.5 L211.5,278.8 L212.1,280.1 L212.8,281.3 L213.4,282.5 L214.0,283.7 L214.6,284.8 L215.2,285.9 L215.9,287.0 L216.5,288.0 L217.1,288.9 L217.7,289.9 L218.4,290.7 L219.0,291.6 L219.6,292.4 L220.2,293.1 L220.8,293.8 L221.5,294.5 L222.1,295.1 L222.7,295.6 L223.3,296.2 L223.9,296.6 L224.6,297.1 L225.2,297.4 L225.8,297.8 L226.4,298.1 L227.0,298.3 L227.7,298.5 L228.3,298.7 L228.9,298.8 L229.5,298.8 L230.1,298.8 L230.8,298.7 L231.4,298.6 L232.0,298.5 L232.6,298.3 L233.3,298.0 L233.9,297.7 L234.5,297.3 L235.1,296.9 L235.7,296.5 L236.4,296.0 L237.0,295.5 L237.6,294.9 L238.2,294.2 L238.8,293.6 L239.5,292.8 L240.1,292.1 L240.7,291.3 L241.3,290.4 L241.9,289.5 L242.6,288.5 L243.2,287.6 L243.8,286.5 L244.4,285.4 L245.1,284.3 L245.7,283.2 L246.3,282.0 L246.9,280.7 L247.5,279.4 L248.2,278.1 L248.8,276.7 L249.4,275.3 L250.0,273.9 L250.6,272.4 L251.3,270.9 L251.9,269.3 L252.5,267.8 L253.1,266.1 L253.7,264.5 L254.4,262.8 L255.0,261.1 L255.6,259.3 L256.2,257.6 L256.8,255.7 L257.5,253.9 L258.1,252.1 L258.7,250.2 L259.3,248.3 L260.0,246.4 L260.6,244.5 L261.2,242.6 L261.8,240.7 L262.4,238.8 L263.1,236.9 L263.7,235.0 L264.3,233.1 L264.9,231.2 L265.5,229.3 L266.2,227.5 L266.8,225.7 L267.4,224.0 L268.0,222.2 L268.6,220.6 L269.3,219.0 L269.9,217.4 L270.5,215.9 L271.1,214.4 L271.7,213.1 L272.4,211.7 L273.0,210.5 L273.6,209.3 L274.2,208.3 L274.9,207.3 L275.5,206.3 L276.1,205.5 L276.7,204.8 L277.3,204.1 L278.0,203.6 L278.6,203.2 L279.2,202.8 L279.8,202.5 L280.4,202.4 L281.1,202.3 L281.7,202.4 L282.3,202.5 L282.9,202.7 L283.5,203.1 L284.2,203.5 L284.8,204.0 L285.4,204.6 L286.0,205.3 L286.7,206.1 L287.3,207.0 L287.9,207.9 L288.5,208.9 L289.1,210.0 L289.8,211.2 L290.4,212.4 L291.0,213.7 L291.6,215.1 L292.2,216.5 L292.9,218.0 L293.5,219.5 L294.1,221.0 L294.7,222.6 L295.3,224.2 L296.0,225.9 L296.6,227.5 L297.2,229.3 L297.8,231.0 L298.4,232.7 L299.1,234.5 L299.7,236.3 L300.3,238.0 L300.9,239.8 L301.6,241.6 L302.2,243.4 L302.8,245.2 L303.4,246.9 L304.0,248.7 L304.7,250.5 L305.3,252.2 L305.9,253.9 L306.5,255.6 L307.1,257.3 L307.8,259.0 L308.4,260.7 L309.0,262.3 L309.6,263.9 L310.2,265.5 L310.9,267.1 L311.5,268.6 L312.1,270.1 L312.7,271.6 L313.3,273.1 L314.0,274.5 L314.6,275.9 L315.2,277.3 L315.8,278.7 L316.5,280.0 L317.1,281.3 L317.7,282.5 L318.3,283.8 L318.9,285.0 L319.6,286.2 L320.2,287.3 L320.8,288.5 L321.4,289.6 L322.0,290.6 L322.7,291.7 L323.3,292.7 L323.9,293.7 L324.5,294.6 L325.1,295.6 L325.8,296.5 L326.4,297.4 L327.0,298.2 L327.6,299.1 L328.3,299.9 L328.9,300.7 L329.5,301.4 L330.1,302.2 L330.7,302.9 L331.4,303.6 L332.0,304.3 L332.6,304.9 L333.2,305.6 L333.8,306.2 L334.5,306.8 L335.1,307.4 L335.7,307.9 L336.3,308.5 L336.9,309.0 L337.6,309.5 L338.2,310.0 L338.8,310.5 L339.4,311.0 L340.0,311.4 L340.7,311.8 L341.3,312.3 L341.9,312.7 L342.5,313.1 L343.2,313.4 L343.8,313.8 L344.4,314.2 L345.0,314.5 L345.6,314.8 L346.3,315.2 L346.9,315.5 L347.5,315.8 L348.1,316.1 L348.7,316.3 L349.4,316.6 L350.0,316.9 L350.6,317.1 L351.2,317.4 L351.8,317.6 L352.5,317.8 L353.1,318.0 L353.7,318.3 L354.3,318.5 L354.9,318.6 L355.6,318.8 L356.2,319.0 L356.8,319.2 L357.4,319.4 L358.1,319.5 L358.7,319.7 L359.3,319.8 L359.9,320.0 L360.5,320.1 L361.2,320.3 L361.8,320.4 L362.4,320.5 L363.0,320.6 L363.6,320.8 L364.3,320.9 L364.9,321.0 L365.5,321.1 L366.1,321.2 L366.7,321.3 L367.4,321.4 L368.0,321.5 L368.6,321.6 L369.2,321.7 L369.9,321.8 L370.5,321.9 L371.1,322.0 L371.7,322.1 L372.3,322.1 L373.0,322.2 L373.6,322.3 L374.2,322.4 L374.8,322.5 L375.4,322.5 L376.1,322.6 L376.7,322.7 L377.3,322.8 L377.9,322.8 L378.5,322.9 L379.2,323.0 L379.8,323.0 L380.4,323.1 L381.0,323.2 L381.6,323.2 L382.3,323.3 L382.9,323.3 L383.5,323.4 L384.1,323.5 L384.8,323.5 L385.4,323.6 L386.0,323.6 L386.6,323.7 L387.2,323.8 L387.9,323.8 L388.5,323.9 L389.1,323.9 L389.7,324.0 L390.3,324.0 L391.0,324.1 L391.6,324.2 L392.2,324.2 L392.8,324.3 L393.4,324.3 L394.1,324.4 L394.7,324.4 L395.3,324.5 L395.9,324.5 L396.5,324.6 L397.2,324.6 L397.8,324.7 L398.4,324.7 L399.0,324.8 L399.7,324.9 L400.3,324.9 L400.9,325.0 L401.5,325.0 L402.1,325.0 L402.8,325.1 L403.4,325.1 L404.0,325.2" stroke="#ff0000" stroke-dasharray="13 5.5"/>
<path d="M56.3,326.1 L56.9,326.1 L57.5,326.0 L58.2,326.0 L58.8,326.0 L59.4,326.0 L60.0,326.0 L60.6,326.0 L61.3,326.0 L61.9,326.0 L62.5,326.0 L63.1,326.0 L63.8,326.0 L64.4,325.9 L65.0,325.9 L65.6,325.9 L66.2,325.9 L66.9,325.9 L67.5,325.8 L68.1,325.8 L68.7,325.8 L69.3,325.8 L70.0,325.8 L70.6,325.7 L71.2,325.7 L71.8,325.7 L72.4,325.6 L73.1,325.6 L73.7,325.6 L74.3,325.5 L74.9,325.5 L75.5,325.4 L76.2,325.4 L76.8,325.3 L77.4,325.3 L78.0,325.2 L78.7,325.2 L79.3,325.1 L79.9,325.1 L80.5,325.0 L81.1,325.0 L81.8,324.9 L82.4,324.8 L83.0,324.7 L83.6,324.7 L84.2,324.6 L84.9,324.5 L85.5,324.4 L86.1,324.3 L86.7,324.2 L87.3,324.2 L88.0,324.1 L88.6,324.0 L89.2,323.9 L89.8,323.7 L90.4,323.6 L91.1,323.5 L91.7,323.4 L92.3,323.3 L92.9,323.1 L93.6,323.0 L94.2,322.9 L94.8,322.7 L95.4,322.6 L96.0,322.4 L96.7,322.3 L97.3,322.1 L97.9,321.9 L98.5,321.8 L99.1,321.6 L99.8,321.4 L100.4,321.2 L101.0,321.0 L101.6,320.8 L102.2,320.6 L102.9,320.4 L103.5,320.2 L104.1,319.9 L104.7,319.7 L105.4,319.5 L106.0,319.2 L106.6,319.0 L107.2,318.7 L107.8,318.4 L108.5,318.1 L109.1,317.9 L109.7,317.6 L110.3,317.3 L110.9,317.0 L111.6,316.6 L112.2,316.3 L112.8,316.0 L113.4,315.6 L114.0,315.2 L114.7,314.9 L115.3,314.5 L115.9,314.1 L116.5,313.7 L117.1,313.3 L117.8,312.8 L118.4,312.4 L119.0,311.9 L119.6,311.5 L120.3,311.0 L120.9,310.5 L121.5,310.0 L122.1,309.5 L122.7,308.9 L123.4,308.4 L124.0,307.8 L124.6,307.2 L125.2,306.6 L125.8,305.9 L126.5,305.3 L127.1,304.6 L127.7,303.9 L128.3,303.2 L128.9,302.5 L129.6,301.8 L130.2,301.0 L130.8,300.2 L131.4,299.4 L132.0,298.5 L132.7,297.7 L133.3,296.8 L133.9,295.9 L134.5,294.9 L135.2,294.0 L135.8,293.0 L136.4,291.9 L137.0,290.9 L137.6,289.8 L138.3,288.7 L138.9,287.6 L139.5,286.4 L140.1,285.2 L140.7,284.0 L141.4,282.7 L142.0,281.4 L142.6,280.1 L143.2,278.7 L143.8,277.3 L144.5,275.9 L145.1,274.4 L145.7,272.9 L146.3,271.4 L147.0,269.9 L147.6,268.3 L148.2,266.7 L148.8,265.0 L149.4,263.3 L150.1,261.6 L150.7,259.9 L151.3,258.1 L151.9,256.3 L152.5,254.5 L153.2,252.6 L153.8,250.7 L154.4,248.8 L155.0,246.9 L155.6,245.0 L156.3,243.1 L156.9,241.1 L157.5,239.2 L158.1,237.2 L158.7,235.2 L159.4,233.2 L160.0,231.3 L160.6,229.3 L161.2,227.3 L161.9,225.4 L162.5,223.5 L163.1,221.6 L163.7,219.7 L164.3,217.9 L165.0,216.0 L165.6,214.3 L166.2,212.6 L166.8,210.9 L167.4,209.2 L168.1,207.7 L168.7,206.2 L169.3,204.7 L169.9,203.4 L170.5,202.1 L171.2,200.8 L171.8,199.7 L172.4,198.6 L173.0,197.7 L173.6,196.8 L174.3,196.0 L174.9,195.3 L175.5,194.8 L176.1,194.3 L176.8,193.9 L177.4,193.6 L178.0,193.4 L178.6,193.3 L179.2,193.4 L179.9,193.5 L180.5,193.7 L181.1,194.1 L181.7,194.5 L182.3,195.1 L183.0,195.7 L183.6,196.4 L184.2,197.3 L184.8,198.2 L185.4,199.2 L186.1,200.3 L186.7,201.4 L187.3,202.7 L187.9,204.0 L188.6,205.4 L189.2,206.9 L189.8,208.4 L190.4,210.0 L191.0,211.6 L191.7,213.3 L192.3,215.0 L192.9,216.7 L193.5,218.5 L194.1,220.3 L194.8,222.2 L195.4,224.1 L196.0,226.0 L196.6,227.9 L197.2,229.8 L197.9,231.7 L198.5,233.6 L199.1,235.5 L199.7,237.4 L200.3,239.3 L201.0,241.2 L201.6,243.1 L202.2,245.0 L202.8,246.8 L203.5,248.6 L204.1,250.4 L204.7,252.2 L205.3,253.9 L205.9,255.7 L206.6,257.4 L207.2,259.0 L207.8,260.6 L208.4,262.2 L209.0,263.8 L209.7,265.3 L210.3,266.8 L210.9,268.3 L211.5,269.7 L212.1,271.1 L212.8,272.4 L213.4,273.8 L214.0,275.0 L214.6,276.3 L215.2,277.5 L215.9,278.7 L216.5,279.9 L217.1,281.0 L217.7,282.1 L218.4,283.1 L219.0,284.2 L219.6,285.2 L220.2,286.1 L220.8,287.1 L221.5,288.0 L222.1,288.9 L222.7,289.8 L223.3,290.6 L223.9,291.4 L224.6,292.2 L225.2,293.0 L225.8,293.7 L226.4,294.5 L227.0,295.2 L227.7,295.9 L228.3,296.5 L228.9,297.2 L229.5,297.8 L230.1,298.4 L230.8,299.0 L231.4,299.6 L232.0,300.1 L232.6,300.7 L233.3,301.2 L233.9,301.7 L234.5,302.2 L235.1,302.7 L235.7,303.2 L236.4,303.6 L237.0,304.0 L237.6,304.5 L238.2,304.9 L238.8,305.3 L239.5,305.7 L240.1,306.1 L240.7,306.4 L241.3,306.8 L241.9,307.2 L242.6,307.5 L243.2,307.8 L243.8,308.2 L244.4,308.5 L245.1,308.8 L245.7,309.1 L246.3,309.4 L246.9,309.7 L247.5,309.9 L248.2,310.2 L248.8,310.5 L249.4,310.7 L250.0,311.0 L250.6,311.2 L251.3,311.5 L251.9,311.7 L252.5,311.9 L253.1,312.2 L253.7,312.4 L254.4,312.6 L255.0,312.8 L255.6,313.0 L256.2,313.2 L256.8,313.4 L257.5,313.6 L258.1,313.8 L258.7,313.9 L259.3,314.1 L260.0,314.3 L260.6,314.4 L261.2,314.6 L261.8,314.8 L262.4,314.9 L263.1,315.1 L263.7,315.2 L264.3,315.4 L264.9,315.5 L265.5,315.7 L266.2,315.8 L266.8,315.9 L267.4,316.1 L268.0,316.2 L268.6,316.3 L269.3,316.4 L269.9,316.6 L270.5,316.7 L271.1,316.8 L271.7,316.9 L272.4,317.0 L273.0,317.1 L273.6,317.2 L274.2,317.3 L274.9,317.4 L275.5,317.5 L276.1,317.6 L276.7,317.7 L277.3,317.8 L278.0,317.9 L278.6,318.0 L279.2,318.1 L279.8,318.2 L280.4,318.3 L281.1,318.4 L281.7,318.4 L282.3,318.5 L282.9,318.6 L283.5,318.7 L284.2,318.8 L284.8,318.8 L285.4,318.9 L286.0,319.0 L286.7,319.0 L287.3,319.1 L287.9,319.2 L288.5,319.3 L289.1,319.3 L289.8,319.4 L290.4,319.5 L291.0,319.5 L291.6,319.6 L292.2,319.6 L292.9,319.7 L293.5,319.8 L294.1,319.8 L294.7,319.9 L295.3,319.9 L296.0,320.0 L296.6,320.1 L297.2,320.1 L297.8,320.2 L298.4,320.2 L299.1,320.3 L299.7,320.3 L300.3,320.4 L300.9,320.4 L301.6,320.5 L302.2,320.5 L302.8,320.6 L303.4,320.6 L304.0,320.7 L304.7,320.8 L305.3,320.8 L305.9,320.9 L306.5,320.9 L307.1,320.9 L307.8,321.0 L308.4,321.0 L309.0,321.1 L309.6,321.1 L310.2,321.2 L310.9,321.2 L311.5,321.3 L312.1,321.3 L312.7,321.4 L313.3,321.4 L314.0,321.5 L314.6,321.5 L315.2,321.6 L315.8,321.6 L316.5,321.7 L317.1,321.7 L317.7,321.8 L318.3,321.8 L318.9,321.8 L319.6,321.9 L320.2,321.9 L320.8,322.0 L321.4,322.0 L322.0,322.1 L322.7,322.1 L323.3,322.2 L323.9,322.2 L324.5,322.2 L325.1,322.3 L325.8,322.3 L326.4,322.4 L327.0,322.4 L327.6,322.5 L328.3,322.5 L328.9,322.6 L329.5,322.6 L330.1,322.6 L330.7,322.7 L331.4,322.7 L332.0,322.8 L332.6,322.8 L333.2,322.9 L333.8,322.9 L334.5,322.9 L335.1,323.0 L335.7,323.0 L336.3,323.1 L336.9,323.1 L337.6,323.2 L338.2,323.2 L338.8,323.2 L339.4,323.3 L340.0,323.3 L340.7,323.4 L341.3,323.4 L341.9,323.5 L342.5,323.5 L343.2,323.5 L343.8,323.6 L344.4,323.6 L345.0,323.7 L345.6,323.7 L346.3,323.8 L346.9,323.8 L347.5,323.8 L348.1,323.9 L348.7,323.9 L349.4,324.0 L350.0,324.0 L350.6,324.1 L351.2,324.1 L351.8,324.1 L352.5,324.2 L353.1,324.2 L353.7,324.3 L354.3,324.3 L354.9,324.4 L355.6,324.4 L356.2,324.4 L356.8,324.5 L357.4,324.5 L358.1,324.6 L358.7,324.6 L359.3,324.7 L359.9,324.7 L360.5,324.7 L361.2,324.8 L361.8,324.8 L362.4,324.9 L363.0,324.9 L363.6,324.9 L364.3,325.0 L364.9,325.0 L365.5,325.1 L366.1,325.1 L366.7,325.2 L367.4,325.2 L368.0,325.2 L368.6,325.3 L369.2,325.3 L369.9,325.4 L370.5,325.4 L371.1,325.4 L371.7,325.5 L372.3,325.5 L373.0,325.6 L373.6,325.6 L374.2,325.6 L374.8,325.7 L375.4,325.7 L376.1,325.8 L376.7,325.8 L377.3,325.8 L377.9,325.9 L378.5,325.9 L379.2,326.0 L379.8,326.0 L380.4,326.0 L381.0,326.1 L381.6,326.1 L382.3,326.1 L382.9,326.1 L383.5,326.2 L384.1,326.2 L384.8,326.2 L385.4,326.2 L386.0,326.2 L386.6,326.2 L387.2,326.2 L387.9,326.3 L388.5,326.3 L389.1,326.3 L389.7,326.3 L390.3,326.3 L391.0,326.3 L391.6,326.3 L392.2,326.4 L392.8,326.4 L393.4,326.4 L394.1,326.4 L394.7,326.4 L395.3,326.4 L395.9,326.4 L396.5,326.5 L397.2,326.5 L397.8,326.5 L398.4,326.5 L399.0,326.5 L399.7,326.5 L400.3,326.5 L400.9,326.5 L401.5,326.6 L402.1,326.6 L402.8,326.6 L403.4,326.6 L404.0,326.6" stroke="#0000ff" stroke-dasharray="15.5 6 2.5 6"/>
</g>
<path d="M105.97,166.0v10 M105.97,328.1v-10 M230.15,166.0v10 M230.15,328.1v-10 M354.33,166.0v10 M354.33,328.1v-10 M168.06,166.0v5 M168.06,328.1v-5 M292.24,166.0v5 M292.24,328.1v-5 M56.3,198.15h13.5 M404.0,198.15h-13.5 M56.3,263.10h6.8 M404.0,263.10h-6.8" stroke="#000" stroke-width="1.2" fill="none"/>
<rect x="56.3" y="166.0" width="347.7" height="162.10000000000002" fill="none" stroke="#000" stroke-width="1.4"/>
<clipPath id="cpc"><rect x="56.3" y="336.0" width="347.7" height="162.10000000000002"/></clipPath>
<g clip-path="url(#cpc)" fill="none" stroke-width="2.4" stroke-linejoin="round">
<path d="M56.3,496.8 L56.9,496.8 L57.5,496.8 L58.2,496.8 L58.8,496.8 L59.4,496.8 L60.0,496.7 L60.6,496.7 L61.3,496.7 L61.9,496.7 L62.5,496.7 L63.1,496.7 L63.8,496.7 L64.4,496.6 L65.0,496.6 L65.6,496.6 L66.2,496.6 L66.9,496.6 L67.5,496.5 L68.1,496.5 L68.7,496.5 L69.3,496.5 L70.0,496.5 L70.6,496.4 L71.2,496.4 L71.8,496.4 L72.4,496.4 L73.1,496.3 L73.7,496.3 L74.3,496.3 L74.9,496.3 L75.5,496.3 L76.2,496.2 L76.8,496.2 L77.4,496.2 L78.0,496.1 L78.7,496.1 L79.3,496.1 L79.9,496.1 L80.5,496.0 L81.1,496.0 L81.8,496.0 L82.4,495.9 L83.0,495.9 L83.6,495.9 L84.2,495.9 L84.9,495.8 L85.5,495.8 L86.1,495.8 L86.7,495.7 L87.3,495.7 L88.0,495.7 L88.6,495.6 L89.2,495.6 L89.8,495.5 L90.4,495.5 L91.1,495.5 L91.7,495.4 L92.3,495.4 L92.9,495.4 L93.6,495.3 L94.2,495.3 L94.8,495.2 L95.4,495.2 L96.0,495.1 L96.7,495.1 L97.3,495.1 L97.9,495.0 L98.5,495.0 L99.1,494.9 L99.8,494.9 L100.4,494.8 L101.0,494.8 L101.6,494.7 L102.2,494.7 L102.9,494.6 L103.5,494.6 L104.1,494.5 L104.7,494.5 L105.4,494.4 L106.0,494.4 L106.6,494.3 L107.2,494.3 L107.8,494.2 L108.5,494.2 L109.1,494.1 L109.7,494.1 L110.3,494.0 L110.9,494.0 L111.6,493.9 L112.2,493.8 L112.8,493.8 L113.4,493.7 L114.0,493.7 L114.7,493.6 L115.3,493.5 L115.9,493.5 L116.5,493.4 L117.1,493.4 L117.8,493.3 L118.4,493.2 L119.0,493.2 L119.6,493.1 L120.3,493.0 L120.9,493.0 L121.5,492.9 L122.1,492.9 L122.7,492.8 L123.4,492.7 L124.0,492.7 L124.6,492.6 L125.2,492.5 L125.8,492.5 L126.5,492.4 L127.1,492.3 L127.7,492.3 L128.3,492.2 L128.9,492.1 L129.6,492.1 L130.2,492.0 L130.8,491.9 L131.4,491.9 L132.0,491.8 L132.7,491.7 L133.3,491.7 L133.9,491.6 L134.5,491.5 L135.2,491.5 L135.8,491.4 L136.4,491.3 L137.0,491.3 L137.6,491.2 L138.3,491.1 L138.9,491.1 L139.5,491.0 L140.1,490.9 L140.7,490.9 L141.4,490.8 L142.0,490.7 L142.6,490.7 L143.2,490.6 L143.8,490.5 L144.5,490.5 L145.1,490.4 L145.7,490.3 L146.3,490.3 L147.0,490.2 L147.6,490.1 L148.2,490.1 L148.8,490.0 L149.4,489.9 L150.1,489.9 L150.7,489.8 L151.3,489.7 L151.9,489.7 L152.5,489.6 L153.2,489.5 L153.8,489.5 L154.4,489.4 L155.0,489.3 L155.6,489.3 L156.3,489.2 L156.9,489.1 L157.5,489.0 L158.1,489.0 L158.7,488.9 L159.4,488.8 L160.0,488.7 L160.6,488.7 L161.2,488.6 L161.9,488.5 L162.5,488.4 L163.1,488.4 L163.7,488.3 L164.3,488.2 L165.0,488.1 L165.6,488.1 L166.2,488.0 L166.8,487.9 L167.4,487.8 L168.1,487.7 L168.7,487.6 L169.3,487.5 L169.9,487.5 L170.5,487.4 L171.2,487.3 L171.8,487.2 L172.4,487.1 L173.0,487.0 L173.6,486.9 L174.3,486.8 L174.9,486.7 L175.5,486.6 L176.1,486.5 L176.8,486.4 L177.4,486.2 L178.0,486.1 L178.6,486.0 L179.2,485.9 L179.9,485.8 L180.5,485.6 L181.1,485.5 L181.7,485.4 L182.3,485.2 L183.0,485.1 L183.6,485.0 L184.2,484.8 L184.8,484.7 L185.4,484.5 L186.1,484.3 L186.7,484.2 L187.3,484.0 L187.9,483.9 L188.6,483.7 L189.2,483.5 L189.8,483.3 L190.4,483.1 L191.0,483.0 L191.7,482.8 L192.3,482.6 L192.9,482.4 L193.5,482.2 L194.1,481.9 L194.8,481.7 L195.4,481.5 L196.0,481.3 L196.6,481.1 L197.2,480.8 L197.9,480.6 L198.5,480.4 L199.1,480.1 L199.7,479.9 L200.3,479.6 L201.0,479.4 L201.6,479.1 L202.2,478.8 L202.8,478.5 L203.5,478.3 L204.1,478.0 L204.7,477.7 L205.3,477.4 L205.9,477.1 L206.6,476.8 L207.2,476.5 L207.8,476.1 L208.4,475.8 L209.0,475.5 L209.7,475.1 L210.3,474.8 L210.9,474.4 L211.5,474.1 L212.1,473.7 L212.8,473.4 L213.4,473.0 L214.0,472.6 L214.6,472.2 L215.2,471.8 L215.9,471.4 L216.5,471.0 L217.1,470.5 L217.7,470.1 L218.4,469.7 L219.0,469.2 L219.6,468.7 L220.2,468.3 L220.8,467.8 L221.5,467.3 L222.1,466.8 L222.7,466.2 L223.3,465.7 L223.9,465.1 L224.6,464.6 L225.2,464.0 L225.8,463.4 L226.4,462.8 L227.0,462.2 L227.7,461.5 L228.3,460.8 L228.9,460.2 L229.5,459.5 L230.1,458.7 L230.8,458.0 L231.4,457.2 L232.0,456.4 L232.6,455.6 L233.3,454.8 L233.9,453.9 L234.5,453.0 L235.1,452.1 L235.7,451.2 L236.4,450.2 L237.0,449.2 L237.6,448.2 L238.2,447.2 L238.8,446.1 L239.5,445.0 L240.1,443.9 L240.7,442.7 L241.3,441.5 L241.9,440.3 L242.6,439.0 L243.2,437.8 L243.8,436.5 L244.4,435.1 L245.1,433.7 L245.7,432.3 L246.3,430.9 L246.9,429.4 L247.5,427.9 L248.2,426.4 L248.8,424.8 L249.4,423.3 L250.0,421.6 L250.6,420.0 L251.3,418.3 L251.9,416.6 L252.5,414.9 L253.1,413.2 L253.7,411.4 L254.4,409.6 L255.0,407.8 L255.6,405.9 L256.2,404.1 L256.8,402.2 L257.5,400.3 L258.1,398.4 L258.7,396.5 L259.3,394.6 L260.0,392.7 L260.6,390.7 L261.2,388.8 L261.8,386.9 L262.4,385.0 L263.1,383.0 L263.7,381.1 L264.3,379.3 L264.9,377.4 L265.5,375.6 L266.2,373.7 L266.8,372.0 L267.4,370.2 L268.0,368.5 L268.6,366.8 L269.3,365.2 L269.9,363.7 L270.5,362.2 L271.1,360.7 L271.7,359.4 L272.4,358.1 L273.0,356.9 L273.6,355.8 L274.2,354.7 L274.9,353.8 L275.5,352.9 L276.1,352.2 L276.7,351.5 L277.3,351.0 L278.0,350.6 L278.6,350.2 L279.2,350.0 L279.8,349.9 L280.4,350.0 L281.1,350.1 L281.7,350.3 L282.3,350.7 L282.9,351.2 L283.5,351.8 L284.2,352.5 L284.8,353.3 L285.4,354.3 L286.0,355.3 L286.7,356.4 L287.3,357.6 L287.9,359.0 L288.5,360.4 L289.1,361.9 L289.8,363.4 L290.4,365.1 L291.0,366.8 L291.6,368.6 L292.2,370.5 L292.9,372.4 L293.5,374.3 L294.1,376.3 L294.7,378.4 L295.3,380.4 L296.0,382.5 L296.6,384.7 L297.2,386.8 L297.8,389.0 L298.4,391.2 L299.1,393.3 L299.7,395.5 L300.3,397.7 L300.9,399.9 L301.6,402.1 L302.2,404.2 L302.8,406.4 L303.4,408.5 L304.0,410.6 L304.7,412.7 L305.3,414.8 L305.9,416.8 L306.5,418.9 L307.1,420.8 L307.8,422.8 L308.4,424.7 L309.0,426.6 L309.6,428.5 L310.2,430.3 L310.9,432.0 L311.5,433.8 L312.1,435.5 L312.7,437.2 L313.3,438.8 L314.0,440.4 L314.6,441.9 L315.2,443.5 L315.8,444.9 L316.5,446.4 L317.1,447.8 L317.7,449.2 L318.3,450.5 L318.9,451.8 L319.6,453.1 L320.2,454.3 L320.8,455.5 L321.4,456.7 L322.0,457.8 L322.7,458.9 L323.3,460.0 L323.9,461.0 L324.5,462.0 L325.1,463.0 L325.8,464.0 L326.4,464.9 L327.0,465.8 L327.6,466.7 L328.3,467.5 L328.9,468.3 L329.5,469.2 L330.1,469.9 L330.7,470.7 L331.4,471.4 L332.0,472.2 L332.6,472.9 L333.2,473.5 L333.8,474.2 L334.5,474.8 L335.1,475.4 L335.7,476.1 L336.3,476.6 L336.9,477.2 L337.6,477.8 L338.2,478.3 L338.8,478.8 L339.4,479.3 L340.0,479.8 L340.7,480.3 L341.3,480.8 L341.9,481.2 L342.5,481.7 L343.2,482.1 L343.8,482.5 L344.4,482.9 L345.0,483.3 L345.6,483.7 L346.3,484.1 L346.9,484.4 L347.5,484.8 L348.1,485.1 L348.7,485.5 L349.4,485.8 L350.0,486.1 L350.6,486.4 L351.2,486.7 L351.8,487.0 L352.5,487.3 L353.1,487.6 L353.7,487.8 L354.3,488.1 L354.9,488.3 L355.6,488.6 L356.2,488.8 L356.8,489.1 L357.4,489.3 L358.1,489.5 L358.7,489.7 L359.3,489.9 L359.9,490.1 L360.5,490.3 L361.2,490.5 L361.8,490.7 L362.4,490.9 L363.0,491.1 L363.6,491.2 L364.3,491.4 L364.9,491.6 L365.5,491.7 L366.1,491.9 L366.7,492.0 L367.4,492.2 L368.0,492.3 L368.6,492.5 L369.2,492.6 L369.9,492.7 L370.5,492.8 L371.1,493.0 L371.7,493.1 L372.3,493.2 L373.0,493.3 L373.6,493.4 L374.2,493.5 L374.8,493.6 L375.4,493.7 L376.1,493.8 L376.7,493.9 L377.3,494.0 L377.9,494.1 L378.5,494.2 L379.2,494.2 L379.8,494.3 L380.4,494.4 L381.0,494.5 L381.6,494.5 L382.3,494.6 L382.9,494.7 L383.5,494.7 L384.1,494.8 L384.8,494.9 L385.4,494.9 L386.0,495.0 L386.6,495.0 L387.2,495.1 L387.9,495.2 L388.5,495.2 L389.1,495.3 L389.7,495.3 L390.3,495.4 L391.0,495.4 L391.6,495.4 L392.2,495.5 L392.8,495.5 L393.4,495.6 L394.1,495.6 L394.7,495.6 L395.3,495.7 L395.9,495.7 L396.5,495.8 L397.2,495.8 L397.8,495.8 L398.4,495.9 L399.0,495.9 L399.7,495.9 L400.3,495.9 L400.9,496.0 L401.5,496.0 L402.1,496.0 L402.8,496.1 L403.4,496.1 L404.0,496.2" stroke="#000000"/>
<path d="M56.3,497.1 L56.9,497.1 L57.5,497.1 L58.2,497.2 L58.8,497.2 L59.4,497.3 L60.0,497.3 L60.6,497.4 L61.3,497.4 L61.9,497.5 L62.5,497.5 L63.1,497.5 L63.8,497.5 L64.4,497.5 L65.0,497.6 L65.6,497.6 L66.2,497.6 L66.9,497.6 L67.5,497.6 L68.1,497.6 L68.7,497.6 L69.3,497.6 L70.0,497.6 L70.6,497.6 L71.2,497.6 L71.8,497.6 L72.4,497.5 L73.1,497.5 L73.7,497.5 L74.3,497.5 L74.9,497.5 L75.5,497.5 L76.2,497.5 L76.8,497.5 L77.4,497.5 L78.0,497.5 L78.7,497.6 L79.3,497.6 L79.9,497.6 L80.5,497.6 L81.1,497.6 L81.8,497.7 L82.4,497.7 L83.0,497.7 L83.6,497.8 L84.2,497.8 L84.9,497.8 L85.5,497.9 L86.1,497.9 L86.7,497.9 L87.3,498.0 L88.0,498.0 L88.6,498.0 L89.2,498.0 L89.8,498.0 L90.4,498.0 L91.1,498.0 L91.7,498.0 L92.3,498.0 L92.9,498.0 L93.6,498.0 L94.2,498.0 L94.8,497.9 L95.4,497.9 L96.0,497.8 L96.7,497.8 L97.3,497.7 L97.9,497.6 L98.5,497.5 L99.1,497.4 L99.8,497.3 L100.4,497.2 L101.0,497.1 L101.6,497.0 L102.2,496.8 L102.9,496.7 L103.5,496.5 L104.1,496.4 L104.7,496.2 L105.4,496.0 L106.0,495.9 L106.6,495.7 L107.2,495.5 L107.8,495.3 L108.5,495.2 L109.1,495.0 L109.7,494.8 L110.3,494.6 L110.9,494.4 L111.6,494.2 L112.2,494.0 L112.8,493.8 L113.4,493.6 L114.0,493.3 L114.7,493.1 L115.3,492.9 L115.9,492.6 L116.5,492.4 L117.1,492.1 L117.8,491.9 L118.4,491.6 L119.0,491.3 L119.6,491.0 L120.3,490.7 L120.9,490.4 L121.5,490.1 L122.1,489.7 L122.7,489.4 L123.4,489.0 L124.0,488.6 L124.6,488.2 L125.2,487.8 L125.8,487.3 L126.5,486.8 L127.1,486.3 L127.7,485.8 L128.3,485.3 L128.9,484.7 L129.6,484.1 L130.2,483.5 L130.8,482.8 L131.4,482.1 L132.0,481.4 L132.7,480.7 L133.3,480.0 L133.9,479.2 L134.5,478.4 L135.2,477.6 L135.8,476.7 L136.4,475.8 L137.0,474.9 L137.6,474.0 L138.3,473.0 L138.9,472.0 L139.5,471.0 L140.1,470.0 L140.7,469.0 L141.4,467.9 L142.0,466.8 L142.6,465.6 L143.2,464.5 L143.8,463.3 L144.5,462.1 L145.1,460.9 L145.7,459.7 L146.3,458.4 L147.0,457.1 L147.6,455.8 L148.2,454.5 L148.8,453.1 L149.4,451.7 L150.1,450.2 L150.7,448.7 L151.3,447.2 L151.9,445.7 L152.5,444.1 L153.2,442.4 L153.8,440.7 L154.4,439.0 L155.0,437.2 L155.6,435.4 L156.3,433.5 L156.9,431.6 L157.5,429.6 L158.1,427.6 L158.7,425.5 L159.4,423.5 L160.0,421.4 L160.6,419.3 L161.2,417.2 L161.9,415.1 L162.5,413.0 L163.1,410.9 L163.7,408.9 L164.3,406.9 L165.0,404.9 L165.6,403.0 L166.2,401.2 L166.8,399.4 L167.4,397.7 L168.1,396.1 L168.7,394.6 L169.3,393.2 L169.9,392.0 L170.5,390.8 L171.2,389.7 L171.8,388.7 L172.4,387.8 L173.0,387.0 L173.6,386.3 L174.3,385.7 L174.9,385.2 L175.5,384.8 L176.1,384.4 L176.8,384.1 L177.4,384.0 L178.0,383.8 L178.6,383.8 L179.2,383.8 L179.9,383.9 L180.5,384.1 L181.1,384.3 L181.7,384.6 L182.3,384.9 L183.0,385.4 L183.6,385.8 L184.2,386.4 L184.8,387.1 L185.4,387.8 L186.1,388.6 L186.7,389.5 L187.3,390.4 L187.9,391.5 L188.6,392.7 L189.2,393.9 L189.8,395.3 L190.4,396.7 L191.0,398.2 L191.7,399.8 L192.3,401.6 L192.9,403.4 L193.5,405.3 L194.1,407.3 L194.8,409.4 L195.4,411.5 L196.0,413.7 L196.6,415.8 L197.2,418.1 L197.9,420.3 L198.5,422.5 L199.1,424.7 L199.7,426.9 L200.3,429.1 L201.0,431.2 L201.6,433.3 L202.2,435.3 L202.8,437.2 L203.5,439.1 L204.1,440.9 L204.7,442.6 L205.3,444.3 L205.9,445.8 L206.6,447.3 L207.2,448.7 L207.8,450.0 L208.4,451.4 L209.0,452.6 L209.7,453.9 L210.3,455.2 L210.9,456.5 L211.5,457.7 L212.1,459.1 L212.8,460.4 L213.4,461.8 L214.0,463.2 L214.6,464.6 L215.2,466.2 L215.9,467.7 L216.5,469.4 L217.1,471.0 L217.7,472.8 L218.4,474.6 L219.0,476.4 L219.6,478.2 L220.2,480.1 L220.8,481.9 L221.5,483.7 L222.1,485.4 L222.7,487.1 L223.3,488.7 L223.9,490.2 L224.6,491.6 L225.2,492.9 L225.8,494.1 L226.4,495.1 L227.0,496.0 L227.7,496.7 L228.3,497.3 L228.9,497.7 L229.5,498.0 L230.1,498.1 L230.8,498.0 L231.4,497.7 L232.0,497.3 L232.6,496.7 L233.3,496.0 L233.9,495.1 L234.5,494.1 L235.1,492.9 L235.7,491.6 L236.4,490.2 L237.0,488.7 L237.6,487.1 L238.2,485.4 L238.8,483.7 L239.5,481.9 L240.1,480.1 L240.7,478.2 L241.3,476.4 L241.9,474.6 L242.6,472.8 L243.2,471.0 L243.8,469.4 L244.4,467.7 L245.1,466.2 L245.7,464.6 L246.3,463.2 L246.9,461.8 L247.5,460.4 L248.2,459.1 L248.8,457.7 L249.4,456.5 L250.0,455.2 L250.6,453.9 L251.3,452.6 L251.9,451.4 L252.5,450.0 L253.1,448.7 L253.7,447.3 L254.4,445.8 L255.0,444.3 L255.6,442.6 L256.2,440.9 L256.8,439.1 L257.5,437.2 L258.1,435.3 L258.7,433.3 L259.3,431.2 L260.0,429.1 L260.6,426.9 L261.2,424.7 L261.8,422.5 L262.4,420.3 L263.1,418.1 L263.7,415.8 L264.3,413.7 L264.9,411.5 L265.5,409.4 L266.2,407.3 L266.8,405.3 L267.4,403.4 L268.0,401.6 L268.6,399.8 L269.3,398.2 L269.9,396.7 L270.5,395.3 L271.1,393.9 L271.7,392.7 L272.4,391.5 L273.0,390.4 L273.6,389.5 L274.2,388.6 L274.9,387.8 L275.5,387.1 L276.1,386.4 L276.7,385.8 L277.3,385.4 L278.0,384.9 L278.6,384.6 L279.2,384.3 L279.8,384.1 L280.4,383.9 L281.1,383.8 L281.7,383.8 L282.3,383.8 L282.9,384.0 L283.5,384.1 L284.2,384.4 L284.8,384.8 L285.4,385.2 L286.0,385.7 L286.7,386.3 L287.3,387.0 L287.9,387.8 L288.5,388.7 L289.1,389.7 L289.8,390.8 L290.4,392.0 L291.0,393.2 L291.6,394.6 L292.2,396.1 L292.9,397.7 L293.5,399.4 L294.1,401.2 L294.7,403.0 L295.3,404.9 L296.0,406.9 L296.6,408.9 L297.2,410.9 L297.8,413.0 L298.4,415.1 L299.1,417.2 L299.7,419.3 L300.3,421.4 L300.9,423.5 L301.6,425.5 L302.2,427.6 L302.8,429.6 L303.4,431.6 L304.0,433.5 L304.7,435.4 L305.3,437.2 L305.9,439.0 L306.5,440.7 L307.1,442.4 L307.8,444.1 L308.4,445.7 L309.0,447.2 L309.6,448.7 L310.2,450.2 L310.9,451.7 L311.5,453.1 L312.1,454.5 L312.7,455.8 L313.3,457.1 L314.0,458.4 L314.6,459.7 L315.2,460.9 L315.8,462.1 L316.5,463.3 L317.1,464.5 L317.7,465.6 L318.3,466.8 L318.9,467.9 L319.6,469.0 L320.2,470.0 L320.8,471.0 L321.4,472.0 L322.0,473.0 L322.7,474.0 L323.3,474.9 L323.9,475.8 L324.5,476.7 L325.1,477.6 L325.8,478.4 L326.4,479.2 L327.0,480.0 L327.6,480.7 L328.3,481.4 L328.9,482.1 L329.5,482.8 L330.1,483.5 L330.7,484.1 L331.4,484.7 L332.0,485.3 L332.6,485.8 L333.2,486.3 L333.8,486.8 L334.5,487.3 L335.1,487.8 L335.7,488.2 L336.3,488.6 L336.9,489.0 L337.6,489.4 L338.2,489.7 L338.8,490.1 L339.4,490.4 L340.0,490.7 L340.7,491.0 L341.3,491.3 L341.9,491.6 L342.5,491.9 L343.2,492.1 L343.8,492.4 L344.4,492.6 L345.0,492.9 L345.6,493.1 L346.3,493.3 L346.9,493.6 L347.5,493.8 L348.1,494.0 L348.7,494.2 L349.4,494.4 L350.0,494.6 L350.6,494.8 L351.2,495.0 L351.8,495.2 L352.5,495.3 L353.1,495.5 L353.7,495.7 L354.3,495.9 L354.9,496.0 L355.6,496.2 L356.2,496.4 L356.8,496.5 L357.4,496.7 L358.1,496.8 L358.7,497.0 L359.3,497.1 L359.9,497.2 L360.5,497.3 L361.2,497.4 L361.8,497.5 L362.4,497.6 L363.0,497.7 L363.6,497.8 L364.3,497.8 L364.9,497.9 L365.5,497.9 L366.1,498.0 L366.7,498.0 L367.4,498.0 L368.0,498.0 L368.6,498.0 L369.2,498.0 L369.9,498.0 L370.5,498.0 L371.1,498.0 L371.7,498.0 L372.3,498.0 L373.0,498.0 L373.6,497.9 L374.2,497.9 L374.8,497.9 L375.4,497.8 L376.1,497.8 L376.7,497.8 L377.3,497.7 L377.9,497.7 L378.5,497.7 L379.2,497.6 L379.8,497.6 L380.4,497.6 L381.0,497.6 L381.6,497.6 L382.3,497.5 L382.9,497.5 L383.5,497.5 L384.1,497.5 L384.8,497.5 L385.4,497.5 L386.0,497.5 L386.6,497.5 L387.2,497.5 L387.9,497.5 L388.5,497.6 L389.1,497.6 L389.7,497.6 L390.3,497.6 L391.0,497.6 L391.6,497.6 L392.2,497.6 L392.8,497.6 L393.4,497.6 L394.1,497.6 L394.7,497.6 L395.3,497.6 L395.9,497.5 L396.5,497.5 L397.2,497.5 L397.8,497.5 L398.4,497.5 L399.0,497.4 L399.7,497.4 L400.3,497.3 L400.9,497.3 L401.5,497.2 L402.1,497.2 L402.8,497.1 L403.4,497.1 L404.0,497.1" stroke="#ff0000" stroke-dasharray="13.5 6.3"/>
<path d="M56.3,496.2 L56.9,496.1 L57.5,496.1 L58.2,496.0 L58.8,496.0 L59.4,496.0 L60.0,495.9 L60.6,495.9 L61.3,495.9 L61.9,495.9 L62.5,495.8 L63.1,495.8 L63.8,495.8 L64.4,495.7 L65.0,495.7 L65.6,495.6 L66.2,495.6 L66.9,495.6 L67.5,495.5 L68.1,495.5 L68.7,495.4 L69.3,495.4 L70.0,495.4 L70.6,495.3 L71.2,495.3 L71.8,495.2 L72.4,495.2 L73.1,495.1 L73.7,495.0 L74.3,495.0 L74.9,494.9 L75.5,494.9 L76.2,494.8 L76.8,494.7 L77.4,494.7 L78.0,494.6 L78.7,494.5 L79.3,494.5 L79.9,494.4 L80.5,494.3 L81.1,494.2 L81.8,494.2 L82.4,494.1 L83.0,494.0 L83.6,493.9 L84.2,493.8 L84.9,493.7 L85.5,493.6 L86.1,493.5 L86.7,493.4 L87.3,493.3 L88.0,493.2 L88.6,493.1 L89.2,493.0 L89.8,492.8 L90.4,492.7 L91.1,492.6 L91.7,492.5 L92.3,492.3 L92.9,492.2 L93.6,492.0 L94.2,491.9 L94.8,491.7 L95.4,491.6 L96.0,491.4 L96.7,491.2 L97.3,491.1 L97.9,490.9 L98.5,490.7 L99.1,490.5 L99.8,490.3 L100.4,490.1 L101.0,489.9 L101.6,489.7 L102.2,489.5 L102.9,489.3 L103.5,489.1 L104.1,488.8 L104.7,488.6 L105.4,488.3 L106.0,488.1 L106.6,487.8 L107.2,487.6 L107.8,487.3 L108.5,487.0 L109.1,486.7 L109.7,486.4 L110.3,486.1 L110.9,485.8 L111.6,485.5 L112.2,485.1 L112.8,484.8 L113.4,484.4 L114.0,484.1 L114.7,483.7 L115.3,483.3 L115.9,482.9 L116.5,482.5 L117.1,482.1 L117.8,481.7 L118.4,481.2 L119.0,480.8 L119.6,480.3 L120.3,479.8 L120.9,479.3 L121.5,478.8 L122.1,478.3 L122.7,477.8 L123.4,477.2 L124.0,476.6 L124.6,476.1 L125.2,475.4 L125.8,474.8 L126.5,474.2 L127.1,473.5 L127.7,472.9 L128.3,472.2 L128.9,471.4 L129.6,470.7 L130.2,469.9 L130.8,469.2 L131.4,468.3 L132.0,467.5 L132.7,466.7 L133.3,465.8 L133.9,464.9 L134.5,464.0 L135.2,463.0 L135.8,462.0 L136.4,461.0 L137.0,460.0 L137.6,458.9 L138.3,457.8 L138.9,456.7 L139.5,455.5 L140.1,454.3 L140.7,453.1 L141.4,451.8 L142.0,450.5 L142.6,449.2 L143.2,447.8 L143.8,446.4 L144.5,444.9 L145.1,443.5 L145.7,441.9 L146.3,440.4 L147.0,438.8 L147.6,437.2 L148.2,435.5 L148.8,433.8 L149.4,432.0 L150.1,430.3 L150.7,428.5 L151.3,426.6 L151.9,424.7 L152.5,422.8 L153.2,420.8 L153.8,418.9 L154.4,416.8 L155.0,414.8 L155.6,412.7 L156.3,410.6 L156.9,408.5 L157.5,406.4 L158.1,404.2 L158.7,402.1 L159.4,399.9 L160.0,397.7 L160.6,395.5 L161.2,393.3 L161.9,391.2 L162.5,389.0 L163.1,386.8 L163.7,384.7 L164.3,382.5 L165.0,380.4 L165.6,378.4 L166.2,376.3 L166.8,374.3 L167.4,372.4 L168.1,370.5 L168.7,368.6 L169.3,366.8 L169.9,365.1 L170.5,363.4 L171.2,361.9 L171.8,360.4 L172.4,359.0 L173.0,357.6 L173.6,356.4 L174.3,355.3 L174.9,354.3 L175.5,353.3 L176.1,352.5 L176.8,351.8 L177.4,351.2 L178.0,350.7 L178.6,350.3 L179.2,350.1 L179.9,350.0 L180.5,349.9 L181.1,350.0 L181.7,350.2 L182.3,350.6 L183.0,351.0 L183.6,351.5 L184.2,352.2 L184.8,352.9 L185.4,353.8 L186.1,354.7 L186.7,355.8 L187.3,356.9 L187.9,358.1 L188.6,359.4 L189.2,360.7 L189.8,362.2 L190.4,363.7 L191.0,365.2 L191.7,366.8 L192.3,368.5 L192.9,370.2 L193.5,372.0 L194.1,373.7 L194.8,375.6 L195.4,377.4 L196.0,379.3 L196.6,381.1 L197.2,383.0 L197.9,385.0 L198.5,386.9 L199.1,388.8 L199.7,390.7 L200.3,392.7 L201.0,394.6 L201.6,396.5 L202.2,398.4 L202.8,400.3 L203.5,402.2 L204.1,404.1 L204.7,405.9 L205.3,407.8 L205.9,409.6 L206.6,411.4 L207.2,413.2 L207.8,414.9 L208.4,416.6 L209.0,418.3 L209.7,420.0 L210.3,421.6 L210.9,423.3 L211.5,424.8 L212.1,426.4 L212.8,427.9 L213.4,429.4 L214.0,430.9 L214.6,432.3 L215.2,433.7 L215.9,435.1 L216.5,436.5 L217.1,437.8 L217.7,439.0 L218.4,440.3 L219.0,441.5 L219.6,442.7 L220.2,443.9 L220.8,445.0 L221.5,446.1 L222.1,447.2 L222.7,448.2 L223.3,449.2 L223.9,450.2 L224.6,451.2 L225.2,452.1 L225.8,453.0 L226.4,453.9 L227.0,454.8 L227.7,455.6 L228.3,456.4 L228.9,457.2 L229.5,458.0 L230.1,458.7 L230.8,459.5 L231.4,460.2 L232.0,460.8 L232.6,461.5 L233.3,462.2 L233.9,462.8 L234.5,463.4 L235.1,464.0 L235.7,464.6 L236.4,465.1 L237.0,465.7 L237.6,466.2 L238.2,466.8 L238.8,467.3 L239.5,467.8 L240.1,468.3 L240.7,468.7 L241.3,469.2 L241.9,469.7 L242.6,470.1 L243.2,470.5 L243.8,471.0 L244.4,471.4 L245.1,471.8 L245.7,472.2 L246.3,472.6 L246.9,473.0 L247.5,473.4 L248.2,473.7 L248.8,474.1 L249.4,474.4 L250.0,474.8 L250.6,475.1 L251.3,475.5 L251.9,475.8 L252.5,476.1 L253.1,476.5 L253.7,476.8 L254.4,477.1 L255.0,477.4 L255.6,477.7 L256.2,478.0 L256.8,478.3 L257.5,478.5 L258.1,478.8 L258.7,479.1 L259.3,479.4 L260.0,479.6 L260.6,479.9 L261.2,480.1 L261.8,480.4 L262.4,480.6 L263.1,480.8 L263.7,481.1 L264.3,481.3 L264.9,481.5 L265.5,481.7 L266.2,481.9 L266.8,482.2 L267.4,482.4 L268.0,482.6 L268.6,482.8 L269.3,483.0 L269.9,483.1 L270.5,483.3 L271.1,483.5 L271.7,483.7 L272.4,483.9 L273.0,484.0 L273.6,484.2 L274.2,484.3 L274.9,484.5 L275.5,484.7 L276.1,484.8 L276.7,485.0 L277.3,485.1 L278.0,485.2 L278.6,485.4 L279.2,485.5 L279.8,485.6 L280.4,485.8 L281.1,485.9 L281.7,486.0 L282.3,486.1 L282.9,486.2 L283.5,486.4 L284.2,486.5 L284.8,486.6 L285.4,486.7 L286.0,486.8 L286.7,486.9 L287.3,487.0 L287.9,487.1 L288.5,487.2 L289.1,487.3 L289.8,487.4 L290.4,487.5 L291.0,487.5 L291.6,487.6 L292.2,487.7 L292.9,487.8 L293.5,487.9 L294.1,488.0 L294.7,488.1 L295.3,488.1 L296.0,488.2 L296.6,488.3 L297.2,488.4 L297.8,488.4 L298.4,488.5 L299.1,488.6 L299.7,488.7 L300.3,488.7 L300.9,488.8 L301.6,488.9 L302.2,489.0 L302.8,489.0 L303.4,489.1 L304.0,489.2 L304.7,489.3 L305.3,489.3 L305.9,489.4 L306.5,489.5 L307.1,489.5 L307.8,489.6 L308.4,489.7 L309.0,489.7 L309.6,489.8 L310.2,489.9 L310.9,489.9 L311.5,490.0 L312.1,490.1 L312.7,490.1 L313.3,490.2 L314.0,490.3 L314.6,490.3 L315.2,490.4 L315.8,490.5 L316.5,490.5 L317.1,490.6 L317.7,490.7 L318.3,490.7 L318.9,490.8 L319.6,490.9 L320.2,490.9 L320.8,491.0 L321.4,491.1 L322.0,491.1 L322.7,491.2 L323.3,491.3 L323.9,491.3 L324.5,491.4 L325.1,491.5 L325.8,491.5 L326.4,491.6 L327.0,491.7 L327.6,491.7 L328.3,491.8 L328.9,491.9 L329.5,491.9 L330.1,492.0 L330.7,492.1 L331.4,492.1 L332.0,492.2 L332.6,492.3 L333.2,492.3 L333.8,492.4 L334.5,492.5 L335.1,492.5 L335.7,492.6 L336.3,492.7 L336.9,492.7 L337.6,492.8 L338.2,492.9 L338.8,492.9 L339.4,493.0 L340.0,493.0 L340.7,493.1 L341.3,493.2 L341.9,493.2 L342.5,493.3 L343.2,493.4 L343.8,493.4 L344.4,493.5 L345.0,493.5 L345.6,493.6 L346.3,493.7 L346.9,493.7 L347.5,493.8 L348.1,493.8 L348.7,493.9 L349.4,494.0 L350.0,494.0 L350.6,494.1 L351.2,494.1 L351.8,494.2 L352.5,494.2 L353.1,494.3 L353.7,494.3 L354.3,494.4 L354.9,494.4 L355.6,494.5 L356.2,494.5 L356.8,494.6 L357.4,494.6 L358.1,494.7 L358.7,494.7 L359.3,494.8 L359.9,494.8 L360.5,494.9 L361.2,494.9 L361.8,495.0 L362.4,495.0 L363.0,495.1 L363.6,495.1 L364.3,495.1 L364.9,495.2 L365.5,495.2 L366.1,495.3 L366.7,495.3 L367.4,495.4 L368.0,495.4 L368.6,495.4 L369.2,495.5 L369.9,495.5 L370.5,495.5 L371.1,495.6 L371.7,495.6 L372.3,495.7 L373.0,495.7 L373.6,495.7 L374.2,495.8 L374.8,495.8 L375.4,495.8 L376.1,495.9 L376.7,495.9 L377.3,495.9 L377.9,495.9 L378.5,496.0 L379.2,496.0 L379.8,496.0 L380.4,496.1 L381.0,496.1 L381.6,496.1 L382.3,496.1 L382.9,496.2 L383.5,496.2 L384.1,496.2 L384.8,496.3 L385.4,496.3 L386.0,496.3 L386.6,496.3 L387.2,496.3 L387.9,496.4 L388.5,496.4 L389.1,496.4 L389.7,496.4 L390.3,496.5 L391.0,496.5 L391.6,496.5 L392.2,496.5 L392.8,496.5 L393.4,496.6 L394.1,496.6 L394.7,496.6 L395.3,496.6 L395.9,496.6 L396.5,496.7 L397.2,496.7 L397.8,496.7 L398.4,496.7 L399.0,496.7 L399.7,496.7 L400.3,496.7 L400.9,496.8 L401.5,496.8 L402.1,496.8 L402.8,496.8 L403.4,496.8 L404.0,496.8" stroke="#0000ff" stroke-dasharray="14.5 6.3 2.5 6.7"/>
</g>
<path d="M105.97,336.0v10 M105.97,498.1v-10 M230.15,336.0v10 M230.15,498.1v-10 M354.33,336.0v10 M354.33,498.1v-10 M168.06,336.0v5 M168.06,498.1v-5 M292.24,336.0v5 M292.24,498.1v-5 M56.3,368.15h13.5 M404.0,368.15h-13.5 M56.3,433.10h6.8 M404.0,433.10h-6.8" stroke="#000" stroke-width="1.2" fill="none"/>
<rect x="56.3" y="336.0" width="347.7" height="162.10000000000002" fill="none" stroke="#000" stroke-width="1.4"/>
<clipPath id="cpe"><rect x="418.1" y="166.0" width="347.25" height="162.10000000000002"/></clipPath>
<g clip-path="url(#cpe)" fill="none" stroke-width="2.4" stroke-linejoin="round">
<path d="M418.1,327.4 L418.7,327.4 L419.3,327.4 L420.0,327.4 L420.6,327.3 L421.2,327.3 L421.8,327.3 L422.4,327.3 L423.1,327.3 L423.7,327.2 L424.3,327.2 L424.9,327.2 L425.5,327.2 L426.2,327.1 L426.8,327.1 L427.4,327.1 L428.0,327.1 L428.6,327.1 L429.3,327.0 L429.9,327.0 L430.5,327.0 L431.1,327.0 L431.7,326.9 L432.4,326.9 L433.0,326.9 L433.6,326.9 L434.2,326.9 L434.8,326.8 L435.5,326.8 L436.1,326.8 L436.7,326.8 L437.3,326.8 L437.9,326.7 L438.6,326.7 L439.2,326.7 L439.8,326.7 L440.4,326.7 L441.0,326.6 L441.7,326.6 L442.3,326.6 L442.9,326.6 L443.5,326.6 L444.1,326.5 L444.8,326.5 L445.4,326.5 L446.0,326.5 L446.6,326.5 L447.2,326.5 L447.9,326.4 L448.5,326.4 L449.1,326.4 L449.7,326.4 L450.3,326.4 L451.0,326.3 L451.6,326.3 L452.2,326.3 L452.8,326.3 L453.4,326.3 L454.1,326.3 L454.7,326.2 L455.3,326.2 L455.9,326.2 L456.5,326.2 L457.2,326.2 L457.8,326.2 L458.4,326.1 L459.0,326.1 L459.6,326.1 L460.3,326.1 L460.9,326.1 L461.5,326.1 L462.1,326.1 L462.7,326.0 L463.4,326.0 L464.0,326.0 L464.6,326.0 L465.2,326.0 L465.8,326.0 L466.5,326.0 L467.1,326.0 L467.7,325.9 L468.3,325.9 L468.9,325.9 L469.6,325.9 L470.2,325.9 L470.8,325.9 L471.4,325.9 L472.0,325.9 L472.7,325.8 L473.3,325.8 L473.9,325.8 L474.5,325.8 L475.1,325.8 L475.8,325.8 L476.4,325.8 L477.0,325.8 L477.6,325.8 L478.2,325.7 L478.9,325.7 L479.5,325.7 L480.1,325.7 L480.7,325.7 L481.3,325.7 L482.0,325.7 L482.6,325.7 L483.2,325.7 L483.8,325.7 L484.4,325.7 L485.1,325.6 L485.7,325.6 L486.3,325.6 L486.9,325.6 L487.6,325.6 L488.2,325.6 L488.8,325.6 L489.4,325.6 L490.0,325.6 L490.7,325.6 L491.3,325.6 L491.9,325.6 L492.5,325.5 L493.1,325.5 L493.8,325.5 L494.4,325.5 L495.0,325.5 L495.6,325.5 L496.2,325.5 L496.9,325.5 L497.5,325.5 L498.1,325.5 L498.7,325.5 L499.3,325.5 L500.0,325.5 L500.6,325.4 L501.2,325.4 L501.8,325.4 L502.4,325.4 L503.1,325.4 L503.7,325.4 L504.3,325.4 L504.9,325.4 L505.5,325.4 L506.2,325.4 L506.8,325.4 L507.4,325.4 L508.0,325.3 L508.6,325.3 L509.3,325.3 L509.9,325.3 L510.5,325.3 L511.1,325.3 L511.7,325.3 L512.4,325.3 L513.0,325.3 L513.6,325.2 L514.2,325.2 L514.8,325.2 L515.5,325.2 L516.1,325.2 L516.7,325.2 L517.3,325.2 L517.9,325.1 L518.6,325.1 L519.2,325.1 L519.8,325.1 L520.4,325.1 L521.0,325.0 L521.7,325.0 L522.3,325.0 L522.9,325.0 L523.5,325.0 L524.1,324.9 L524.8,324.9 L525.4,324.9 L526.0,324.9 L526.6,324.8 L527.2,324.8 L527.9,324.8 L528.5,324.7 L529.1,324.7 L529.7,324.7 L530.3,324.7 L531.0,324.6 L531.6,324.6 L532.2,324.5 L532.8,324.5 L533.4,324.5 L534.1,324.4 L534.7,324.4 L535.3,324.3 L535.9,324.3 L536.5,324.3 L537.2,324.2 L537.8,324.2 L538.4,324.1 L539.0,324.1 L539.6,324.0 L540.3,324.0 L540.9,323.9 L541.5,323.9 L542.1,323.8 L542.7,323.8 L543.4,323.7 L544.0,323.6 L544.6,323.6 L545.2,323.5 L545.8,323.5 L546.5,323.4 L547.1,323.4 L547.7,323.3 L548.3,323.2 L548.9,323.2 L549.6,323.1 L550.2,323.1 L550.8,323.0 L551.4,322.9 L552.0,322.9 L552.7,322.8 L553.3,322.8 L553.9,322.7 L554.5,322.6 L555.1,322.6 L555.8,322.5 L556.4,322.4 L557.0,322.4 L557.6,322.3 L558.2,322.2 L558.9,322.2 L559.5,322.1 L560.1,322.1 L560.7,322.0 L561.3,321.9 L562.0,321.9 L562.6,321.8 L563.2,321.7 L563.8,321.7 L564.4,321.6 L565.1,321.6 L565.7,321.5 L566.3,321.4 L566.9,321.4 L567.5,321.3 L568.2,321.3 L568.8,321.2 L569.4,321.1 L570.0,321.1 L570.6,321.0 L571.3,321.0 L571.9,320.9 L572.5,320.9 L573.1,320.8 L573.7,320.7 L574.4,320.7 L575.0,320.6 L575.6,320.5 L576.2,320.5 L576.8,320.4 L577.5,320.3 L578.1,320.2 L578.7,320.2 L579.3,320.1 L579.9,320.0 L580.6,319.9 L581.2,319.8 L581.8,319.7 L582.4,319.5 L583.0,319.4 L583.7,319.3 L584.3,319.1 L584.9,319.0 L585.5,318.8 L586.1,318.6 L586.8,318.4 L587.4,318.2 L588.0,318.0 L588.6,317.8 L589.2,317.5 L589.9,317.2 L590.5,316.9 L591.1,316.6 L591.7,316.2 L592.3,315.8 L593.0,315.4 L593.6,315.0 L594.2,314.5 L594.8,313.9 L595.4,313.3 L596.1,312.7 L596.7,312.0 L597.3,311.3 L597.9,310.4 L598.5,309.6 L599.2,308.6 L599.8,307.6 L600.4,306.5 L601.0,305.2 L601.6,303.9 L602.3,302.5 L602.9,301.0 L603.5,299.3 L604.1,297.5 L604.7,295.6 L605.4,293.4 L606.0,291.1 L606.6,288.7 L607.2,286.0 L607.8,283.0 L608.5,279.9 L609.1,276.4 L609.7,272.7 L610.3,268.7 L610.9,264.3 L611.6,259.5 L612.2,254.3 L612.8,248.7 L613.4,242.6 L614.0,235.9 L614.7,228.7 L615.3,220.8 L615.9,212.3 L616.5,202.9 L617.1,192.8 L617.8,181.9 L618.4,169.9 L619.0,157.0 L619.6,143.1 L620.2,128.0 L620.9,126.0 L621.5,126.0 L622.1,126.0 L622.7,126.0 L623.3,126.0 L624.0,126.0 L624.6,126.0 L625.2,126.0 L625.8,126.0 L626.5,126.0 L627.1,126.0 L627.7,126.0 L628.3,126.0 L628.9,126.0 L629.6,126.0 L630.2,126.0 L630.8,126.0 L631.4,126.0 L632.0,126.0 L632.7,126.0 L633.3,126.0 L633.9,126.0 L634.5,126.0 L635.1,126.0 L635.8,126.0 L636.4,126.0 L637.0,126.0 L637.6,126.0 L638.2,126.0 L638.9,126.0 L639.5,126.0 L640.1,126.0 L640.7,126.0 L641.3,126.0 L642.0,126.0 L642.6,126.0 L643.2,126.0 L643.8,126.0 L644.4,126.0 L645.1,126.0 L645.7,126.0 L646.3,126.0 L646.9,126.0 L647.5,130.4 L648.2,146.5 L648.8,161.4 L649.4,175.1 L650.0,187.7 L650.6,199.2 L651.3,209.8 L651.9,219.4 L652.5,228.3 L653.1,236.3 L653.7,243.7 L654.4,250.4 L655.0,256.6 L655.6,262.2 L656.2,267.3 L656.8,272.0 L657.5,276.2 L658.1,280.1 L658.7,283.7 L659.3,286.9 L659.9,289.9 L660.6,292.6 L661.2,295.1 L661.8,297.4 L662.4,299.5 L663.0,301.4 L663.7,303.2 L664.3,304.8 L664.9,306.3 L665.5,307.7 L666.1,309.0 L666.8,310.1 L667.4,311.2 L668.0,312.2 L668.6,313.1 L669.2,314.0 L669.9,314.8 L670.5,315.5 L671.1,316.2 L671.7,316.8 L672.3,317.4 L673.0,317.9 L673.6,318.5 L674.2,318.9 L674.8,319.4 L675.4,319.8 L676.1,320.2 L676.7,320.5 L677.3,320.9 L677.9,321.2 L678.5,321.5 L679.2,321.7 L679.8,322.0 L680.4,322.2 L681.0,322.5 L681.6,322.7 L682.3,322.9 L682.9,323.1 L683.5,323.3 L684.1,323.4 L684.7,323.6 L685.4,323.8 L686.0,323.9 L686.6,324.0 L687.2,324.2 L687.8,324.3 L688.5,324.4 L689.1,324.5 L689.7,324.6 L690.3,324.7 L690.9,324.8 L691.6,324.9 L692.2,325.0 L692.8,325.1 L693.4,325.2 L694.0,325.2 L694.7,325.3 L695.3,325.4 L695.9,325.4 L696.5,325.5 L697.1,325.6 L697.8,325.6 L698.4,325.7 L699.0,325.7 L699.6,325.8 L700.2,325.8 L700.9,325.9 L701.5,325.9 L702.1,325.9 L702.7,326.0 L703.3,326.0 L704.0,326.1 L704.6,326.1 L705.2,326.1 L705.8,326.2 L706.4,326.2 L707.1,326.2 L707.7,326.3 L708.3,326.3 L708.9,326.3 L709.5,326.4 L710.2,326.4 L710.8,326.4 L711.4,326.4 L712.0,326.5 L712.6,326.5 L713.3,326.5 L713.9,326.5 L714.5,326.5 L715.1,326.6 L715.7,326.6 L716.4,326.6 L717.0,326.6 L717.6,326.6 L718.2,326.7 L718.8,326.7 L719.5,326.7 L720.1,326.7 L720.7,326.7 L721.3,326.8 L721.9,326.8 L722.6,326.8 L723.2,326.8 L723.8,326.8 L724.4,326.8 L725.0,326.8 L725.7,326.9 L726.3,326.9 L726.9,326.9 L727.5,326.9 L728.1,326.9 L728.8,326.9 L729.4,326.9 L730.0,326.9 L730.6,327.0 L731.2,327.0 L731.9,327.0 L732.5,327.0 L733.1,327.0 L733.7,327.0 L734.3,327.0 L735.0,327.0 L735.6,327.0 L736.2,327.1 L736.8,327.1 L737.4,327.1 L738.1,327.1 L738.7,327.1 L739.3,327.1 L739.9,327.1 L740.5,327.1 L741.2,327.1 L741.8,327.1 L742.4,327.2 L743.0,327.2 L743.6,327.2 L744.3,327.2 L744.9,327.2 L745.5,327.2 L746.1,327.2 L746.7,327.2 L747.4,327.2 L748.0,327.2 L748.6,327.2 L749.2,327.2 L749.8,327.3 L750.5,327.3 L751.1,327.3 L751.7,327.3 L752.3,327.3 L752.9,327.3 L753.6,327.3 L754.2,327.3 L754.8,327.3 L755.4,327.3 L756.0,327.3 L756.7,327.3 L757.3,327.3 L757.9,327.3 L758.5,327.4 L759.1,327.4 L759.8,327.4 L760.4,327.4 L761.0,327.4 L761.6,327.4 L762.2,327.4 L762.9,327.4 L763.5,327.4 L764.1,327.4 L764.7,327.4 L765.4,327.4" stroke="#000000"/>
<path d="M418.1,326.1 L418.7,326.0 L419.3,326.0 L420.0,326.0 L420.6,326.0 L421.2,325.9 L421.8,325.9 L422.4,325.9 L423.1,325.8 L423.7,325.8 L424.3,325.8 L424.9,325.7 L425.5,325.7 L426.2,325.7 L426.8,325.6 L427.4,325.6 L428.0,325.5 L428.6,325.5 L429.3,325.5 L429.9,325.4 L430.5,325.4 L431.1,325.3 L431.7,325.3 L432.4,325.2 L433.0,325.2 L433.6,325.1 L434.2,325.1 L434.8,325.0 L435.5,325.0 L436.1,324.9 L436.7,324.9 L437.3,324.8 L437.9,324.8 L438.6,324.7 L439.2,324.6 L439.8,324.6 L440.4,324.5 L441.0,324.5 L441.7,324.4 L442.3,324.3 L442.9,324.3 L443.5,324.2 L444.1,324.1 L444.8,324.1 L445.4,324.0 L446.0,323.9 L446.6,323.8 L447.2,323.8 L447.9,323.7 L448.5,323.6 L449.1,323.5 L449.7,323.4 L450.3,323.4 L451.0,323.3 L451.6,323.2 L452.2,323.1 L452.8,323.0 L453.4,322.9 L454.1,322.8 L454.7,322.7 L455.3,322.6 L455.9,322.5 L456.5,322.4 L457.2,322.3 L457.8,322.2 L458.4,322.1 L459.0,322.0 L459.6,321.9 L460.3,321.8 L460.9,321.7 L461.5,321.6 L462.1,321.4 L462.7,321.3 L463.4,321.2 L464.0,321.1 L464.6,321.0 L465.2,320.8 L465.8,320.7 L466.5,320.6 L467.1,320.5 L467.7,320.3 L468.3,320.2 L468.9,320.1 L469.6,319.9 L470.2,319.8 L470.8,319.6 L471.4,319.5 L472.0,319.4 L472.7,319.2 L473.3,319.1 L473.9,318.9 L474.5,318.8 L475.1,318.6 L475.8,318.5 L476.4,318.3 L477.0,318.1 L477.6,318.0 L478.2,317.8 L478.9,317.7 L479.5,317.5 L480.1,317.3 L480.7,317.2 L481.3,317.0 L482.0,316.8 L482.6,316.6 L483.2,316.5 L483.8,316.3 L484.4,316.1 L485.1,315.9 L485.7,315.7 L486.3,315.5 L486.9,315.4 L487.6,315.2 L488.2,315.0 L488.8,314.8 L489.4,314.6 L490.0,314.4 L490.7,314.2 L491.3,314.0 L491.9,313.8 L492.5,313.6 L493.1,313.4 L493.8,313.2 L494.4,313.0 L495.0,312.8 L495.6,312.6 L496.2,312.3 L496.9,312.1 L497.5,311.9 L498.1,311.7 L498.7,311.5 L499.3,311.3 L500.0,311.1 L500.6,310.9 L501.2,310.6 L501.8,310.4 L502.4,310.2 L503.1,310.0 L503.7,309.8 L504.3,309.6 L504.9,309.3 L505.5,309.1 L506.2,308.9 L506.8,308.7 L507.4,308.5 L508.0,308.2 L508.6,308.0 L509.3,307.8 L509.9,307.6 L510.5,307.4 L511.1,307.2 L511.7,307.0 L512.4,306.8 L513.0,306.6 L513.6,306.4 L514.2,306.1 L514.8,305.9 L515.5,305.8 L516.1,305.6 L516.7,305.4 L517.3,305.2 L517.9,305.0 L518.6,304.8 L519.2,304.6 L519.8,304.5 L520.4,304.3 L521.0,304.1 L521.7,304.0 L522.3,303.8 L522.9,303.7 L523.5,303.6 L524.1,303.4 L524.8,303.3 L525.4,303.2 L526.0,303.1 L526.6,303.0 L527.2,302.9 L527.9,302.8 L528.5,302.8 L529.1,302.7 L529.7,302.6 L530.3,302.6 L531.0,302.6 L531.6,302.5 L532.2,302.5 L532.8,302.5 L533.4,302.5 L534.1,302.5 L534.7,302.5 L535.3,302.5 L535.9,302.6 L536.5,302.6 L537.2,302.6 L537.8,302.7 L538.4,302.8 L539.0,302.8 L539.6,302.9 L540.3,303.0 L540.9,303.1 L541.5,303.1 L542.1,303.2 L542.7,303.3 L543.4,303.4 L544.0,303.6 L544.6,303.7 L545.2,303.8 L545.8,303.9 L546.5,304.1 L547.1,304.2 L547.7,304.3 L548.3,304.5 L548.9,304.6 L549.6,304.8 L550.2,305.0 L550.8,305.1 L551.4,305.3 L552.0,305.5 L552.7,305.7 L553.3,305.8 L553.9,306.0 L554.5,306.2 L555.1,306.4 L555.8,306.6 L556.4,306.8 L557.0,307.0 L557.6,307.2 L558.2,307.4 L558.9,307.7 L559.5,307.9 L560.1,308.1 L560.7,308.3 L561.3,308.5 L562.0,308.8 L562.6,309.0 L563.2,309.2 L563.8,309.5 L564.4,309.7 L565.1,309.9 L565.7,310.2 L566.3,310.4 L566.9,310.6 L567.5,310.9 L568.2,311.1 L568.8,311.4 L569.4,311.6 L570.0,311.8 L570.6,312.1 L571.3,312.3 L571.9,312.5 L572.5,312.8 L573.1,313.0 L573.7,313.2 L574.4,313.4 L575.0,313.6 L575.6,313.8 L576.2,314.0 L576.8,314.2 L577.5,314.4 L578.1,314.5 L578.7,314.7 L579.3,314.8 L579.9,315.0 L580.6,315.1 L581.2,315.3 L581.8,315.4 L582.4,315.5 L583.0,315.6 L583.7,315.6 L584.3,315.7 L584.9,315.8 L585.5,315.8 L586.1,315.8 L586.8,315.8 L587.4,315.8 L588.0,315.8 L588.6,315.8 L589.2,315.7 L589.9,315.6 L590.5,315.5 L591.1,315.4 L591.7,315.2 L592.3,315.0 L593.0,314.8 L593.6,314.6 L594.2,314.3 L594.8,313.9 L595.4,313.6 L596.1,313.1 L596.7,312.6 L597.3,312.1 L597.9,311.5 L598.5,310.8 L599.2,310.0 L599.8,309.2 L600.4,308.2 L601.0,307.2 L601.6,306.0 L602.3,304.7 L602.9,303.2 L603.5,301.6 L604.1,299.8 L604.7,297.8 L605.4,295.6 L606.0,293.2 L606.6,290.6 L607.2,287.7 L607.8,284.6 L608.5,281.2 L609.1,277.6 L609.7,273.6 L610.3,269.3 L610.9,264.7 L611.6,259.6 L612.2,254.2 L612.8,248.3 L613.4,242.0 L614.0,235.1 L614.7,227.6 L615.3,219.5 L615.9,210.7 L616.5,201.1 L617.1,190.8 L617.8,179.6 L618.4,167.4 L619.0,154.3 L619.6,140.2 L620.2,126.0 L620.9,126.0 L621.5,126.0 L622.1,126.0 L622.7,126.0 L623.3,126.0 L624.0,126.0 L624.6,126.0 L625.2,126.0 L625.8,126.0 L626.5,126.0 L627.1,126.0 L627.7,126.0 L628.3,126.0 L628.9,126.0 L629.6,126.0 L630.2,126.0 L630.8,126.0 L631.4,126.0 L632.0,126.0 L632.7,126.0 L633.3,126.0 L633.9,126.0 L634.5,126.0 L635.1,126.0 L635.8,126.0 L636.4,126.0 L637.0,126.0 L637.6,126.0 L638.2,126.0 L638.9,126.0 L639.5,126.0 L640.1,126.0 L640.7,126.0 L641.3,126.0 L642.0,126.0 L642.6,126.0 L643.2,126.0 L643.8,126.0 L644.4,126.0 L645.1,126.0 L645.7,126.0 L646.3,126.0 L646.9,126.0 L647.5,132.0 L648.2,148.0 L648.8,162.8 L649.4,176.3 L650.0,188.8 L650.6,200.2 L651.3,210.6 L651.9,220.2 L652.5,228.9 L653.1,236.9 L653.7,244.1 L654.4,250.8 L655.0,256.8 L655.6,262.4 L656.2,267.4 L656.8,272.0 L657.5,276.2 L658.1,280.1 L658.7,283.6 L659.3,286.8 L659.9,289.7 L660.6,292.4 L661.2,294.9 L661.8,297.1 L662.4,299.2 L663.0,301.1 L663.7,302.9 L664.3,304.5 L664.9,306.0 L665.5,307.3 L666.1,308.6 L666.8,309.7 L667.4,310.8 L668.0,311.8 L668.6,312.7 L669.2,313.5 L669.9,314.3 L670.5,315.0 L671.1,315.7 L671.7,316.3 L672.3,316.9 L673.0,317.5 L673.6,318.0 L674.2,318.4 L674.8,318.9 L675.4,319.3 L676.1,319.7 L676.7,320.0 L677.3,320.4 L677.9,320.7 L678.5,321.0 L679.2,321.3 L679.8,321.5 L680.4,321.8 L681.0,322.0 L681.6,322.2 L682.3,322.4 L682.9,322.6 L683.5,322.8 L684.1,323.0 L684.7,323.1 L685.4,323.3 L686.0,323.4 L686.6,323.5 L687.2,323.7 L687.8,323.8 L688.5,323.9 L689.1,324.0 L689.7,324.1 L690.3,324.2 L690.9,324.3 L691.6,324.4 L692.2,324.5 L692.8,324.6 L693.4,324.7 L694.0,324.7 L694.7,324.8 L695.3,324.9 L695.9,324.9 L696.5,325.0 L697.1,325.0 L697.8,325.1 L698.4,325.1 L699.0,325.2 L699.6,325.2 L700.2,325.3 L700.9,325.3 L701.5,325.4 L702.1,325.4 L702.7,325.5 L703.3,325.5 L704.0,325.5 L704.6,325.6 L705.2,325.6 L705.8,325.6 L706.4,325.7 L707.1,325.7 L707.7,325.7 L708.3,325.7 L708.9,325.8 L709.5,325.8 L710.2,325.8 L710.8,325.8 L711.4,325.9 L712.0,325.9 L712.6,325.9 L713.3,325.9 L713.9,325.9 L714.5,326.0 L715.1,326.0 L715.7,326.0 L716.4,326.0 L717.0,326.0 L717.6,326.0 L718.2,326.1 L718.8,326.1 L719.5,326.1 L720.1,326.1 L720.7,326.1 L721.3,326.1 L721.9,326.1 L722.6,326.2 L723.2,326.2 L723.8,326.2 L724.4,326.2 L725.0,326.2 L725.7,326.2 L726.3,326.2 L726.9,326.2 L727.5,326.2 L728.1,326.3 L728.8,326.3 L729.4,326.3 L730.0,326.3 L730.6,326.3 L731.2,326.3 L731.9,326.3 L732.5,326.3 L733.1,326.3 L733.7,326.3 L734.3,326.4 L735.0,326.4 L735.6,326.4 L736.2,326.4 L736.8,326.4 L737.4,326.4 L738.1,326.4 L738.7,326.4 L739.3,326.4 L739.9,326.4 L740.5,326.4 L741.2,326.5 L741.8,326.5 L742.4,326.5 L743.0,326.5 L743.6,326.5 L744.3,326.5 L744.9,326.5 L745.5,326.5 L746.1,326.5 L746.7,326.5 L747.4,326.5 L748.0,326.5 L748.6,326.6 L749.2,326.6 L749.8,326.6 L750.5,326.6 L751.1,326.6 L751.7,326.6 L752.3,326.6 L752.9,326.6 L753.6,326.6 L754.2,326.6 L754.8,326.6 L755.4,326.6 L756.0,326.7 L756.7,326.7 L757.3,326.7 L757.9,326.7 L758.5,326.7 L759.1,326.7 L759.8,326.7 L760.4,326.7 L761.0,326.7 L761.6,326.8 L762.2,326.8 L762.9,326.8 L763.5,326.8 L764.1,326.8 L764.7,326.8 L765.4,326.8" stroke="#ff0000" stroke-dasharray="12 5.8"/>
<path d="M418.1,326.1 L418.7,326.0 L419.3,326.0 L420.0,326.0 L420.6,326.0 L421.2,325.9 L421.8,325.9 L422.4,325.9 L423.1,325.8 L423.7,325.8 L424.3,325.8 L424.9,325.7 L425.5,325.7 L426.2,325.7 L426.8,325.6 L427.4,325.6 L428.0,325.6 L428.6,325.5 L429.3,325.5 L429.9,325.4 L430.5,325.4 L431.1,325.4 L431.7,325.3 L432.4,325.3 L433.0,325.2 L433.6,325.2 L434.2,325.1 L434.8,325.1 L435.5,325.0 L436.1,325.0 L436.7,324.9 L437.3,324.9 L437.9,324.8 L438.6,324.8 L439.2,324.7 L439.8,324.6 L440.4,324.6 L441.0,324.5 L441.7,324.4 L442.3,324.4 L442.9,324.3 L443.5,324.2 L444.1,324.2 L444.8,324.1 L445.4,324.0 L446.0,323.9 L446.6,323.9 L447.2,323.8 L447.9,323.7 L448.5,323.6 L449.1,323.5 L449.7,323.5 L450.3,323.4 L451.0,323.3 L451.6,323.2 L452.2,323.1 L452.8,323.0 L453.4,322.9 L454.1,322.8 L454.7,322.7 L455.3,322.6 L455.9,322.5 L456.5,322.4 L457.2,322.3 L457.8,322.2 L458.4,322.1 L459.0,322.0 L459.6,321.9 L460.3,321.7 L460.9,321.6 L461.5,321.5 L462.1,321.4 L462.7,321.3 L463.4,321.1 L464.0,321.0 L464.6,320.9 L465.2,320.8 L465.8,320.6 L466.5,320.5 L467.1,320.4 L467.7,320.2 L468.3,320.1 L468.9,320.0 L469.6,319.8 L470.2,319.7 L470.8,319.6 L471.4,319.4 L472.0,319.3 L472.7,319.1 L473.3,319.0 L473.9,318.8 L474.5,318.7 L475.1,318.5 L475.8,318.4 L476.4,318.2 L477.0,318.1 L477.6,317.9 L478.2,317.8 L478.9,317.6 L479.5,317.5 L480.1,317.3 L480.7,317.1 L481.3,317.0 L482.0,316.8 L482.6,316.6 L483.2,316.5 L483.8,316.3 L484.4,316.1 L485.1,316.0 L485.7,315.8 L486.3,315.6 L486.9,315.4 L487.6,315.3 L488.2,315.1 L488.8,314.9 L489.4,314.7 L490.0,314.5 L490.7,314.3 L491.3,314.1 L491.9,314.0 L492.5,313.8 L493.1,313.6 L493.8,313.4 L494.4,313.2 L495.0,313.0 L495.6,312.8 L496.2,312.6 L496.9,312.4 L497.5,312.1 L498.1,311.9 L498.7,311.7 L499.3,311.5 L500.0,311.3 L500.6,311.1 L501.2,310.9 L501.8,310.6 L502.4,310.4 L503.1,310.2 L503.7,310.0 L504.3,309.7 L504.9,309.5 L505.5,309.3 L506.2,309.0 L506.8,308.8 L507.4,308.5 L508.0,308.3 L508.6,308.0 L509.3,307.8 L509.9,307.6 L510.5,307.3 L511.1,307.1 L511.7,306.8 L512.4,306.6 L513.0,306.3 L513.6,306.1 L514.2,305.8 L514.8,305.6 L515.5,305.3 L516.1,305.1 L516.7,304.8 L517.3,304.6 L517.9,304.3 L518.6,304.1 L519.2,303.9 L519.8,303.6 L520.4,303.4 L521.0,303.2 L521.7,303.0 L522.3,302.7 L522.9,302.5 L523.5,302.3 L524.1,302.1 L524.8,301.9 L525.4,301.7 L526.0,301.6 L526.6,301.4 L527.2,301.2 L527.9,301.1 L528.5,300.9 L529.1,300.8 L529.7,300.6 L530.3,300.5 L531.0,300.4 L531.6,300.3 L532.2,300.2 L532.8,300.1 L533.4,300.0 L534.1,299.9 L534.7,299.9 L535.3,299.8 L535.9,299.8 L536.5,299.7 L537.2,299.7 L537.8,299.7 L538.4,299.7 L539.0,299.7 L539.6,299.7 L540.3,299.7 L540.9,299.7 L541.5,299.7 L542.1,299.8 L542.7,299.8 L543.4,299.9 L544.0,299.9 L544.6,300.0 L545.2,300.0 L545.8,300.1 L546.5,300.2 L547.1,300.3 L547.7,300.4 L548.3,300.5 L548.9,300.6 L549.6,300.7 L550.2,300.8 L550.8,301.0 L551.4,301.1 L552.0,301.2 L552.7,301.4 L553.3,301.5 L553.9,301.6 L554.5,301.8 L555.1,301.9 L555.8,302.1 L556.4,302.2 L557.0,302.4 L557.6,302.6 L558.2,302.7 L558.9,302.9 L559.5,303.1 L560.1,303.2 L560.7,303.4 L561.3,303.6 L562.0,303.7 L562.6,303.9 L563.2,304.1 L563.8,304.3 L564.4,304.5 L565.1,304.6 L565.7,304.8 L566.3,305.0 L566.9,305.2 L567.5,305.4 L568.2,305.6 L568.8,305.8 L569.4,306.0 L570.0,306.1 L570.6,306.3 L571.3,306.5 L571.9,306.7 L572.5,306.9 L573.1,307.1 L573.7,307.3 L574.4,307.5 L575.0,307.7 L575.6,307.9 L576.2,308.1 L576.8,308.3 L577.5,308.5 L578.1,308.7 L578.7,308.9 L579.3,309.1 L579.9,309.3 L580.6,309.4 L581.2,309.6 L581.8,309.8 L582.4,310.0 L583.0,310.2 L583.7,310.4 L584.3,310.6 L584.9,310.8 L585.5,311.0 L586.1,311.2 L586.8,311.4 L587.4,311.5 L588.0,311.7 L588.6,311.9 L589.2,312.1 L589.9,312.3 L590.5,312.5 L591.1,312.7 L591.7,312.8 L592.3,313.0 L593.0,313.2 L593.6,313.4 L594.2,313.6 L594.8,313.7 L595.4,313.9 L596.1,314.1 L596.7,314.3 L597.3,314.4 L597.9,314.6 L598.5,314.8 L599.2,314.9 L599.8,315.1 L600.4,315.3 L601.0,315.4 L601.6,315.6 L602.3,315.7 L602.9,315.9 L603.5,316.0 L604.1,316.2 L604.7,316.3 L605.4,316.4 L606.0,316.6 L606.6,316.7 L607.2,316.8 L607.8,317.0 L608.5,317.1 L609.1,317.2 L609.7,317.3 L610.3,317.5 L610.9,317.6 L611.6,317.7 L612.2,317.8 L612.8,317.9 L613.4,318.0 L614.0,318.1 L614.7,318.2 L615.3,318.3 L615.9,318.4 L616.5,318.5 L617.1,318.6 L617.8,318.6 L618.4,318.7 L619.0,318.8 L619.6,318.9 L620.2,319.0 L620.9,319.1 L621.5,319.1 L622.1,319.2 L622.7,319.3 L623.3,319.4 L624.0,319.4 L624.6,319.5 L625.2,319.6 L625.8,319.6 L626.5,319.7 L627.1,319.8 L627.7,319.8 L628.3,319.9 L628.9,320.0 L629.6,320.0 L630.2,320.1 L630.8,320.1 L631.4,320.2 L632.0,320.2 L632.7,320.3 L633.3,320.4 L633.9,320.4 L634.5,320.5 L635.1,320.5 L635.8,320.6 L636.4,320.6 L637.0,320.7 L637.6,320.7 L638.2,320.8 L638.9,320.9 L639.5,320.9 L640.1,321.0 L640.7,321.0 L641.3,321.1 L642.0,321.1 L642.6,321.2 L643.2,321.2 L643.8,321.3 L644.4,321.3 L645.1,321.4 L645.7,321.4 L646.3,321.5 L646.9,321.5 L647.5,321.6 L648.2,321.6 L648.8,321.7 L649.4,321.7 L650.0,321.8 L650.6,321.8 L651.3,321.9 L651.9,321.9 L652.5,322.0 L653.1,322.0 L653.7,322.1 L654.4,322.1 L655.0,322.2 L655.6,322.2 L656.2,322.3 L656.8,322.3 L657.5,322.4 L658.1,322.4 L658.7,322.5 L659.3,322.6 L659.9,322.6 L660.6,322.7 L661.2,322.7 L661.8,322.8 L662.4,322.8 L663.0,322.9 L663.7,322.9 L664.3,323.0 L664.9,323.0 L665.5,323.1 L666.1,323.1 L666.8,323.2 L667.4,323.2 L668.0,323.3 L668.6,323.3 L669.2,323.4 L669.9,323.4 L670.5,323.5 L671.1,323.5 L671.7,323.6 L672.3,323.6 L673.0,323.7 L673.6,323.7 L674.2,323.8 L674.8,323.8 L675.4,323.9 L676.1,323.9 L676.7,324.0 L677.3,324.0 L677.9,324.1 L678.5,324.1 L679.2,324.1 L679.8,324.2 L680.4,324.2 L681.0,324.3 L681.6,324.3 L682.3,324.4 L682.9,324.4 L683.5,324.4 L684.1,324.5 L684.7,324.5 L685.4,324.6 L686.0,324.6 L686.6,324.6 L687.2,324.7 L687.8,324.7 L688.5,324.8 L689.1,324.8 L689.7,324.8 L690.3,324.9 L690.9,324.9 L691.6,325.0 L692.2,325.0 L692.8,325.0 L693.4,325.1 L694.0,325.1 L694.7,325.1 L695.3,325.2 L695.9,325.2 L696.5,325.2 L697.1,325.3 L697.8,325.3 L698.4,325.3 L699.0,325.3 L699.6,325.4 L700.2,325.4 L700.9,325.4 L701.5,325.5 L702.1,325.5 L702.7,325.5 L703.3,325.5 L704.0,325.6 L704.6,325.6 L705.2,325.6 L705.8,325.7 L706.4,325.7 L707.1,325.7 L707.7,325.7 L708.3,325.7 L708.9,325.8 L709.5,325.8 L710.2,325.8 L710.8,325.8 L711.4,325.9 L712.0,325.9 L712.6,325.9 L713.3,325.9 L713.9,325.9 L714.5,325.9 L715.1,326.0 L715.7,326.0 L716.4,326.0 L717.0,326.0 L717.6,326.0 L718.2,326.0 L718.8,326.1 L719.5,326.1 L720.1,326.1 L720.7,326.1 L721.3,326.1 L721.9,326.1 L722.6,326.1 L723.2,326.2 L723.8,326.2 L724.4,326.2 L725.0,326.2 L725.7,326.2 L726.3,326.2 L726.9,326.2 L727.5,326.2 L728.1,326.3 L728.8,326.3 L729.4,326.3 L730.0,326.3 L730.6,326.3 L731.2,326.3 L731.9,326.3 L732.5,326.3 L733.1,326.3 L733.7,326.4 L734.3,326.4 L735.0,326.4 L735.6,326.4 L736.2,326.4 L736.8,326.4 L737.4,326.4 L738.1,326.4 L738.7,326.4 L739.3,326.4 L739.9,326.4 L740.5,326.5 L741.2,326.5 L741.8,326.5 L742.4,326.5 L743.0,326.5 L743.6,326.5 L744.3,326.5 L744.9,326.5 L745.5,326.5 L746.1,326.5 L746.7,326.5 L747.4,326.6 L748.0,326.6 L748.6,326.6 L749.2,326.6 L749.8,326.6 L750.5,326.6 L751.1,326.6 L751.7,326.6 L752.3,326.6 L752.9,326.6 L753.6,326.6 L754.2,326.7 L754.8,326.7 L755.4,326.7 L756.0,326.7 L756.7,326.7 L757.3,326.7 L757.9,326.7 L758.5,326.7 L759.1,326.7 L759.8,326.7 L760.4,326.8 L761.0,326.8 L761.6,326.8 L762.2,326.8 L762.9,326.8 L763.5,326.8 L764.1,326.8 L764.7,326.8 L765.4,326.8" stroke="#0000ff" stroke-dasharray="10.7 6.5 2.5 6.6"/>
</g>
<path d="M467.71,166.0v10 M467.71,328.1v-10 M591.73,166.0v10 M591.73,328.1v-10 M715.74,166.0v10 M715.74,328.1v-10 M529.72,166.0v5 M529.72,328.1v-5 M653.73,166.0v5 M653.73,328.1v-5 M418.1,255.80h13.5 M765.35,255.80h-13.5 M418.1,183.55h13.5 M765.35,183.55h-13.5 M418.1,291.93h6.8 M765.35,291.93h-6.8 M418.1,219.68h6.8 M765.35,219.68h-6.8" stroke="#000" stroke-width="1.2" fill="none"/>
<rect x="418.1" y="166.0" width="347.25" height="162.10000000000002" fill="none" stroke="#000" stroke-width="1.4"/>
<clipPath id="cpf"><rect x="418.1" y="336.0" width="347.25" height="162.10000000000002"/></clipPath>
<g clip-path="url(#cpf)" fill="none" stroke-width="2.4" stroke-linejoin="round">
<path d="M418.1,497.7 L418.7,497.7 L419.3,497.7 L420.0,497.7 L420.6,497.7 L421.2,497.6 L421.8,497.6 L422.4,497.6 L423.1,497.6 L423.7,497.6 L424.3,497.6 L424.9,497.6 L425.5,497.5 L426.2,497.5 L426.8,497.5 L427.4,497.5 L428.0,497.5 L428.6,497.5 L429.3,497.4 L429.9,497.4 L430.5,497.4 L431.1,497.4 L431.7,497.4 L432.4,497.4 L433.0,497.3 L433.6,497.3 L434.2,497.3 L434.8,497.3 L435.5,497.3 L436.1,497.3 L436.7,497.2 L437.3,497.2 L437.9,497.2 L438.6,497.2 L439.2,497.2 L439.8,497.2 L440.4,497.1 L441.0,497.1 L441.7,497.1 L442.3,497.1 L442.9,497.1 L443.5,497.1 L444.1,497.0 L444.8,497.0 L445.4,497.0 L446.0,497.0 L446.6,497.0 L447.2,497.0 L447.9,496.9 L448.5,496.9 L449.1,496.9 L449.7,496.9 L450.3,496.9 L451.0,496.9 L451.6,496.8 L452.2,496.8 L452.8,496.8 L453.4,496.8 L454.1,496.8 L454.7,496.8 L455.3,496.7 L455.9,496.7 L456.5,496.7 L457.2,496.7 L457.8,496.7 L458.4,496.7 L459.0,496.6 L459.6,496.6 L460.3,496.6 L460.9,496.6 L461.5,496.6 L462.1,496.6 L462.7,496.6 L463.4,496.5 L464.0,496.5 L464.6,496.5 L465.2,496.5 L465.8,496.5 L466.5,496.5 L467.1,496.4 L467.7,496.4 L468.3,496.4 L468.9,496.4 L469.6,496.4 L470.2,496.4 L470.8,496.4 L471.4,496.3 L472.0,496.3 L472.7,496.3 L473.3,496.3 L473.9,496.3 L474.5,496.3 L475.1,496.2 L475.8,496.2 L476.4,496.2 L477.0,496.2 L477.6,496.2 L478.2,496.2 L478.9,496.2 L479.5,496.1 L480.1,496.1 L480.7,496.1 L481.3,496.1 L482.0,496.1 L482.6,496.1 L483.2,496.0 L483.8,496.0 L484.4,496.0 L485.1,496.0 L485.7,496.0 L486.3,496.0 L486.9,495.9 L487.6,495.9 L488.2,495.9 L488.8,495.9 L489.4,495.9 L490.0,495.9 L490.7,495.8 L491.3,495.8 L491.9,495.8 L492.5,495.8 L493.1,495.8 L493.8,495.7 L494.4,495.7 L495.0,495.7 L495.6,495.7 L496.2,495.7 L496.9,495.6 L497.5,495.6 L498.1,495.6 L498.7,495.6 L499.3,495.5 L500.0,495.5 L500.6,495.5 L501.2,495.5 L501.8,495.4 L502.4,495.4 L503.1,495.4 L503.7,495.4 L504.3,495.3 L504.9,495.3 L505.5,495.3 L506.2,495.2 L506.8,495.2 L507.4,495.2 L508.0,495.1 L508.6,495.1 L509.3,495.1 L509.9,495.0 L510.5,495.0 L511.1,495.0 L511.7,494.9 L512.4,494.9 L513.0,494.8 L513.6,494.8 L514.2,494.8 L514.8,494.7 L515.5,494.7 L516.1,494.6 L516.7,494.6 L517.3,494.5 L517.9,494.5 L518.6,494.4 L519.2,494.4 L519.8,494.3 L520.4,494.3 L521.0,494.2 L521.7,494.2 L522.3,494.1 L522.9,494.1 L523.5,494.0 L524.1,493.9 L524.8,493.9 L525.4,493.8 L526.0,493.8 L526.6,493.7 L527.2,493.6 L527.9,493.6 L528.5,493.5 L529.1,493.4 L529.7,493.4 L530.3,493.3 L531.0,493.2 L531.6,493.1 L532.2,493.1 L532.8,493.0 L533.4,492.9 L534.1,492.8 L534.7,492.8 L535.3,492.7 L535.9,492.6 L536.5,492.5 L537.2,492.4 L537.8,492.4 L538.4,492.3 L539.0,492.2 L539.6,492.1 L540.3,492.0 L540.9,491.9 L541.5,491.8 L542.1,491.7 L542.7,491.6 L543.4,491.5 L544.0,491.4 L544.6,491.4 L545.2,491.3 L545.8,491.2 L546.5,491.1 L547.1,491.0 L547.7,490.8 L548.3,490.7 L548.9,490.6 L549.6,490.5 L550.2,490.4 L550.8,490.3 L551.4,490.2 L552.0,490.1 L552.7,490.0 L553.3,489.9 L553.9,489.7 L554.5,489.6 L555.1,489.5 L555.8,489.4 L556.4,489.3 L557.0,489.2 L557.6,489.0 L558.2,488.9 L558.9,488.8 L559.5,488.6 L560.1,488.5 L560.7,488.4 L561.3,488.3 L562.0,488.1 L562.6,488.0 L563.2,487.8 L563.8,487.7 L564.4,487.6 L565.1,487.4 L565.7,487.3 L566.3,487.1 L566.9,487.0 L567.5,486.8 L568.2,486.7 L568.8,486.5 L569.4,486.3 L570.0,486.2 L570.6,486.0 L571.3,485.8 L571.9,485.7 L572.5,485.5 L573.1,485.3 L573.7,485.1 L574.4,484.9 L575.0,484.7 L575.6,484.5 L576.2,484.3 L576.8,484.1 L577.5,483.9 L578.1,483.6 L578.7,483.4 L579.3,483.2 L579.9,482.9 L580.6,482.7 L581.2,482.4 L581.8,482.1 L582.4,481.8 L583.0,481.5 L583.7,481.2 L584.3,480.9 L584.9,480.6 L585.5,480.2 L586.1,479.8 L586.8,479.5 L587.4,479.1 L588.0,478.6 L588.6,478.2 L589.2,477.7 L589.9,477.2 L590.5,476.7 L591.1,476.2 L591.7,475.6 L592.3,475.0 L593.0,474.4 L593.6,473.7 L594.2,473.0 L594.8,472.2 L595.4,471.4 L596.1,470.6 L596.7,469.7 L597.3,468.7 L597.9,467.7 L598.5,466.6 L599.2,465.5 L599.8,464.3 L600.4,463.0 L601.0,461.6 L601.6,460.1 L602.3,458.6 L602.9,456.9 L603.5,455.1 L604.1,453.2 L604.7,451.2 L605.4,449.0 L606.0,446.6 L606.6,444.1 L607.2,441.4 L607.8,438.6 L608.5,435.5 L609.1,432.2 L609.7,428.6 L610.3,424.8 L610.9,420.8 L611.6,416.4 L612.2,411.7 L612.8,406.6 L613.4,401.2 L614.0,395.3 L614.7,388.9 L615.3,382.0 L615.9,374.5 L616.5,366.3 L617.1,357.5 L617.8,347.9 L618.4,337.5 L619.0,326.2 L619.6,314.0 L620.2,300.7 L620.9,296.0 L621.5,296.0 L622.1,296.0 L622.7,296.0 L623.3,296.0 L624.0,296.0 L624.6,296.0 L625.2,296.0 L625.8,296.0 L626.5,296.0 L627.1,296.0 L627.7,296.0 L628.3,296.0 L628.9,296.0 L629.6,296.0 L630.2,296.0 L630.8,296.0 L631.4,296.0 L632.0,296.0 L632.7,296.0 L633.3,296.0 L633.9,296.0 L634.5,296.0 L635.1,296.0 L635.8,296.0 L636.4,296.0 L637.0,296.0 L637.6,296.0 L638.2,296.0 L638.9,296.0 L639.5,296.0 L640.1,296.0 L640.7,296.0 L641.3,296.0 L642.0,296.0 L642.6,296.0 L643.2,296.0 L643.8,296.0 L644.4,296.0 L645.1,296.0 L645.7,296.0 L646.3,296.0 L646.9,296.0 L647.5,296.0 L648.2,296.0 L648.8,310.5 L649.4,325.0 L650.0,338.4 L650.6,350.6 L651.3,361.8 L651.9,372.0 L652.5,381.3 L653.1,389.8 L653.7,397.6 L654.4,404.8 L655.0,411.3 L655.6,417.3 L656.2,422.7 L656.8,427.7 L657.5,432.3 L658.1,436.6 L658.7,440.4 L659.3,444.0 L659.9,447.3 L660.6,450.3 L661.2,453.1 L661.8,455.7 L662.4,458.1 L663.0,460.3 L663.7,462.3 L664.3,464.2 L664.9,466.0 L665.5,467.7 L666.1,469.2 L666.8,470.6 L667.4,472.0 L668.0,473.2 L668.6,474.4 L669.2,475.5 L669.9,476.6 L670.5,477.5 L671.1,478.4 L671.7,479.3 L672.3,480.1 L673.0,480.9 L673.6,481.6 L674.2,482.3 L674.8,483.0 L675.4,483.6 L676.1,484.2 L676.7,484.7 L677.3,485.3 L677.9,485.8 L678.5,486.2 L679.2,486.7 L679.8,487.1 L680.4,487.6 L681.0,488.0 L681.6,488.3 L682.3,488.7 L682.9,489.1 L683.5,489.4 L684.1,489.7 L684.7,490.0 L685.4,490.3 L686.0,490.6 L686.6,490.9 L687.2,491.1 L687.8,491.4 L688.5,491.6 L689.1,491.8 L689.7,492.0 L690.3,492.2 L690.9,492.4 L691.6,492.6 L692.2,492.8 L692.8,493.0 L693.4,493.2 L694.0,493.3 L694.7,493.5 L695.3,493.6 L695.9,493.8 L696.5,493.9 L697.1,494.0 L697.8,494.2 L698.4,494.3 L699.0,494.4 L699.6,494.5 L700.2,494.6 L700.9,494.7 L701.5,494.8 L702.1,494.9 L702.7,495.0 L703.3,495.1 L704.0,495.2 L704.6,495.3 L705.2,495.3 L705.8,495.4 L706.4,495.5 L707.1,495.6 L707.7,495.6 L708.3,495.7 L708.9,495.8 L709.5,495.8 L710.2,495.9 L710.8,495.9 L711.4,496.0 L712.0,496.0 L712.6,496.1 L713.3,496.1 L713.9,496.2 L714.5,496.2 L715.1,496.3 L715.7,496.3 L716.4,496.4 L717.0,496.4 L717.6,496.4 L718.2,496.5 L718.8,496.5 L719.5,496.5 L720.1,496.6 L720.7,496.6 L721.3,496.6 L721.9,496.7 L722.6,496.7 L723.2,496.7 L723.8,496.7 L724.4,496.8 L725.0,496.8 L725.7,496.8 L726.3,496.8 L726.9,496.9 L727.5,496.9 L728.1,496.9 L728.8,496.9 L729.4,497.0 L730.0,497.0 L730.6,497.0 L731.2,497.0 L731.9,497.0 L732.5,497.1 L733.1,497.1 L733.7,497.1 L734.3,497.1 L735.0,497.1 L735.6,497.2 L736.2,497.2 L736.8,497.2 L737.4,497.2 L738.1,497.2 L738.7,497.2 L739.3,497.3 L739.9,497.3 L740.5,497.3 L741.2,497.3 L741.8,497.3 L742.4,497.3 L743.0,497.3 L743.6,497.4 L744.3,497.4 L744.9,497.4 L745.5,497.4 L746.1,497.4 L746.7,497.4 L747.4,497.4 L748.0,497.5 L748.6,497.5 L749.2,497.5 L749.8,497.5 L750.5,497.5 L751.1,497.5 L751.7,497.5 L752.3,497.5 L752.9,497.6 L753.6,497.6 L754.2,497.6 L754.8,497.6 L755.4,497.6 L756.0,497.6 L756.7,497.6 L757.3,497.6 L757.9,497.7 L758.5,497.7 L759.1,497.7 L759.8,497.7 L760.4,497.7 L761.0,497.7 L761.6,497.7 L762.2,497.7 L762.9,497.7 L763.5,497.7 L764.1,497.7 L764.7,497.7 L765.4,497.7" stroke="#000000"/>
<path d="M418.1,497.5 L418.7,497.5 L419.3,497.5 L420.0,497.5 L420.6,497.5 L421.2,497.5 L421.8,497.5 L422.4,497.6 L423.1,497.6 L423.7,497.6 L424.3,497.6 L424.9,497.6 L425.5,497.6 L426.2,497.6 L426.8,497.6 L427.4,497.6 L428.0,497.6 L428.6,497.6 L429.3,497.6 L429.9,497.5 L430.5,497.5 L431.1,497.5 L431.7,497.5 L432.4,497.5 L433.0,497.5 L433.6,497.5 L434.2,497.5 L434.8,497.5 L435.5,497.4 L436.1,497.4 L436.7,497.4 L437.3,497.4 L437.9,497.4 L438.6,497.4 L439.2,497.3 L439.8,497.3 L440.4,497.3 L441.0,497.2 L441.7,497.2 L442.3,497.2 L442.9,497.2 L443.5,497.1 L444.1,497.1 L444.8,497.1 L445.4,497.0 L446.0,497.0 L446.6,496.9 L447.2,496.9 L447.9,496.8 L448.5,496.8 L449.1,496.8 L449.7,496.7 L450.3,496.7 L451.0,496.6 L451.6,496.5 L452.2,496.5 L452.8,496.4 L453.4,496.4 L454.1,496.3 L454.7,496.2 L455.3,496.2 L455.9,496.1 L456.5,496.0 L457.2,496.0 L457.8,495.9 L458.4,495.8 L459.0,495.7 L459.6,495.7 L460.3,495.6 L460.9,495.5 L461.5,495.4 L462.1,495.3 L462.7,495.2 L463.4,495.1 L464.0,495.0 L464.6,494.9 L465.2,494.8 L465.8,494.7 L466.5,494.6 L467.1,494.5 L467.7,494.4 L468.3,494.3 L468.9,494.2 L469.6,494.1 L470.2,494.0 L470.8,493.8 L471.4,493.7 L472.0,493.6 L472.7,493.5 L473.3,493.3 L473.9,493.2 L474.5,493.1 L475.1,492.9 L475.8,492.8 L476.4,492.7 L477.0,492.5 L477.6,492.4 L478.2,492.2 L478.9,492.1 L479.5,491.9 L480.1,491.8 L480.7,491.6 L481.3,491.5 L482.0,491.3 L482.6,491.2 L483.2,491.0 L483.8,490.8 L484.4,490.7 L485.1,490.5 L485.7,490.3 L486.3,490.2 L486.9,490.0 L487.6,489.8 L488.2,489.7 L488.8,489.5 L489.4,489.3 L490.0,489.1 L490.7,489.0 L491.3,488.8 L491.9,488.6 L492.5,488.4 L493.1,488.2 L493.8,488.0 L494.4,487.8 L495.0,487.7 L495.6,487.5 L496.2,487.3 L496.9,487.1 L497.5,486.9 L498.1,486.7 L498.7,486.5 L499.3,486.3 L500.0,486.1 L500.6,485.9 L501.2,485.7 L501.8,485.5 L502.4,485.3 L503.1,485.1 L503.7,484.9 L504.3,484.7 L504.9,484.5 L505.5,484.2 L506.2,484.0 L506.8,483.8 L507.4,483.6 L508.0,483.4 L508.6,483.2 L509.3,483.0 L509.9,482.8 L510.5,482.6 L511.1,482.4 L511.7,482.2 L512.4,482.0 L513.0,481.8 L513.6,481.6 L514.2,481.3 L514.8,481.1 L515.5,481.0 L516.1,480.8 L516.7,480.6 L517.3,480.4 L517.9,480.2 L518.6,480.0 L519.2,479.8 L519.8,479.6 L520.4,479.4 L521.0,479.3 L521.7,479.1 L522.3,478.9 L522.9,478.8 L523.5,478.6 L524.1,478.5 L524.8,478.3 L525.4,478.2 L526.0,478.0 L526.6,477.9 L527.2,477.8 L527.9,477.6 L528.5,477.5 L529.1,477.4 L529.7,477.3 L530.3,477.2 L531.0,477.1 L531.6,477.0 L532.2,477.0 L532.8,476.9 L533.4,476.8 L534.1,476.8 L534.7,476.7 L535.3,476.7 L535.9,476.6 L536.5,476.6 L537.2,476.5 L537.8,476.5 L538.4,476.5 L539.0,476.5 L539.6,476.4 L540.3,476.4 L540.9,476.4 L541.5,476.4 L542.1,476.4 L542.7,476.4 L543.4,476.4 L544.0,476.5 L544.6,476.5 L545.2,476.5 L545.8,476.5 L546.5,476.6 L547.1,476.6 L547.7,476.6 L548.3,476.7 L548.9,476.7 L549.6,476.7 L550.2,476.8 L550.8,476.8 L551.4,476.9 L552.0,476.9 L552.7,477.0 L553.3,477.0 L553.9,477.1 L554.5,477.1 L555.1,477.2 L555.8,477.3 L556.4,477.3 L557.0,477.4 L557.6,477.4 L558.2,477.5 L558.9,477.6 L559.5,477.6 L560.1,477.7 L560.7,477.7 L561.3,477.8 L562.0,477.9 L562.6,477.9 L563.2,478.0 L563.8,478.1 L564.4,478.1 L565.1,478.2 L565.7,478.3 L566.3,478.3 L566.9,478.4 L567.5,478.4 L568.2,478.5 L568.8,478.6 L569.4,478.6 L570.0,478.7 L570.6,478.7 L571.3,478.8 L571.9,478.9 L572.5,478.9 L573.1,479.0 L573.7,479.0 L574.4,479.1 L575.0,479.2 L575.6,479.2 L576.2,479.3 L576.8,479.4 L577.5,479.5 L578.1,479.6 L578.7,479.6 L579.3,479.7 L579.9,479.8 L580.6,479.9 L581.2,480.1 L581.8,480.2 L582.4,480.3 L583.0,480.5 L583.7,480.6 L584.3,480.8 L584.9,481.0 L585.5,481.3 L586.1,481.5 L586.8,481.8 L587.4,482.1 L588.0,482.4 L588.6,482.7 L589.2,483.1 L589.9,483.5 L590.5,483.8 L591.1,484.2 L591.7,484.6 L592.3,485.0 L593.0,485.3 L593.6,485.7 L594.2,486.1 L594.8,486.5 L595.4,486.9 L596.1,487.4 L596.7,488.0 L597.3,488.6 L597.9,489.4 L598.5,490.2 L599.2,491.1 L599.8,492.2 L600.4,493.5 L601.0,494.9 L601.6,496.2 L602.3,497.4 L602.9,498.0 L603.5,497.9 L604.1,496.9 L604.7,495.3 L605.4,493.1 L606.0,490.7 L606.6,488.3 L607.2,485.9 L607.8,483.7 L608.5,481.5 L609.1,479.3 L609.7,477.1 L610.3,474.7 L610.9,471.9 L611.6,468.6 L612.2,464.7 L612.8,460.0 L613.4,454.5 L614.0,448.2 L614.7,441.1 L615.3,433.3 L615.9,424.8 L616.5,415.7 L617.1,406.0 L617.8,395.9 L618.4,385.3 L619.0,374.3 L619.6,363.0 L620.2,351.5 L620.9,339.8 L621.5,328.2 L622.1,316.6 L622.7,305.0 L623.3,296.0 L624.0,296.0 L624.6,296.0 L625.2,296.0 L625.8,296.0 L626.5,296.0 L627.1,296.0 L627.7,296.0 L628.3,296.0 L628.9,296.0 L629.6,296.0 L630.2,296.0 L630.8,296.0 L631.4,296.0 L632.0,296.0 L632.7,296.0 L633.3,296.0 L633.9,296.0 L634.5,296.0 L635.1,296.0 L635.8,296.0 L636.4,296.0 L637.0,296.0 L637.6,296.0 L638.2,296.0 L638.9,296.0 L639.5,296.0 L640.1,296.0 L640.7,296.0 L641.3,296.0 L642.0,296.0 L642.6,296.0 L643.2,296.0 L643.8,296.0 L644.4,296.0 L645.1,296.0 L645.7,296.0 L646.3,307.7 L646.9,321.3 L647.5,334.6 L648.2,347.8 L648.8,360.5 L649.4,372.7 L650.0,384.3 L650.6,395.1 L651.3,405.0 L651.9,414.0 L652.5,422.1 L653.1,429.2 L653.7,435.5 L654.4,441.0 L655.0,445.9 L655.6,450.4 L656.2,454.3 L656.8,457.9 L657.5,461.2 L658.1,464.2 L658.7,467.0 L659.3,469.7 L659.9,472.2 L660.6,474.6 L661.2,476.9 L661.8,479.1 L662.4,481.2 L663.0,483.2 L663.7,485.1 L664.3,487.0 L664.9,488.7 L665.5,490.4 L666.1,492.0 L666.8,493.4 L667.4,494.7 L668.0,495.8 L668.6,496.7 L669.2,497.4 L669.9,497.8 L670.5,498.0 L671.1,498.0 L671.7,497.9 L672.3,497.6 L673.0,497.1 L673.6,496.6 L674.2,496.1 L674.8,495.6 L675.4,495.1 L676.1,494.6 L676.7,494.2 L677.3,493.8 L677.9,493.5 L678.5,493.3 L679.2,493.2 L679.8,493.1 L680.4,493.0 L681.0,493.0 L681.6,493.1 L682.3,493.1 L682.9,493.2 L683.5,493.4 L684.1,493.5 L684.7,493.6 L685.4,493.7 L686.0,493.9 L686.6,493.9 L687.2,494.0 L687.8,494.1 L688.5,494.2 L689.1,494.2 L689.7,494.2 L690.3,494.3 L690.9,494.3 L691.6,494.3 L692.2,494.3 L692.8,494.3 L693.4,494.3 L694.0,494.2 L694.7,494.2 L695.3,494.2 L695.9,494.2 L696.5,494.1 L697.1,494.1 L697.8,494.1 L698.4,494.0 L699.0,494.0 L699.6,494.0 L700.2,494.0 L700.9,494.0 L701.5,493.9 L702.1,493.9 L702.7,493.9 L703.3,493.9 L704.0,494.0 L704.6,494.0 L705.2,494.0 L705.8,494.0 L706.4,494.1 L707.1,494.1 L707.7,494.2 L708.3,494.3 L708.9,494.3 L709.5,494.4 L710.2,494.5 L710.8,494.5 L711.4,494.6 L712.0,494.7 L712.6,494.8 L713.3,494.9 L713.9,494.9 L714.5,495.0 L715.1,495.1 L715.7,495.2 L716.4,495.3 L717.0,495.4 L717.6,495.4 L718.2,495.5 L718.8,495.6 L719.5,495.7 L720.1,495.7 L720.7,495.8 L721.3,495.9 L721.9,495.9 L722.6,496.0 L723.2,496.0 L723.8,496.1 L724.4,496.1 L725.0,496.2 L725.7,496.2 L726.3,496.2 L726.9,496.3 L727.5,496.3 L728.1,496.3 L728.8,496.3 L729.4,496.3 L730.0,496.3 L730.6,496.3 L731.2,496.3 L731.9,496.3 L732.5,496.3 L733.1,496.3 L733.7,496.2 L734.3,496.2 L735.0,496.2 L735.6,496.2 L736.2,496.1 L736.8,496.1 L737.4,496.1 L738.1,496.0 L738.7,496.0 L739.3,496.0 L739.9,495.9 L740.5,495.9 L741.2,495.9 L741.8,495.8 L742.4,495.8 L743.0,495.8 L743.6,495.7 L744.3,495.7 L744.9,495.7 L745.5,495.6 L746.1,495.6 L746.7,495.6 L747.4,495.6 L748.0,495.6 L748.6,495.6 L749.2,495.6 L749.8,495.6 L750.5,495.6 L751.1,495.6 L751.7,495.6 L752.3,495.7 L752.9,495.7 L753.6,495.7 L754.2,495.8 L754.8,495.9 L755.4,495.9 L756.0,496.0 L756.7,496.1 L757.3,496.2 L757.9,496.2 L758.5,496.3 L759.1,496.4 L759.8,496.6 L760.4,496.6 L761.0,496.6 L761.6,496.6 L762.2,496.6 L762.9,496.6 L763.5,496.6 L764.1,496.6 L764.7,496.6 L765.4,496.6" stroke="#ff0000" stroke-dasharray="13.5 6"/>
<path d="M418.1,496.8 L418.7,496.8 L419.3,496.8 L420.0,496.7 L420.6,496.7 L421.2,496.6 L421.8,496.6 L422.4,496.5 L423.1,496.5 L423.7,496.5 L424.3,496.4 L424.9,496.4 L425.5,496.3 L426.2,496.3 L426.8,496.2 L427.4,496.2 L428.0,496.1 L428.6,496.1 L429.3,496.0 L429.9,495.9 L430.5,495.9 L431.1,495.8 L431.7,495.8 L432.4,495.7 L433.0,495.7 L433.6,495.6 L434.2,495.6 L434.8,495.5 L435.5,495.4 L436.1,495.4 L436.7,495.3 L437.3,495.2 L437.9,495.2 L438.6,495.1 L439.2,495.1 L439.8,495.0 L440.4,494.9 L441.0,494.9 L441.7,494.8 L442.3,494.7 L442.9,494.6 L443.5,494.6 L444.1,494.5 L444.8,494.4 L445.4,494.4 L446.0,494.3 L446.6,494.2 L447.2,494.1 L447.9,494.1 L448.5,494.0 L449.1,493.9 L449.7,493.8 L450.3,493.7 L451.0,493.7 L451.6,493.6 L452.2,493.5 L452.8,493.4 L453.4,493.3 L454.1,493.2 L454.7,493.2 L455.3,493.1 L455.9,493.0 L456.5,492.9 L457.2,492.8 L457.8,492.7 L458.4,492.6 L459.0,492.5 L459.6,492.4 L460.3,492.3 L460.9,492.2 L461.5,492.1 L462.1,492.0 L462.7,491.9 L463.4,491.8 L464.0,491.7 L464.6,491.6 L465.2,491.5 L465.8,491.3 L466.5,491.2 L467.1,491.1 L467.7,491.0 L468.3,490.9 L468.9,490.7 L469.6,490.6 L470.2,490.5 L470.8,490.3 L471.4,490.2 L472.0,490.1 L472.7,489.9 L473.3,489.8 L473.9,489.6 L474.5,489.5 L475.1,489.3 L475.8,489.2 L476.4,489.0 L477.0,488.9 L477.6,488.7 L478.2,488.5 L478.9,488.4 L479.5,488.2 L480.1,488.0 L480.7,487.8 L481.3,487.7 L482.0,487.5 L482.6,487.3 L483.2,487.1 L483.8,486.9 L484.4,486.7 L485.1,486.5 L485.7,486.3 L486.3,486.1 L486.9,485.9 L487.6,485.7 L488.2,485.5 L488.8,485.3 L489.4,485.0 L490.0,484.8 L490.7,484.6 L491.3,484.4 L491.9,484.1 L492.5,483.9 L493.1,483.7 L493.8,483.4 L494.4,483.2 L495.0,482.9 L495.6,482.7 L496.2,482.4 L496.9,482.2 L497.5,481.9 L498.1,481.7 L498.7,481.4 L499.3,481.2 L500.0,480.9 L500.6,480.7 L501.2,480.4 L501.8,480.2 L502.4,479.9 L503.1,479.6 L503.7,479.4 L504.3,479.1 L504.9,478.8 L505.5,478.6 L506.2,478.3 L506.8,478.1 L507.4,477.8 L508.0,477.5 L508.6,477.3 L509.3,477.0 L509.9,476.8 L510.5,476.5 L511.1,476.3 L511.7,476.0 L512.4,475.8 L513.0,475.5 L513.6,475.3 L514.2,475.0 L514.8,474.8 L515.5,474.6 L516.1,474.3 L516.7,474.1 L517.3,473.9 L517.9,473.6 L518.6,473.4 L519.2,473.2 L519.8,473.0 L520.4,472.8 L521.0,472.6 L521.7,472.4 L522.3,472.2 L522.9,472.0 L523.5,471.8 L524.1,471.6 L524.8,471.4 L525.4,471.2 L526.0,471.0 L526.6,470.9 L527.2,470.7 L527.9,470.5 L528.5,470.4 L529.1,470.2 L529.7,470.1 L530.3,469.9 L531.0,469.8 L531.6,469.6 L532.2,469.5 L532.8,469.4 L533.4,469.3 L534.1,469.2 L534.7,469.0 L535.3,468.9 L535.9,468.8 L536.5,468.8 L537.2,468.7 L537.8,468.6 L538.4,468.5 L539.0,468.5 L539.6,468.4 L540.3,468.4 L540.9,468.3 L541.5,468.3 L542.1,468.3 L542.7,468.2 L543.4,468.2 L544.0,468.2 L544.6,468.2 L545.2,468.2 L545.8,468.2 L546.5,468.3 L547.1,468.3 L547.7,468.3 L548.3,468.4 L548.9,468.4 L549.6,468.5 L550.2,468.6 L550.8,468.7 L551.4,468.7 L552.0,468.8 L552.7,468.9 L553.3,469.1 L553.9,469.2 L554.5,469.3 L555.1,469.4 L555.8,469.6 L556.4,469.7 L557.0,469.8 L557.6,470.0 L558.2,470.2 L558.9,470.3 L559.5,470.5 L560.1,470.7 L560.7,470.8 L561.3,471.0 L562.0,471.2 L562.6,471.4 L563.2,471.6 L563.8,471.8 L564.4,472.0 L565.1,472.2 L565.7,472.4 L566.3,472.6 L566.9,472.8 L567.5,473.0 L568.2,473.3 L568.8,473.5 L569.4,473.7 L570.0,473.9 L570.6,474.1 L571.3,474.3 L571.9,474.6 L572.5,474.8 L573.1,475.0 L573.7,475.2 L574.4,475.4 L575.0,475.7 L575.6,475.9 L576.2,476.1 L576.8,476.3 L577.5,476.5 L578.1,476.7 L578.7,477.0 L579.3,477.2 L579.9,477.4 L580.6,477.6 L581.2,477.8 L581.8,478.0 L582.4,478.2 L583.0,478.4 L583.7,478.7 L584.3,478.9 L584.9,479.1 L585.5,479.3 L586.1,479.5 L586.8,479.7 L587.4,479.9 L588.0,480.1 L588.6,480.3 L589.2,480.5 L589.9,480.7 L590.5,480.9 L591.1,481.1 L591.7,481.3 L592.3,481.5 L593.0,481.7 L593.6,481.9 L594.2,482.1 L594.8,482.3 L595.4,482.5 L596.1,482.6 L596.7,482.8 L597.3,483.0 L597.9,483.2 L598.5,483.4 L599.2,483.6 L599.8,483.7 L600.4,483.9 L601.0,484.1 L601.6,484.2 L602.3,484.4 L602.9,484.6 L603.5,484.8 L604.1,484.9 L604.7,485.1 L605.4,485.2 L606.0,485.4 L606.6,485.5 L607.2,485.7 L607.8,485.9 L608.5,486.0 L609.1,486.2 L609.7,486.3 L610.3,486.4 L610.9,486.6 L611.6,486.7 L612.2,486.9 L612.8,487.0 L613.4,487.1 L614.0,487.3 L614.7,487.4 L615.3,487.5 L615.9,487.6 L616.5,487.8 L617.1,487.9 L617.8,488.0 L618.4,488.1 L619.0,488.2 L619.6,488.4 L620.2,488.5 L620.9,488.6 L621.5,488.7 L622.1,488.8 L622.7,488.9 L623.3,489.0 L624.0,489.1 L624.6,489.2 L625.2,489.3 L625.8,489.4 L626.5,489.5 L627.1,489.6 L627.7,489.7 L628.3,489.8 L628.9,489.8 L629.6,489.9 L630.2,490.0 L630.8,490.1 L631.4,490.2 L632.0,490.3 L632.7,490.3 L633.3,490.4 L633.9,490.5 L634.5,490.6 L635.1,490.7 L635.8,490.7 L636.4,490.8 L637.0,490.9 L637.6,490.9 L638.2,491.0 L638.9,491.1 L639.5,491.1 L640.1,491.2 L640.7,491.3 L641.3,491.3 L642.0,491.4 L642.6,491.5 L643.2,491.5 L643.8,491.6 L644.4,491.6 L645.1,491.7 L645.7,491.8 L646.3,491.8 L646.9,491.9 L647.5,491.9 L648.2,492.0 L648.8,492.0 L649.4,492.1 L650.0,492.1 L650.6,492.2 L651.3,492.2 L651.9,492.3 L652.5,492.3 L653.1,492.4 L653.7,492.4 L654.4,492.5 L655.0,492.5 L655.6,492.6 L656.2,492.6 L656.8,492.7 L657.5,492.7 L658.1,492.8 L658.7,492.8 L659.3,492.9 L659.9,492.9 L660.6,493.0 L661.2,493.0 L661.8,493.0 L662.4,493.1 L663.0,493.1 L663.7,493.2 L664.3,493.2 L664.9,493.3 L665.5,493.3 L666.1,493.3 L666.8,493.4 L667.4,493.4 L668.0,493.5 L668.6,493.5 L669.2,493.5 L669.9,493.6 L670.5,493.6 L671.1,493.6 L671.7,493.7 L672.3,493.7 L673.0,493.8 L673.6,493.8 L674.2,493.8 L674.8,493.9 L675.4,493.9 L676.1,493.9 L676.7,494.0 L677.3,494.0 L677.9,494.0 L678.5,494.1 L679.2,494.1 L679.8,494.1 L680.4,494.2 L681.0,494.2 L681.6,494.2 L682.3,494.3 L682.9,494.3 L683.5,494.3 L684.1,494.4 L684.7,494.4 L685.4,494.4 L686.0,494.5 L686.6,494.5 L687.2,494.5 L687.8,494.6 L688.5,494.6 L689.1,494.6 L689.7,494.7 L690.3,494.7 L690.9,494.7 L691.6,494.7 L692.2,494.8 L692.8,494.8 L693.4,494.8 L694.0,494.9 L694.7,494.9 L695.3,494.9 L695.9,494.9 L696.5,495.0 L697.1,495.0 L697.8,495.0 L698.4,495.1 L699.0,495.1 L699.6,495.1 L700.2,495.1 L700.9,495.2 L701.5,495.2 L702.1,495.2 L702.7,495.2 L703.3,495.3 L704.0,495.3 L704.6,495.3 L705.2,495.3 L705.8,495.4 L706.4,495.4 L707.1,495.4 L707.7,495.4 L708.3,495.5 L708.9,495.5 L709.5,495.5 L710.2,495.5 L710.8,495.6 L711.4,495.6 L712.0,495.6 L712.6,495.6 L713.3,495.7 L713.9,495.7 L714.5,495.7 L715.1,495.7 L715.7,495.7 L716.4,495.8 L717.0,495.8 L717.6,495.8 L718.2,495.8 L718.8,495.9 L719.5,495.9 L720.1,495.9 L720.7,495.9 L721.3,495.9 L721.9,496.0 L722.6,496.0 L723.2,496.0 L723.8,496.0 L724.4,496.0 L725.0,496.1 L725.7,496.1 L726.3,496.1 L726.9,496.1 L727.5,496.1 L728.1,496.1 L728.8,496.2 L729.4,496.2 L730.0,496.2 L730.6,496.2 L731.2,496.2 L731.9,496.3 L732.5,496.3 L733.1,496.3 L733.7,496.3 L734.3,496.3 L735.0,496.3 L735.6,496.4 L736.2,496.4 L736.8,496.4 L737.4,496.4 L738.1,496.4 L738.7,496.4 L739.3,496.5 L739.9,496.5 L740.5,496.5 L741.2,496.5 L741.8,496.5 L742.4,496.5 L743.0,496.6 L743.6,496.6 L744.3,496.6 L744.9,496.6 L745.5,496.6 L746.1,496.6 L746.7,496.6 L747.4,496.7 L748.0,496.7 L748.6,496.7 L749.2,496.7 L749.8,496.7 L750.5,496.7 L751.1,496.7 L751.7,496.8 L752.3,496.8 L752.9,496.8 L753.6,496.8 L754.2,496.8 L754.8,496.8 L755.4,496.8 L756.0,496.8 L756.7,496.9 L757.3,496.9 L757.9,496.9 L758.5,496.9 L759.1,496.9 L759.8,496.9 L760.4,496.9 L761.0,496.9 L761.6,497.0 L762.2,497.0 L762.9,497.0 L763.5,497.0 L764.1,497.0 L764.7,497.0 L765.4,497.0" stroke="#0000ff" stroke-dasharray="14 6.7 2.5 6.8"/>
</g>
<path d="M467.71,336.0v10 M467.71,498.1v-10 M591.73,336.0v10 M591.73,498.1v-10 M715.74,336.0v10 M715.74,498.1v-10 M529.72,336.0v5 M529.72,498.1v-5 M653.73,336.0v5 M653.73,498.1v-5 M418.1,425.80h13.5 M765.35,425.80h-13.5 M418.1,353.55h13.5 M765.35,353.55h-13.5 M418.1,461.93h6.8 M765.35,461.93h-6.8 M418.1,389.68h6.8 M765.35,389.68h-6.8" stroke="#000" stroke-width="1.2" fill="none"/>
<rect x="418.1" y="336.0" width="347.25" height="162.10000000000002" fill="none" stroke="#000" stroke-width="1.4"/>
<g opacity="0.999">
<text x="105.7" y="520.3" text-anchor="middle" font-family="Liberation Sans" font-size="20.3"  stroke="#000" stroke-width="0.2">-5</text>
<text x="230" y="520.3" text-anchor="middle" font-family="Liberation Sans" font-size="20.3"  stroke="#000" stroke-width="0.2">0</text>
<text x="354.3" y="520.3" text-anchor="middle" font-family="Liberation Sans" font-size="20.3"  stroke="#000" stroke-width="0.2">5</text>
<text x="467.4" y="520.3" text-anchor="middle" font-family="Liberation Sans" font-size="20.3"  stroke="#000" stroke-width="0.2">-5</text>
<text x="591.5" y="520.3" text-anchor="middle" font-family="Liberation Sans" font-size="20.3"  stroke="#000" stroke-width="0.2">0</text>
<text x="715.6" y="520.3" text-anchor="middle" font-family="Liberation Sans" font-size="20.3"  stroke="#000" stroke-width="0.2">5</text>
<text x="48.3" y="37.3" text-anchor="middle" font-family="Liberation Sans" font-size="20.3" transform="rotate(-90 48.3 37.3)"  stroke="#000" stroke-width="0.2">-5</text>
<text x="48.3" y="80.5" text-anchor="middle" font-family="Liberation Sans" font-size="20.3" transform="rotate(-90 48.3 80.5)"  stroke="#000" stroke-width="0.2">0</text>
<text x="48.3" y="123.7" text-anchor="middle" font-family="Liberation Sans" font-size="20.3" transform="rotate(-90 48.3 123.7)"  stroke="#000" stroke-width="0.2">5</text>
<text x="48.3" y="198.1" text-anchor="middle" font-family="Liberation Sans" font-size="20.3" transform="rotate(-90 48.3 198.1)"  stroke="#000" stroke-width="0.2">0.04</text>
<text x="48.3" y="328" text-anchor="middle" font-family="Liberation Sans" font-size="20.3" transform="rotate(-90 48.3 328)"  stroke="#000" stroke-width="0.2">0</text>
<text x="48.3" y="368.1" text-anchor="middle" font-family="Liberation Sans" font-size="20.3" transform="rotate(-90 48.3 368.1)"  stroke="#000" stroke-width="0.2">0.04</text>
<text x="48.3" y="498" text-anchor="middle" font-family="Liberation Sans" font-size="20.3" transform="rotate(-90 48.3 498)"  stroke="#000" stroke-width="0.2">0</text>
<text x="786.8" y="37.3" text-anchor="middle" font-family="Liberation Sans" font-size="20.3" transform="rotate(-90 786.8 37.3)"  stroke="#000" stroke-width="0.2">5</text>
<text x="786.8" y="80.5" text-anchor="middle" font-family="Liberation Sans" font-size="20.3" transform="rotate(-90 786.8 80.5)"  stroke="#000" stroke-width="0.2">0</text>
<text x="786.8" y="123.7" text-anchor="middle" font-family="Liberation Sans" font-size="20.3" transform="rotate(-90 786.8 123.7)"  stroke="#000" stroke-width="0.2">-5</text>
<text x="786.8" y="183.5" text-anchor="middle" font-family="Liberation Sans" font-size="20.3" transform="rotate(-90 786.8 183.5)"  stroke="#000" stroke-width="0.2">0.08</text>
<text x="786.8" y="255.8" text-anchor="middle" font-family="Liberation Sans" font-size="20.3" transform="rotate(-90 786.8 255.8)"  stroke="#000" stroke-width="0.2">0.04</text>
<text x="786.8" y="328" text-anchor="middle" font-family="Liberation Sans" font-size="20.3" transform="rotate(-90 786.8 328)"  stroke="#000" stroke-width="0.2">0</text>
<text x="786.8" y="354" text-anchor="middle" font-family="Liberation Sans" font-size="20.3" transform="rotate(-90 786.8 354)"  stroke="#000" stroke-width="0.2">0.08</text>
<text x="786.8" y="426" text-anchor="middle" font-family="Liberation Sans" font-size="20.3" transform="rotate(-90 786.8 426)"  stroke="#000" stroke-width="0.2">0.04</text>
<text x="786.8" y="498" text-anchor="middle" font-family="Liberation Sans" font-size="20.3" transform="rotate(-90 786.8 498)"  stroke="#000" stroke-width="0.2">0</text>
<text x="75.5" y="56.6" text-anchor="start" font-family="Liberation Sans" font-size="20.3"  stroke="#000" stroke-width="0.2">a)</text>
<text x="81.3" y="199" text-anchor="start" font-family="Liberation Sans" font-size="20.3"  stroke="#000" stroke-width="0.2">b)</text>
<text x="80.5" y="368" text-anchor="start" font-family="Liberation Sans" font-size="20.3"  stroke="#000" stroke-width="0.2">c)</text>
<text x="438.2" y="59.1" text-anchor="start" font-family="Liberation Sans" font-size="20.3"  stroke="#000" stroke-width="0.2">d)</text>
<text x="439.6" y="195.5" text-anchor="start" font-family="Liberation Sans" font-size="20.3"  stroke="#000" stroke-width="0.2">e)</text>
<text x="442" y="367.6" text-anchor="start" font-family="Liberation Sans" font-size="20.3"  stroke="#000" stroke-width="0.2">f)</text>
<text x="22.5" y="78" text-anchor="middle" font-family="Liberation Sans" font-size="20.3" transform="rotate(-90 22.5 78)"  stroke="#000" stroke-width="0.2">energy</text>
<text x="17.5" y="242.6" text-anchor="middle" font-family="Liberation Sans" font-size="21" transform="rotate(-90 17.5 242.6)"><tspan font-style="italic">S</tspan><tspan font-style="italic" font-size="14" dy="7">n</tspan><tspan dy="-7" font-style="italic" dx="1">(</tspan><tspan font-family="Liberation Serif" font-size="23.5" dx="2">λ</tspan><tspan font-style="italic" dx="3">)</tspan></text>
<text x="17.5" y="417.5" text-anchor="middle" font-family="Liberation Sans" font-size="21" transform="rotate(-90 17.5 417.5)"><tspan font-family="Liberation Serif" font-size="19">(1/4)</tspan><tspan font-style="italic" dx="5">C</tspan><tspan font-style="italic" font-size="14" dy="7">n</tspan><tspan dy="-7" font-style="italic" dx="4">(</tspan><tspan font-family="Liberation Serif" font-size="23.5" dx="3">λ</tspan><tspan font-style="italic" dx="3">)</tspan></text>
<text x="208.7" y="527.3" text-anchor="middle" font-family="Liberation Serif" font-size="23"  stroke="#000" stroke-width="0.2">λ</text>
<text x="570" y="527.3" text-anchor="middle" font-family="Liberation Serif" font-size="23"  stroke="#000" stroke-width="0.2">λ</text>
</g>
</svg></body></html>
